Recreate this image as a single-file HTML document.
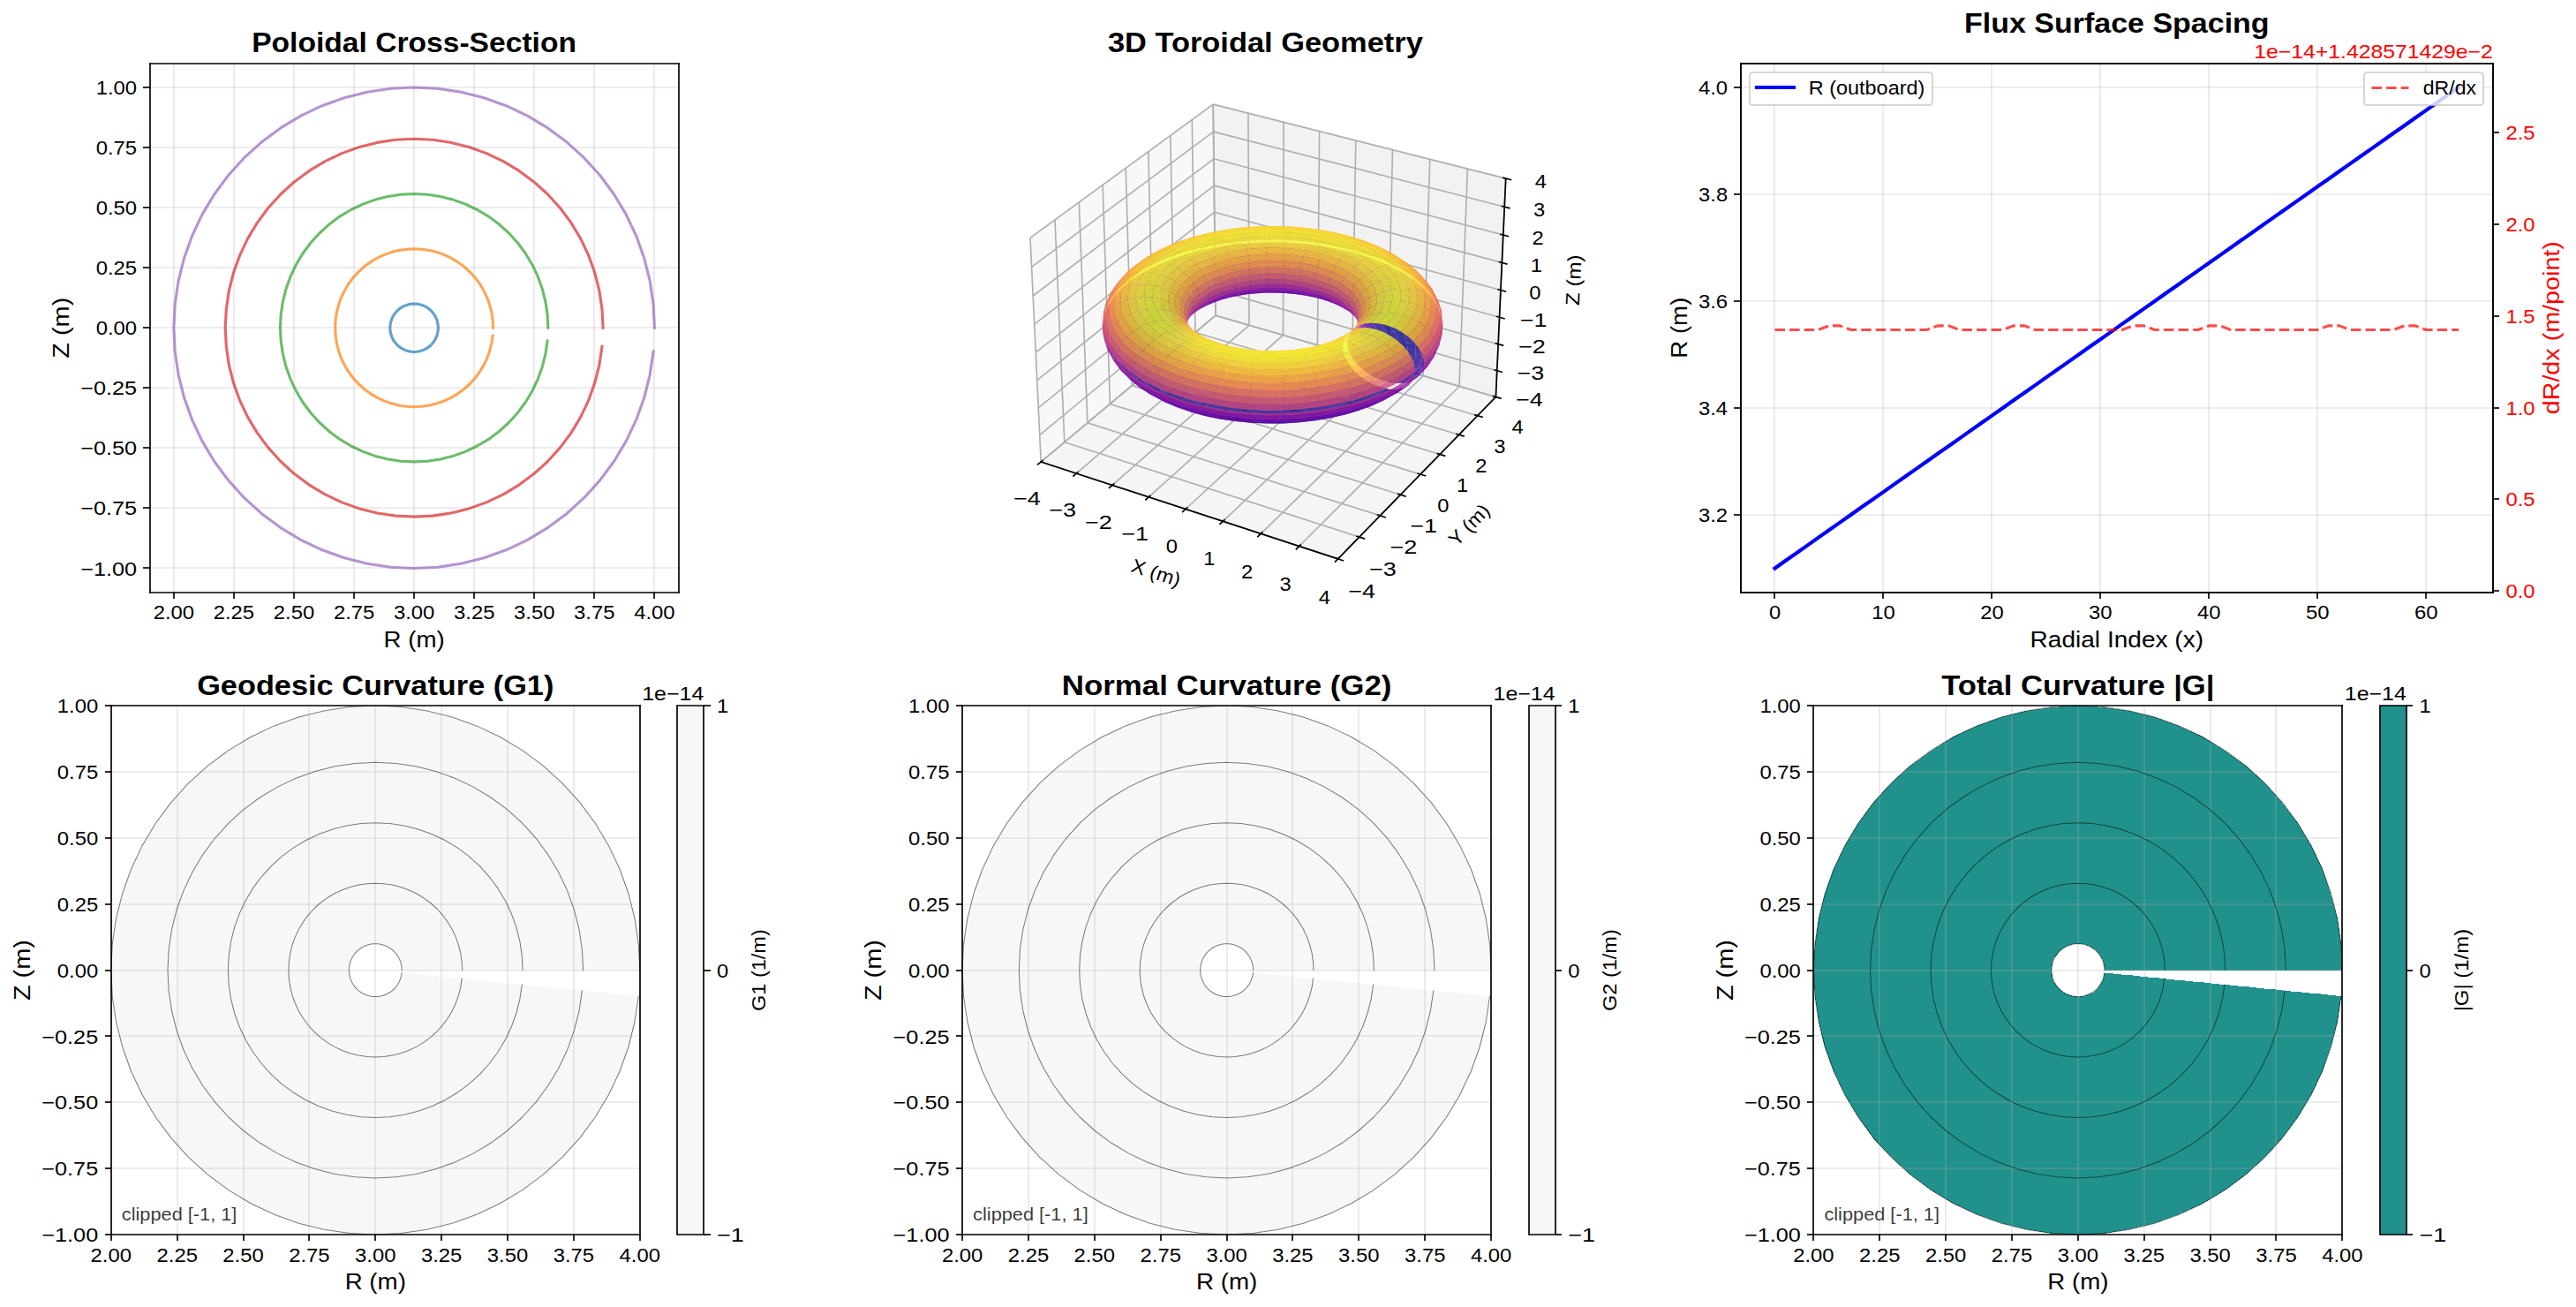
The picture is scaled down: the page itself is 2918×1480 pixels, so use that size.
<!DOCTYPE html><html><head><meta charset="utf-8"><title>Flux geometry</title><style>html,body{margin:0;padding:0;background:#fff;width:2918px;height:1480px;overflow:hidden}svg{display:block;font-family:"Liberation Sans",sans-serif}</style></head><body><svg width="2918" height="1480" viewBox="0 0 2918 1480" font-family="'Liberation Sans', sans-serif" stroke-linejoin="round" stroke-linecap="butt"><defs><clipPath id="c0"><rect x="170" y="72" width="599" height="599"/></clipPath><clipPath id="c1"><rect x="1134" y="72" width="599" height="599"/></clipPath><clipPath id="c2"><rect x="1972" y="72" width="852" height="599"/></clipPath><clipPath id="c3"><rect x="126" y="799" width="599" height="599"/></clipPath><clipPath id="c4"><rect x="767" y="799" width="30" height="599"/></clipPath><clipPath id="c5"><rect x="1090" y="799" width="599" height="599"/></clipPath><clipPath id="c6"><rect x="1732" y="799" width="30" height="599"/></clipPath><clipPath id="c7"><rect x="2054" y="799" width="599" height="599"/></clipPath><clipPath id="c8"><rect x="2696" y="799" width="30" height="599"/></clipPath></defs><path d="M0 1480L2919 1480L2919 0L0 0z" fill="#ffffff"/>
<path d="M170 671L769 671L769 72L170 72z" fill="#ffffff"/>
<g clip-path="url(#c0)">
<path d="M197 671L197 72" fill="none" stroke="#b0b0b0" stroke-opacity="0.3" stroke-width="1.67" stroke-linecap="square"/>
</g>
<path d="M197 671L197 678" fill="#000000" stroke="#000000" stroke-width="1.67"/>
<text x="196.9" y="701.3" font-size="21.88" textLength="46.4" lengthAdjust="spacingAndGlyphs" text-anchor="middle">2.00</text>
<g clip-path="url(#c0)">
<path d="M265 671L265 72" fill="none" stroke="#b0b0b0" stroke-opacity="0.3" stroke-width="1.67" stroke-linecap="square"/>
</g>
<path d="M265 671L265 678" fill="#000000" stroke="#000000" stroke-width="1.67"/>
<text x="264.9" y="701.3" font-size="21.88" textLength="46.4" lengthAdjust="spacingAndGlyphs" text-anchor="middle">2.25</text>
<g clip-path="url(#c0)">
<path d="M333 671L333 72" fill="none" stroke="#b0b0b0" stroke-opacity="0.3" stroke-width="1.67" stroke-linecap="square"/>
</g>
<path d="M333 671L333 678" fill="#000000" stroke="#000000" stroke-width="1.67"/>
<text x="333" y="701.3" font-size="21.88" textLength="46.4" lengthAdjust="spacingAndGlyphs" text-anchor="middle">2.50</text>
<g clip-path="url(#c0)">
<path d="M401 671L401 72" fill="none" stroke="#b0b0b0" stroke-opacity="0.3" stroke-width="1.67" stroke-linecap="square"/>
</g>
<path d="M401 671L401 678" fill="#000000" stroke="#000000" stroke-width="1.67"/>
<text x="401.1" y="701.3" font-size="21.88" textLength="46.4" lengthAdjust="spacingAndGlyphs" text-anchor="middle">2.75</text>
<g clip-path="url(#c0)">
<path d="M469 671L469 72" fill="none" stroke="#b0b0b0" stroke-opacity="0.3" stroke-width="1.67" stroke-linecap="square"/>
</g>
<path d="M469 671L469 678" fill="#000000" stroke="#000000" stroke-width="1.67"/>
<text x="469.1" y="701.3" font-size="21.88" textLength="46.4" lengthAdjust="spacingAndGlyphs" text-anchor="middle">3.00</text>
<g clip-path="url(#c0)">
<path d="M537 671L537 72" fill="none" stroke="#b0b0b0" stroke-opacity="0.3" stroke-width="1.67" stroke-linecap="square"/>
</g>
<path d="M537 671L537 678" fill="#000000" stroke="#000000" stroke-width="1.67"/>
<text x="537.2" y="701.3" font-size="21.88" textLength="46.4" lengthAdjust="spacingAndGlyphs" text-anchor="middle">3.25</text>
<g clip-path="url(#c0)">
<path d="M605 671L605 72" fill="none" stroke="#b0b0b0" stroke-opacity="0.3" stroke-width="1.67" stroke-linecap="square"/>
</g>
<path d="M605 671L605 678" fill="#000000" stroke="#000000" stroke-width="1.67"/>
<text x="605.3" y="701.3" font-size="21.88" textLength="46.4" lengthAdjust="spacingAndGlyphs" text-anchor="middle">3.50</text>
<g clip-path="url(#c0)">
<path d="M673 671L673 72" fill="none" stroke="#b0b0b0" stroke-opacity="0.3" stroke-width="1.67" stroke-linecap="square"/>
</g>
<path d="M673 671L673 678" fill="#000000" stroke="#000000" stroke-width="1.67"/>
<text x="673.3" y="701.3" font-size="21.88" textLength="46.4" lengthAdjust="spacingAndGlyphs" text-anchor="middle">3.75</text>
<g clip-path="url(#c0)">
<path d="M741 671L741 72" fill="none" stroke="#b0b0b0" stroke-opacity="0.3" stroke-width="1.67" stroke-linecap="square"/>
</g>
<path d="M741 671L741 678" fill="#000000" stroke="#000000" stroke-width="1.67"/>
<text x="741.4" y="701.3" font-size="21.88" textLength="46.4" lengthAdjust="spacingAndGlyphs" text-anchor="middle">4.00</text>
<text x="469.1" y="732.6" font-size="26.25" textLength="69.2" lengthAdjust="spacingAndGlyphs" text-anchor="middle">R (m)</text>
<g clip-path="url(#c0)">
<path d="M170 643L769 643" fill="none" stroke="#b0b0b0" stroke-opacity="0.3" stroke-width="1.67" stroke-linecap="square"/>
</g>
<path d="M170 643L162 643" fill="#000000" stroke="#000000" stroke-width="1.67"/>
<text x="155.1" y="651.5" font-size="21.88" textLength="63.9" lengthAdjust="spacingAndGlyphs" text-anchor="end">−1.00</text>
<g clip-path="url(#c0)">
<path d="M170 575L769 575" fill="none" stroke="#b0b0b0" stroke-opacity="0.3" stroke-width="1.67" stroke-linecap="square"/>
</g>
<path d="M170 575L162 575" fill="#000000" stroke="#000000" stroke-width="1.67"/>
<text x="155.1" y="583.4" font-size="21.88" textLength="63.9" lengthAdjust="spacingAndGlyphs" text-anchor="end">−0.75</text>
<g clip-path="url(#c0)">
<path d="M170 507L769 507" fill="none" stroke="#b0b0b0" stroke-opacity="0.3" stroke-width="1.67" stroke-linecap="square"/>
</g>
<path d="M170 507L162 507" fill="#000000" stroke="#000000" stroke-width="1.67"/>
<text x="155.1" y="515.4" font-size="21.88" textLength="63.9" lengthAdjust="spacingAndGlyphs" text-anchor="end">−0.50</text>
<g clip-path="url(#c0)">
<path d="M170 439L769 439" fill="none" stroke="#b0b0b0" stroke-opacity="0.3" stroke-width="1.67" stroke-linecap="square"/>
</g>
<path d="M170 439L162 439" fill="#000000" stroke="#000000" stroke-width="1.67"/>
<text x="155.1" y="447.3" font-size="21.88" textLength="63.9" lengthAdjust="spacingAndGlyphs" text-anchor="end">−0.25</text>
<g clip-path="url(#c0)">
<path d="M170 371L769 371" fill="none" stroke="#b0b0b0" stroke-opacity="0.3" stroke-width="1.67" stroke-linecap="square"/>
</g>
<path d="M170 371L162 371" fill="#000000" stroke="#000000" stroke-width="1.67"/>
<text x="155.1" y="379.2" font-size="21.88" textLength="46.4" lengthAdjust="spacingAndGlyphs" text-anchor="end">0.00</text>
<g clip-path="url(#c0)">
<path d="M170 303L769 303" fill="none" stroke="#b0b0b0" stroke-opacity="0.3" stroke-width="1.67" stroke-linecap="square"/>
</g>
<path d="M170 303L162 303" fill="#000000" stroke="#000000" stroke-width="1.67"/>
<text x="155.1" y="311.2" font-size="21.88" textLength="46.4" lengthAdjust="spacingAndGlyphs" text-anchor="end">0.25</text>
<g clip-path="url(#c0)">
<path d="M170 235L769 235" fill="none" stroke="#b0b0b0" stroke-opacity="0.3" stroke-width="1.67" stroke-linecap="square"/>
</g>
<path d="M170 235L162 235" fill="#000000" stroke="#000000" stroke-width="1.67"/>
<text x="155.1" y="243.1" font-size="21.88" textLength="46.4" lengthAdjust="spacingAndGlyphs" text-anchor="end">0.50</text>
<g clip-path="url(#c0)">
<path d="M170 167L769 167" fill="none" stroke="#b0b0b0" stroke-opacity="0.3" stroke-width="1.67" stroke-linecap="square"/>
</g>
<path d="M170 167L162 167" fill="#000000" stroke="#000000" stroke-width="1.67"/>
<text x="155.1" y="175" font-size="21.88" textLength="46.4" lengthAdjust="spacingAndGlyphs" text-anchor="end">0.75</text>
<g clip-path="url(#c0)">
<path d="M170 99L769 99" fill="none" stroke="#b0b0b0" stroke-opacity="0.3" stroke-width="1.67" stroke-linecap="square"/>
</g>
<path d="M170 99L162 99" fill="#000000" stroke="#000000" stroke-width="1.67"/>
<text x="155.1" y="107" font-size="21.88" textLength="46.4" lengthAdjust="spacingAndGlyphs" text-anchor="end">1.00</text>
<text x="77.9" y="371.2" font-size="26.25" textLength="69" lengthAdjust="spacingAndGlyphs" text-anchor="middle" transform="rotate(-90 77.9 371.2)">Z (m)</text>
<g clip-path="url(#c0)">
<path d="M496.4 371.2L496.2 368.6L495.8 365.9L495.2 363.3L494.3 360.8L493.1 358.4L491.8 356.1L490.2 354L488.4 352L486.4 350.2L484.3 348.6L482 347.2L479.6 346.1L477 345.2L474.4 344.5L471.8 344.1L469.1 344L466.5 344.1L463.8 344.5L461.2 345.2L458.7 346.1L456.3 347.2L454 348.6L451.9 350.2L449.9 352L448.1 354L446.5 356.1L445.1 358.4L444 360.8L443.1 363.3L442.4 365.9L442 368.6L441.9 371.2L442 373.9L442.4 376.5L443.1 379.1L444 381.6L445.1 384.1L446.5 386.4L448.1 388.5L449.9 390.5L451.9 392.3L454 393.9L456.3 395.2L458.7 396.4L461.2 397.3L463.8 397.9L466.5 398.3L469.1 398.5L471.8 398.3L474.4 397.9L477 397.3L479.6 396.4L482 395.2L484.3 393.9L486.4 392.3L488.4 390.5L490.2 388.5L491.8 386.4L493.1 384.1L494.3 381.6L495.2 379.1L495.8 376.5L496.2 373.9" fill="none" stroke="#1f77b4" stroke-opacity="0.7" stroke-width="3.12" stroke-linecap="square"/>
<path d="M558.6 371.2L558.2 362.5L556.9 353.8L554.7 345.3L551.8 337L548 329.1L543.5 321.5L538.3 314.5L532.4 308L525.9 302.1L518.8 296.9L511.3 292.3L503.4 288.6L495.1 285.6L486.6 283.5L477.9 282.2L469.1 281.8L460.4 282.2L451.7 283.5L443.2 285.6L434.9 288.6L427 292.3L419.4 296.9L412.4 302.1L405.9 308L400 314.5L394.8 321.5L390.2 329.1L386.5 337L383.5 345.3L381.4 353.8L380.1 362.5L379.7 371.2L380.1 380L381.4 388.7L383.5 397.2L386.5 405.5L390.2 413.4L394.8 420.9L400 428L405.9 434.5L412.4 440.4L419.4 445.6L427 450.1L434.9 453.9L443.2 456.8L451.7 459L460.4 460.3L469.1 460.7L477.9 460.3L486.6 459L495.1 456.8L503.4 453.9L511.3 450.1L518.8 445.6L525.9 440.4L532.4 434.5L538.3 428L543.5 420.9L548 413.4L551.8 405.5L554.7 397.2L556.9 388.7L558.2 380" fill="none" stroke="#ff7f0e" stroke-opacity="0.7" stroke-width="3.12" stroke-linecap="square"/>
<path d="M620.8 371.2L620.1 356.4L617.9 341.6L614.3 327.2L609.3 313.2L602.9 299.7L595.3 287L586.4 275L576.4 264L565.4 254L553.4 245.1L540.6 237.5L527.2 231.1L513.2 226.1L498.7 222.5L484 220.3L469.1 219.5L454.3 220.3L439.5 222.5L425.1 226.1L411.1 231.1L397.6 237.5L384.9 245.1L372.9 254L361.9 264L351.9 275L343 287L335.4 299.7L329 313.2L324 327.2L320.4 341.6L318.2 356.4L317.5 371.2L318.2 386.1L320.4 400.8L324 415.3L329 429.3L335.4 442.7L343 455.5L351.9 467.5L361.9 478.5L372.9 488.5L384.9 497.4L397.6 505L411.1 511.4L425.1 516.4L439.5 520L454.3 522.2L469.1 522.9L484 522.2L498.7 520L513.2 516.4L527.2 511.4L540.6 505L553.4 497.4L565.4 488.5L576.4 478.5L586.4 467.5L595.3 455.5L602.9 442.7L609.3 429.3L614.3 415.3L617.9 400.8L620.1 386.1" fill="none" stroke="#2ca02c" stroke-opacity="0.7" stroke-width="3.12" stroke-linecap="square"/>
<path d="M683.1 371.2L682 350.3L678.9 329.5L673.8 309.1L666.8 289.4L657.8 270.4L647 252.4L634.5 235.5L620.4 220L604.8 205.9L588 193.4L570 182.6L551 173.6L531.2 166.5L510.9 161.4L490.1 158.3L469.1 157.3L448.2 158.3L427.4 161.4L407 166.5L387.3 173.6L368.3 182.6L350.3 193.4L333.4 205.9L317.9 220L303.8 235.5L291.3 252.4L280.5 270.4L271.5 289.4L264.4 309.1L259.3 329.5L256.3 350.3L255.2 371.2L256.3 392.2L259.3 413L264.4 433.3L271.5 453.1L280.5 472.1L291.3 490.1L303.8 506.9L317.9 522.5L333.4 536.6L350.3 549.1L368.3 559.9L387.3 568.9L407 575.9L427.4 581L448.2 584.1L469.1 585.1L490.1 584.1L510.9 581L531.2 575.9L551 568.9L570 559.9L588 549.1L604.8 536.6L620.4 522.5L634.5 506.9L647 490.1L657.8 472.1L666.8 453.1L673.8 433.3L678.9 413L682 392.2" fill="none" stroke="#d62728" stroke-opacity="0.7" stroke-width="3.12" stroke-linecap="square"/>
<path d="M741.4 371.2L740.1 344.5L736.2 318.1L729.7 292.2L720.7 267L709.2 242.9L695.5 220L679.6 198.5L661.6 178.7L641.9 160.8L620.4 144.9L597.5 131.1L573.3 119.7L548.2 110.7L522.3 104.2L495.8 100.3L469.1 99L442.5 100.3L416 104.2L390.1 110.7L364.9 119.7L340.8 131.1L317.9 144.9L296.4 160.8L276.6 178.7L258.7 198.5L242.8 220L229 242.9L217.6 267L208.6 292.2L202.1 318.1L198.2 344.5L196.9 371.2L198.2 397.9L202.1 424.3L208.6 450.3L217.6 475.4L229 499.6L242.8 522.5L258.7 543.9L276.6 563.7L296.4 581.7L317.9 597.6L340.8 611.3L364.9 622.8L390.1 631.8L416 638.3L442.5 642.2L469.1 643.5L495.8 642.2L522.3 638.3L548.2 631.8L573.3 622.8L597.5 611.3L620.4 597.6L641.9 581.7L661.6 563.7L679.6 543.9L695.5 522.5L709.2 499.6L720.7 475.4L729.7 450.3L736.2 424.3L740.1 397.9" fill="none" stroke="#9467bd" stroke-opacity="0.7" stroke-width="3.12" stroke-linecap="square"/>
</g>
<path d="M170 671L170 72" fill="none" stroke="#000000" stroke-width="1.67" stroke-linejoin="miter" stroke-linecap="square"/>
<path d="M769 671L769 72" fill="none" stroke="#000000" stroke-width="1.67" stroke-linejoin="miter" stroke-linecap="square"/>
<path d="M170 671L769 671" fill="none" stroke="#000000" stroke-width="1.67" stroke-linejoin="miter" stroke-linecap="square"/>
<path d="M170 72L769 72" fill="none" stroke="#000000" stroke-width="1.67" stroke-linejoin="miter" stroke-linecap="square"/>
<text x="469.1" y="59.2" font-size="30.63" textLength="367.8" lengthAdjust="spacingAndGlyphs" font-weight="bold" text-anchor="middle">Poloidal Cross-Section</text>
<path d="M1134 671L1733 671L1733 72L1134 72z" fill="#ffffff"/>
<path d="M1179.2 523L1377 357.2L1374.2 118.1L1167 269.4" fill="#f2f2f2" fill-opacity="0.5" stroke="#f2f2f2" stroke-opacity="0.5" stroke-width="2.08" stroke-linejoin="miter"/>
<path d="M1377 357.2L1694.4 449.5L1705.7 202.1L1374.2 118.1" fill="#e6e6e6" fill-opacity="0.5" stroke="#e6e6e6" stroke-opacity="0.5" stroke-width="2.08" stroke-linejoin="miter"/>
<path d="M1179.2 523L1515.6 632.9L1694.4 449.5L1377 357.2" fill="#ececec" fill-opacity="0.5" stroke="#ececec" stroke-opacity="0.5" stroke-width="2.08" stroke-linejoin="miter"/>
<path d="M1179.2 523L1377 357.2L1374.2 118.1" fill="none" stroke="#b0b0b0" stroke-width="1.67"/>
<path d="M1219.3 536.1L1415 368.3L1413.9 128.2" fill="none" stroke="#b0b0b0" stroke-width="1.67"/>
<path d="M1260 549.4L1453.5 379.5L1454 138.3" fill="none" stroke="#b0b0b0" stroke-width="1.67"/>
<path d="M1301.2 562.9L1492.4 390.8L1494.6 148.6" fill="none" stroke="#b0b0b0" stroke-width="1.67"/>
<path d="M1343 576.5L1531.8 402.2L1535.8 159.1" fill="none" stroke="#b0b0b0" stroke-width="1.67"/>
<path d="M1385.3 590.3L1571.7 413.8L1577.5 169.6" fill="none" stroke="#b0b0b0" stroke-width="1.67"/>
<path d="M1428.2 604.3L1612.1 425.6L1619.7 180.3" fill="none" stroke="#b0b0b0" stroke-width="1.67"/>
<path d="M1471.6 618.5L1653 437.5L1662.4 191.2" fill="none" stroke="#b0b0b0" stroke-width="1.67"/>
<path d="M1515.6 632.9L1694.4 449.5L1705.7 202.1" fill="none" stroke="#b0b0b0" stroke-width="1.67"/>
<path d="M1167 269.4L1179.2 523L1515.6 632.9" fill="none" stroke="#b0b0b0" stroke-width="1.67"/>
<path d="M1195 248.9L1205.8 500.7L1539.8 608.1" fill="none" stroke="#b0b0b0" stroke-width="1.67"/>
<path d="M1222.3 229L1231.9 478.9L1563.4 583.9" fill="none" stroke="#b0b0b0" stroke-width="1.67"/>
<path d="M1249.1 209.5L1257.4 457.5L1586.5 560.2" fill="none" stroke="#b0b0b0" stroke-width="1.67"/>
<path d="M1275.2 190.4L1282.3 436.6L1609 537.1" fill="none" stroke="#b0b0b0" stroke-width="1.67"/>
<path d="M1300.8 171.7L1306.7 416.1L1631.1 514.5" fill="none" stroke="#b0b0b0" stroke-width="1.67"/>
<path d="M1325.8 153.5L1330.6 396.1L1652.6 492.3" fill="none" stroke="#b0b0b0" stroke-width="1.67"/>
<path d="M1350.3 135.6L1354 376.5L1673.7 470.7" fill="none" stroke="#b0b0b0" stroke-width="1.67"/>
<path d="M1374.2 118.1L1377 357.2L1694.4 449.5" fill="none" stroke="#b0b0b0" stroke-width="1.67"/>
<path d="M1694.4 449.5L1377 357.2L1179.2 523" fill="none" stroke="#b0b0b0" stroke-width="1.67"/>
<path d="M1695.7 419.7L1376.7 328.4L1177.7 492.6" fill="none" stroke="#b0b0b0" stroke-width="1.67"/>
<path d="M1697.1 389.7L1376.3 299.3L1176.2 461.8" fill="none" stroke="#b0b0b0" stroke-width="1.67"/>
<path d="M1698.5 359.3L1376 269.9L1174.7 430.6" fill="none" stroke="#b0b0b0" stroke-width="1.67"/>
<path d="M1699.9 328.5L1375.6 240.2L1173.2 399.1" fill="none" stroke="#b0b0b0" stroke-width="1.67"/>
<path d="M1701.3 297.4L1375.3 210.1L1171.7 367.2" fill="none" stroke="#b0b0b0" stroke-width="1.67"/>
<path d="M1702.8 266L1374.9 179.8L1170.1 335" fill="none" stroke="#b0b0b0" stroke-width="1.67"/>
<path d="M1704.2 234.3L1374.6 149.1L1168.6 302.4" fill="none" stroke="#b0b0b0" stroke-width="1.67"/>
<path d="M1705.7 202.1L1374.2 118.1L1167 269.4" fill="none" stroke="#b0b0b0" stroke-width="1.67"/>
<path d="M1179.2 523L1515.6 632.9" fill="none" stroke="#000000" stroke-width="1.67" stroke-linecap="square"/>
<path d="M1180.9 521.6L1175.7 525.9" fill="none" stroke="#000000" stroke-width="1.67" stroke-linecap="square"/>
<text x="1163.5" y="571.6" font-size="21.88" textLength="30.8" lengthAdjust="spacingAndGlyphs" text-anchor="middle">−4</text>
<path d="M1221 534.7L1215.9 539.1" fill="none" stroke="#000000" stroke-width="1.67" stroke-linecap="square"/>
<text x="1203.7" y="585" font-size="21.88" textLength="30.8" lengthAdjust="spacingAndGlyphs" text-anchor="middle">−3</text>
<path d="M1261.7 547.9L1256.6 552.4" fill="none" stroke="#000000" stroke-width="1.67" stroke-linecap="square"/>
<text x="1244.4" y="598.5" font-size="21.88" textLength="30.8" lengthAdjust="spacingAndGlyphs" text-anchor="middle">−2</text>
<path d="M1302.9 561.4L1297.9 565.9" fill="none" stroke="#000000" stroke-width="1.67" stroke-linecap="square"/>
<text x="1285.6" y="612.3" font-size="21.88" textLength="30.8" lengthAdjust="spacingAndGlyphs" text-anchor="middle">−1</text>
<path d="M1344.6 575L1339.7 579.6" fill="none" stroke="#000000" stroke-width="1.67" stroke-linecap="square"/>
<text x="1327.4" y="626.2" font-size="21.88" textLength="13.2" lengthAdjust="spacingAndGlyphs" text-anchor="middle">0</text>
<path d="M1386.9 588.8L1382 593.4" fill="none" stroke="#000000" stroke-width="1.67" stroke-linecap="square"/>
<text x="1369.8" y="640.3" font-size="21.88" textLength="13.2" lengthAdjust="spacingAndGlyphs" text-anchor="middle">1</text>
<path d="M1429.8 602.8L1424.9 607.5" fill="none" stroke="#000000" stroke-width="1.67" stroke-linecap="square"/>
<text x="1412.7" y="654.5" font-size="21.88" textLength="13.2" lengthAdjust="spacingAndGlyphs" text-anchor="middle">2</text>
<path d="M1473.2 616.9L1468.4 621.7" fill="none" stroke="#000000" stroke-width="1.67" stroke-linecap="square"/>
<text x="1456.2" y="669" font-size="21.88" textLength="13.2" lengthAdjust="spacingAndGlyphs" text-anchor="middle">3</text>
<path d="M1517.2 631.3L1512.5 636.1" fill="none" stroke="#000000" stroke-width="1.67" stroke-linecap="square"/>
<text x="1500.3" y="683.7" font-size="21.88" textLength="13.2" lengthAdjust="spacingAndGlyphs" text-anchor="middle">4</text>
<text x="1307.2" y="655.7" font-size="21.88" textLength="57.4" lengthAdjust="spacingAndGlyphs" text-anchor="middle" transform="rotate(-341.91 1307.2 655.7)">X (m)</text>
<path d="M1694.4 449.5L1515.6 632.9" fill="none" stroke="#000000" stroke-width="1.67" stroke-linecap="square"/>
<path d="M1512.8 632L1521.3 634.8" fill="none" stroke="#000000" stroke-width="1.67" stroke-linecap="square"/>
<text x="1542.6" y="677" font-size="21.88" textLength="30.8" lengthAdjust="spacingAndGlyphs" text-anchor="middle">−4</text>
<path d="M1537 607.2L1545.4 609.9" fill="none" stroke="#000000" stroke-width="1.67" stroke-linecap="square"/>
<text x="1566.5" y="651.9" font-size="21.88" textLength="30.8" lengthAdjust="spacingAndGlyphs" text-anchor="middle">−3</text>
<path d="M1560.6 583L1569 585.7" fill="none" stroke="#000000" stroke-width="1.67" stroke-linecap="square"/>
<text x="1589.8" y="627.4" font-size="21.88" textLength="30.8" lengthAdjust="spacingAndGlyphs" text-anchor="middle">−2</text>
<path d="M1583.7 559.4L1592 562" fill="none" stroke="#000000" stroke-width="1.67" stroke-linecap="square"/>
<text x="1612.6" y="603.4" font-size="21.88" textLength="30.8" lengthAdjust="spacingAndGlyphs" text-anchor="middle">−1</text>
<path d="M1606.3 536.2L1614.5 538.8" fill="none" stroke="#000000" stroke-width="1.67" stroke-linecap="square"/>
<text x="1634.8" y="579.9" font-size="21.88" textLength="13.2" lengthAdjust="spacingAndGlyphs" text-anchor="middle">0</text>
<path d="M1628.3 513.6L1636.5 516.1" fill="none" stroke="#000000" stroke-width="1.67" stroke-linecap="square"/>
<text x="1656.6" y="557" font-size="21.88" textLength="13.2" lengthAdjust="spacingAndGlyphs" text-anchor="middle">1</text>
<path d="M1649.9 491.5L1658 493.9" fill="none" stroke="#000000" stroke-width="1.67" stroke-linecap="square"/>
<text x="1677.9" y="534.5" font-size="21.88" textLength="13.2" lengthAdjust="spacingAndGlyphs" text-anchor="middle">2</text>
<path d="M1671 469.9L1679.1 472.3" fill="none" stroke="#000000" stroke-width="1.67" stroke-linecap="square"/>
<text x="1698.8" y="512.6" font-size="21.88" textLength="13.2" lengthAdjust="spacingAndGlyphs" text-anchor="middle">3</text>
<path d="M1691.7 448.7L1699.7 451" fill="none" stroke="#000000" stroke-width="1.67" stroke-linecap="square"/>
<text x="1719.1" y="491.1" font-size="21.88" textLength="13.2" lengthAdjust="spacingAndGlyphs" text-anchor="middle">4</text>
<text x="1669.5" y="599.6" font-size="21.88" textLength="56" lengthAdjust="spacingAndGlyphs" text-anchor="middle" transform="rotate(-45.74 1669.5 599.6)">Y (m)</text>
<path d="M1694.4 449.5L1705.7 202.1" fill="none" stroke="#000000" stroke-width="1.67" stroke-linecap="square"/>
<path d="M1691.7 448.7L1699.7 451" fill="none" stroke="#000000" stroke-width="1.67" stroke-linecap="square"/>
<text x="1732.4" y="460.1" font-size="21.88" textLength="30.8" lengthAdjust="spacingAndGlyphs" text-anchor="middle">−4</text>
<path d="M1693.1 419L1701.1 421.3" fill="none" stroke="#000000" stroke-width="1.67" stroke-linecap="square"/>
<text x="1734" y="430.4" font-size="21.88" textLength="30.8" lengthAdjust="spacingAndGlyphs" text-anchor="middle">−3</text>
<path d="M1694.4 388.9L1702.5 391.2" fill="none" stroke="#000000" stroke-width="1.67" stroke-linecap="square"/>
<text x="1735.5" y="400.3" font-size="21.88" textLength="30.8" lengthAdjust="spacingAndGlyphs" text-anchor="middle">−2</text>
<path d="M1695.8 358.5L1703.9 360.8" fill="none" stroke="#000000" stroke-width="1.67" stroke-linecap="square"/>
<text x="1737.1" y="370" font-size="21.88" textLength="30.8" lengthAdjust="spacingAndGlyphs" text-anchor="middle">−1</text>
<path d="M1697.2 327.8L1705.4 330" fill="none" stroke="#000000" stroke-width="1.67" stroke-linecap="square"/>
<text x="1738.8" y="339.3" font-size="21.88" textLength="13.2" lengthAdjust="spacingAndGlyphs" text-anchor="middle">0</text>
<path d="M1698.6 296.7L1706.8 298.9" fill="none" stroke="#000000" stroke-width="1.67" stroke-linecap="square"/>
<text x="1740.4" y="308.3" font-size="21.88" textLength="13.2" lengthAdjust="spacingAndGlyphs" text-anchor="middle">1</text>
<path d="M1700 265.3L1708.3 267.5" fill="none" stroke="#000000" stroke-width="1.67" stroke-linecap="square"/>
<text x="1742" y="276.9" font-size="21.88" textLength="13.2" lengthAdjust="spacingAndGlyphs" text-anchor="middle">2</text>
<path d="M1701.5 233.5L1709.8 235.7" fill="none" stroke="#000000" stroke-width="1.67" stroke-linecap="square"/>
<text x="1743.7" y="245.2" font-size="21.88" textLength="13.2" lengthAdjust="spacingAndGlyphs" text-anchor="middle">3</text>
<path d="M1702.9 201.4L1711.3 203.6" fill="none" stroke="#000000" stroke-width="1.67" stroke-linecap="square"/>
<text x="1745.4" y="213.2" font-size="21.88" textLength="13.2" lengthAdjust="spacingAndGlyphs" text-anchor="middle">4</text>
<text x="1790.1" y="317.5" font-size="21.88" textLength="57.4" lengthAdjust="spacingAndGlyphs" text-anchor="middle" transform="rotate(-87.38 1790.1 317.5)">Z (m)</text>
<g clip-path="url(#c1)">
<path d="M1464.4 292.7L1464.7 289L1465 285.5L1447.4 284.8L1429.8 284.9L1429.9 288.5L1430.1 292.1L1447.3 292z" fill="#7201a8" fill-opacity="0.8"/>
<path d="M1465 285.5L1465.2 282L1465.3 278.6L1447.5 277.9L1429.6 278L1429.7 281.4L1429.8 284.9L1447.4 284.8z" fill="#9410a2" fill-opacity="0.8"/>
<path d="M1465.3 278.6L1465.4 275.3L1447.5 274.6L1429.6 274.8L1429.6 278L1447.5 277.9z" fill="#b22b8f" fill-opacity="0.8"/>
<path d="M1463.7 300L1464.1 296.3L1464.4 292.7L1447.3 292L1430.1 292.1L1430.2 295.8L1430.4 299.4L1447.1 299.3z" fill="#5502a4" fill-opacity="0.8"/>
<path d="M1430.1 292.1L1429.9 288.5L1429.8 284.9L1412.3 285.9L1395 287.7L1395.5 291.2L1396.1 294.8L1413 293.1z" fill="#7201a8" fill-opacity="0.8"/>
<path d="M1429.8 284.9L1429.7 281.4L1429.6 278L1411.8 279L1394.3 280.8L1394.6 284.2L1395 287.7L1412.3 285.9z" fill="#9410a2" fill-opacity="0.8"/>
<path d="M1429.6 278L1429.6 274.8L1411.7 275.7L1394.1 277.5L1394.3 280.8L1411.8 279z" fill="#b22b8f" fill-opacity="0.8"/>
<path d="M1430.4 299.4L1430.2 295.8L1430.1 292.1L1413 293.1L1396.1 294.8L1396.8 298.5L1397.5 302.1L1413.9 300.4z" fill="#5502a4" fill-opacity="0.8"/>
<path d="M1498.1 296.4L1498.8 292.9L1499.4 289.3L1482.4 287L1465 285.5L1464.7 289L1464.4 292.7L1481.4 294.2z" fill="#7201a8" fill-opacity="0.8"/>
<path d="M1499.4 289.3L1499.9 285.8L1500.3 282.4L1483 280.1L1465.3 278.6L1465.2 282L1465 285.5L1482.4 287z" fill="#9410a2" fill-opacity="0.8"/>
<path d="M1462.8 307L1463.3 303.5L1463.7 300L1447.1 299.3L1430.4 299.4L1430.6 303L1430.9 306.5L1446.9 306.4z" fill="#3a049a" fill-opacity="0.8"/>
<path d="M1500.3 282.4L1500.5 279.2L1483.1 276.8L1465.4 275.3L1465.3 278.6L1483 280.1z" fill="#b22b8f" fill-opacity="0.8"/>
<path d="M1465.5 272.2L1465.5 269.4L1465.4 266.8L1447.5 266.1L1429.6 266.2L1429.6 268.8L1429.6 271.7L1447.5 271.5z" fill="#cc4778" fill-opacity="0.8"/>
<path d="M1496.3 303.6L1497.2 300L1498.1 296.4L1481.4 294.2L1464.4 292.7L1464.1 296.3L1463.7 300L1480.1 301.4z" fill="#5502a4" fill-opacity="0.8"/>
<path d="M1430.9 306.5L1430.6 303L1430.4 299.4L1413.9 300.4L1397.5 302.1L1398.4 305.6L1399.3 309.1L1415 307.4z" fill="#3a049a" fill-opacity="0.8"/>
<path d="M1429.6 271.7L1429.6 268.8L1429.6 266.2L1411.8 267.2L1394.2 269L1394.1 271.6L1394 274.5L1411.7 272.7z" fill="#cc4778" fill-opacity="0.8"/>
<path d="M1494.1 310.6L1495.2 307.1L1496.3 303.6L1480.1 301.4L1463.7 300L1463.3 303.5L1462.8 307L1478.6 308.4z" fill="#3a049a" fill-opacity="0.8"/>
<path d="M1461.8 313.7L1462.3 310.4L1462.8 307L1446.9 306.4L1430.9 306.5L1431.1 309.9L1431.4 313.2L1446.6 313z" fill="#240691" fill-opacity="0.8"/>
<path d="M1500.6 276.1L1500.6 273.3L1500.4 270.6L1483.1 268.3L1465.4 266.8L1465.5 269.4L1465.5 272.2L1483.2 273.8z" fill="#cc4778" fill-opacity="0.8"/>
<path d="M1396.1 294.8L1395.5 291.2L1395 287.7L1378.1 290.3L1361.7 293.6L1362.6 297.2L1363.6 300.7L1379.6 297.4z" fill="#7201a8" fill-opacity="0.8"/>
<path d="M1465.4 266.8L1465.3 264.4L1465.1 262.3L1447.4 261.6L1429.7 261.7L1429.7 263.8L1429.6 266.2L1447.5 266.1z" fill="#e06363" fill-opacity="0.8"/>
<path d="M1395 287.7L1394.6 284.2L1394.3 280.8L1377.1 283.4L1360.5 286.8L1361 290.2L1361.7 293.6L1378.1 290.3z" fill="#9410a2" fill-opacity="0.8"/>
<path d="M1431.4 313.2L1431.1 309.9L1430.9 306.5L1415 307.4L1399.3 309.1L1400.2 312.4L1401.3 315.6L1416.2 314z" fill="#240691" fill-opacity="0.8"/>
<path d="M1397.5 302.1L1396.8 298.5L1396.1 294.8L1379.6 297.4L1363.6 300.7L1364.8 304.2L1366.1 307.8L1381.5 304.5z" fill="#5502a4" fill-opacity="0.8"/>
<path d="M1394.3 280.8L1394.1 277.5L1376.9 280.2L1360.2 283.6L1360.5 286.8L1377.1 283.4z" fill="#b22b8f" fill-opacity="0.8"/>
<path d="M1429.6 266.2L1429.7 263.8L1429.7 261.7L1412.1 262.7L1394.8 264.5L1394.4 266.6L1394.2 269L1411.8 267.2z" fill="#e06363" fill-opacity="0.8"/>
<path d="M1491.6 317L1492.9 313.9L1494.1 310.6L1478.6 308.4L1462.8 307L1462.3 310.4L1461.8 313.7L1476.9 315z" fill="#240691" fill-opacity="0.8"/>
<path d="M1529.8 303.3L1530.9 299.8L1531.9 296.3L1516 292.4L1499.4 289.3L1498.8 292.9L1498.1 296.4L1514.2 299.5z" fill="#7201a8" fill-opacity="0.8"/>
<path d="M1399.3 309.1L1398.4 305.6L1397.5 302.1L1381.5 304.5L1366.1 307.8L1367.5 311.2L1369.1 314.6L1383.9 311.4z" fill="#3a049a" fill-opacity="0.8"/>
<path d="M1531.9 296.3L1532.7 292.9L1533.3 289.5L1517.1 285.6L1500.3 282.4L1499.9 285.8L1499.4 289.3L1516 292.4z" fill="#9410a2" fill-opacity="0.8"/>
<path d="M1500.4 270.6L1500.1 268.2L1499.6 266.1L1482.5 263.8L1465.1 262.3L1465.3 264.4L1465.4 266.8L1483.1 268.3z" fill="#e06363" fill-opacity="0.8"/>
<path d="M1527 310.3L1528.5 306.8L1529.8 303.3L1514.2 299.5L1498.1 296.4L1497.2 300L1496.3 303.6L1511.9 306.6z" fill="#5502a4" fill-opacity="0.8"/>
<path d="M1460.7 319.5L1461.3 316.7L1461.8 313.7L1446.6 313L1431.4 313.2L1431.6 316.2L1431.9 319.1L1446.4 319z" fill="#130789" fill-opacity="0.8"/>
<path d="M1533.3 289.5L1533.6 286.3L1517.4 282.4L1500.5 279.2L1500.3 282.4L1517.1 285.6z" fill="#b22b8f" fill-opacity="0.8"/>
<path d="M1394 274.5L1394.1 271.6L1394.2 269L1377 271.6L1360.4 275L1360.1 277.7L1360.1 280.5L1376.8 277.1z" fill="#cc4778" fill-opacity="0.8"/>
<path d="M1465.1 262.3L1464.9 260.5L1464.6 259L1447.3 258.3L1430 258.5L1429.9 260L1429.7 261.7L1447.4 261.6z" fill="#f0804e" fill-opacity="0.8"/>
<path d="M1431.9 319.1L1431.6 316.2L1431.4 313.2L1416.2 314L1401.3 315.6L1402.3 318.6L1403.4 321.4L1417.6 319.9z" fill="#130789" fill-opacity="0.8"/>
<path d="M1523.6 317L1525.3 313.7L1527 310.3L1511.9 306.6L1496.3 303.6L1495.2 307.1L1494.1 310.6L1509.1 313.4z" fill="#3a049a" fill-opacity="0.8"/>
<path d="M1401.3 315.6L1400.2 312.4L1399.3 309.1L1383.9 311.4L1369.1 314.6L1370.8 317.8L1372.5 320.8L1386.7 317.9z" fill="#240691" fill-opacity="0.8"/>
<path d="M1429.7 261.7L1429.9 260L1430 258.5L1412.8 259.4L1395.8 261.1L1395.2 262.6L1394.8 264.5L1412.1 262.7z" fill="#f0804e" fill-opacity="0.8"/>
<path d="M1488.9 322.7L1490.3 320L1491.6 317L1476.9 315L1461.8 313.7L1461.3 316.7L1460.7 319.5L1475 320.8z" fill="#130789" fill-opacity="0.8"/>
<path d="M1533.8 283.3L1533.7 280.4L1533.5 277.7L1517.2 273.8L1500.4 270.6L1500.6 273.3L1500.6 276.1L1517.5 279.3z" fill="#cc4778" fill-opacity="0.8"/>
<path d="M1394.2 269L1394.4 266.6L1394.8 264.5L1377.8 267L1361.4 270.4L1360.8 272.6L1360.4 275L1377 271.6z" fill="#e06363" fill-opacity="0.8"/>
<path d="M1499.6 266.1L1499.1 264.3L1498.4 262.7L1481.7 260.5L1464.6 259L1464.9 260.5L1465.1 262.3L1482.5 263.8z" fill="#f0804e" fill-opacity="0.8"/>
<path d="M1519.7 323.2L1521.7 320.2L1523.6 317L1509.1 313.4L1494.1 310.6L1492.9 313.9L1491.6 317L1505.9 319.8z" fill="#240691" fill-opacity="0.8"/>
<path d="M1459.6 324.5L1460.2 322.1L1460.7 319.5L1446.4 319L1431.9 319.1L1432.2 321.7L1432.5 324L1446.1 323.9z" fill="#0d0887" fill-opacity="0.8"/>
<path d="M1363.6 300.7L1362.6 297.2L1361.7 293.6L1346 297.8L1331.1 302.7L1332.3 306.1L1333.7 309.6L1348.3 304.8z" fill="#7201a8" fill-opacity="0.8"/>
<path d="M1464.6 259L1464.3 257.9L1463.9 257.1L1447.1 256.4L1430.3 256.6L1430.2 257.3L1430 258.5L1447.3 258.3z" fill="#fb9f3a" fill-opacity="0.8"/>
<path d="M1403.4 321.4L1402.3 318.6L1401.3 315.6L1386.7 317.9L1372.5 320.8L1374.3 323.7L1376.2 326.4L1389.6 323.5z" fill="#130789" fill-opacity="0.8"/>
<path d="M1432.5 324L1432.2 321.7L1431.9 319.1L1417.6 319.9L1403.4 321.4L1404.5 323.9L1405.7 326.2L1419 324.8z" fill="#0d0887" fill-opacity="0.8"/>
<path d="M1361.7 293.6L1361 290.2L1360.5 286.8L1344.6 291L1329.5 296L1330.2 299.3L1331.1 302.7L1346 297.8z" fill="#9410a2" fill-opacity="0.8"/>
<path d="M1366.1 307.8L1364.8 304.2L1363.6 300.7L1348.3 304.8L1333.7 309.6L1335.4 313L1337.2 316.4L1351.2 311.7z" fill="#5502a4" fill-opacity="0.8"/>
<path d="M1533.5 277.7L1533 275.2L1532.3 273.1L1516.3 269.2L1499.6 266.1L1500.1 268.2L1500.4 270.6L1517.2 273.8z" fill="#e06363" fill-opacity="0.8"/>
<path d="M1360.5 286.8L1360.2 283.6L1344.2 287.8L1329 292.8L1329.5 296L1344.6 291z" fill="#b22b8f" fill-opacity="0.8"/>
<path d="M1486.1 327.5L1487.5 325.3L1488.9 322.7L1475 320.8L1460.7 319.5L1460.2 322.1L1459.6 324.5L1473 325.7z" fill="#0d0887" fill-opacity="0.8"/>
<path d="M1430 258.5L1430.2 257.3L1430.3 256.6L1413.7 257.5L1397.2 259.1L1396.4 260L1395.8 261.1L1412.8 259.4z" fill="#fb9f3a" fill-opacity="0.8"/>
<path d="M1394.8 264.5L1395.2 262.6L1395.8 261.1L1379.2 263.7L1363.1 266.9L1362.2 268.5L1361.4 270.4L1377.8 267z" fill="#f0804e" fill-opacity="0.8"/>
<path d="M1369.1 314.6L1367.5 311.2L1366.1 307.8L1351.2 311.7L1337.2 316.4L1339.2 319.7L1341.4 322.9L1354.9 318.4z" fill="#3a049a" fill-opacity="0.8"/>
<path d="M1515.5 328.6L1517.6 326L1519.7 323.2L1505.9 319.8L1491.6 317L1490.3 320L1488.9 322.7L1502.5 325.3z" fill="#130789" fill-opacity="0.8"/>
<path d="M1498.4 262.7L1497.6 261.5L1496.7 260.7L1480.4 258.5L1463.9 257.1L1464.3 257.9L1464.6 259L1481.7 260.5z" fill="#fb9f3a" fill-opacity="0.8"/>
<path d="M1558.5 313.1L1560.1 309.7L1561.4 306.3L1547.1 301L1531.9 296.3L1530.9 299.8L1529.8 303.3L1544.6 307.9z" fill="#7201a8" fill-opacity="0.8"/>
<path d="M1360.1 280.5L1360.1 277.7L1360.4 275L1344.4 279.2L1329.2 284.1L1328.9 286.8L1328.8 289.7L1344 284.7z" fill="#cc4778" fill-opacity="0.8"/>
<path d="M1554.8 319.8L1556.8 316.5L1558.5 313.1L1544.6 307.9L1529.8 303.3L1528.5 306.8L1527 310.3L1541.3 314.7z" fill="#5502a4" fill-opacity="0.8"/>
<path d="M1561.4 306.3L1562.4 303L1563.2 299.7L1548.7 294.2L1533.3 289.5L1532.7 292.9L1531.9 296.3L1547.1 301z" fill="#9410a2" fill-opacity="0.8"/>
<path d="M1458.5 328.3L1459 326.5L1459.6 324.5L1446.1 323.9L1432.5 324L1432.8 326.1L1433.1 327.9L1445.8 327.8z" fill="#130789" fill-opacity="0.8"/>
<path d="M1405.7 326.2L1404.5 323.9L1403.4 321.4L1389.6 323.5L1376.2 326.4L1378.1 328.8L1380.1 330.9L1392.7 328.2z" fill="#0d0887" fill-opacity="0.8"/>
<path d="M1532.3 273.1L1531.4 271.1L1530.3 269.5L1514.7 265.8L1498.4 262.7L1499.1 264.3L1499.6 266.1L1516.3 269.2z" fill="#f0804e" fill-opacity="0.8"/>
<path d="M1372.5 320.8L1370.8 317.8L1369.1 314.6L1354.9 318.4L1341.4 322.9L1343.7 325.9L1346.1 328.8L1359 324.5z" fill="#240691" fill-opacity="0.8"/>
<path d="M1563.2 299.7L1563.7 296.5L1549.1 291L1533.6 286.3L1533.3 289.5L1548.7 294.2z" fill="#b22b8f" fill-opacity="0.8"/>
<path d="M1463.9 257.1L1463.5 256.6L1463 256.5L1446.9 255.9L1430.8 256L1430.6 256.1L1430.3 256.6L1447.1 256.4z" fill="#febb2b" fill-opacity="0.8"/>
<path d="M1433.1 327.9L1432.8 326.1L1432.5 324L1419 324.8L1405.7 326.2L1406.8 328.2L1407.9 329.9L1420.4 328.6z" fill="#130789" fill-opacity="0.8"/>
<path d="M1550.2 326.2L1552.6 323.1L1554.8 319.8L1541.3 314.7L1527 310.3L1525.3 313.7L1523.6 317L1537.3 321.3z" fill="#3a049a" fill-opacity="0.8"/>
<path d="M1483.3 331.1L1484.7 329.5L1486.1 327.5L1473 325.7L1459.6 324.5L1459 326.5L1458.5 328.3L1471 329.4z" fill="#130789" fill-opacity="0.8"/>
<path d="M1395.8 261.1L1396.4 260L1397.2 259.1L1381.1 261.6L1365.5 264.7L1364.2 265.7L1363.1 266.9L1379.2 263.7z" fill="#fb9f3a" fill-opacity="0.8"/>
<path d="M1511.1 333L1513.3 330.9L1515.5 328.6L1502.5 325.3L1488.9 322.7L1487.5 325.3L1486.1 327.5L1498.9 330z" fill="#0d0887" fill-opacity="0.8"/>
<path d="M1430.3 256.6L1430.6 256.1L1430.8 256L1414.7 256.9L1398.9 258.5L1398 258.7L1397.2 259.1L1413.7 257.5z" fill="#febb2b" fill-opacity="0.8"/>
<path d="M1360.4 275L1360.8 272.6L1361.4 270.4L1345.6 274.5L1330.7 279.4L1329.8 281.6L1329.2 284.1L1344.4 279.2z" fill="#e06363" fill-opacity="0.8"/>
<path d="M1376.2 326.4L1374.3 323.7L1372.5 320.8L1359 324.5L1346.1 328.8L1348.7 331.4L1351.3 333.9L1363.4 329.8z" fill="#130789" fill-opacity="0.8"/>
<path d="M1496.7 260.7L1495.7 260.2L1494.5 260L1478.9 257.9L1463 256.5L1463.5 256.6L1463.9 257.1L1480.4 258.5z" fill="#febb2b" fill-opacity="0.8"/>
<path d="M1545.1 332L1547.7 329.2L1550.2 326.2L1537.3 321.3L1523.6 317L1521.7 320.2L1519.7 323.2L1532.8 327.3z" fill="#240691" fill-opacity="0.8"/>
<path d="M1563.9 293.4L1563.8 290.5L1563.4 287.8L1548.9 282.4L1533.5 277.7L1533.7 280.4L1533.8 283.3L1549.3 288z" fill="#cc4778" fill-opacity="0.8"/>
<path d="M1530.3 269.5L1529.1 268.2L1527.6 267.3L1512.4 263.6L1496.7 260.7L1497.6 261.5L1498.4 262.7L1514.7 265.8z" fill="#fb9f3a" fill-opacity="0.8"/>
<path d="M1407.9 329.9L1406.8 328.2L1405.7 326.2L1392.7 328.2L1380.1 330.9L1382 332.8L1384 334.3L1395.7 331.8z" fill="#130789" fill-opacity="0.8"/>
<path d="M1457.4 330.8L1457.9 329.7L1458.5 328.3L1445.8 327.8L1433.1 327.9L1433.3 329.3L1433.6 330.4L1445.5 330.3z" fill="#240691" fill-opacity="0.8"/>
<path d="M1361.4 270.4L1362.2 268.5L1363.1 266.9L1347.7 270.9L1333.1 275.7L1331.8 277.4L1330.7 279.4L1345.6 274.5z" fill="#f0804e" fill-opacity="0.8"/>
<path d="M1433.6 330.4L1433.3 329.3L1433.1 327.9L1420.4 328.6L1407.9 329.9L1409 331.3L1410.1 332.3L1421.8 331.1z" fill="#240691" fill-opacity="0.8"/>
<path d="M1539.5 336.9L1542.3 334.6L1545.1 332L1532.8 327.3L1519.7 323.2L1517.6 326L1515.5 328.6L1527.8 332.5z" fill="#130789" fill-opacity="0.8"/>
<path d="M1563.4 287.8L1562.8 285.2L1561.9 283L1547.5 277.7L1532.3 273.1L1533 275.2L1533.5 277.7L1548.9 282.4z" fill="#e06363" fill-opacity="0.8"/>
<path d="M1463 256.5L1462.5 256.8L1462 257.5L1446.7 256.9L1431.3 257L1431 256.3L1430.8 256L1446.9 255.9z" fill="#fbd524" fill-opacity="0.8"/>
<path d="M1506.7 336.3L1508.9 334.8L1511.1 333L1498.9 330L1486.1 327.5L1484.7 329.5L1483.3 331.1L1495.2 333.4z" fill="#130789" fill-opacity="0.8"/>
<path d="M1397.2 259.1L1398 258.7L1398.9 258.5L1383.4 260.9L1368.4 263.9L1366.9 264.2L1365.5 264.7L1381.1 261.6z" fill="#febb2b" fill-opacity="0.8"/>
<path d="M1380.1 330.9L1378.1 328.8L1376.2 326.4L1363.4 329.8L1351.3 333.9L1353.9 336.1L1356.6 338L1368 334.2z" fill="#0d0887" fill-opacity="0.8"/>
<path d="M1480.6 333.4L1482 332.4L1483.3 331.1L1471 329.4L1458.5 328.3L1457.9 329.7L1457.4 330.8L1469.1 331.8z" fill="#240691" fill-opacity="0.8"/>
<path d="M1430.8 256L1431 256.3L1431.3 257L1416 257.8L1400.9 259.3L1399.8 258.8L1398.9 258.5L1414.7 256.9z" fill="#fbd524" fill-opacity="0.8"/>
<path d="M1333.7 309.6L1332.3 306.1L1331.1 302.7L1317.2 308.3L1304.3 314.5L1305.8 317.8L1307.5 321.2L1320.1 315z" fill="#7201a8" fill-opacity="0.8"/>
<path d="M1337.2 316.4L1335.4 313L1333.7 309.6L1320.1 315L1307.5 321.2L1309.6 324.4L1311.9 327.6L1324 321.7z" fill="#5502a4" fill-opacity="0.8"/>
<path d="M1331.1 302.7L1330.2 299.3L1329.5 296L1315.3 301.6L1302.2 307.9L1303.1 311.2L1304.3 314.5L1317.2 308.3z" fill="#9410a2" fill-opacity="0.8"/>
<path d="M1494.5 260L1493.4 260.2L1492.1 260.8L1477.2 258.8L1462 257.5L1462.5 256.8L1463 256.5L1478.9 257.9z" fill="#fbd524" fill-opacity="0.8"/>
<path d="M1341.4 322.9L1339.2 319.7L1337.2 316.4L1324 321.7L1311.9 327.6L1314.4 330.7L1317.1 333.7L1328.7 328z" fill="#3a049a" fill-opacity="0.8"/>
<path d="M1329.5 296L1329 292.8L1314.8 298.4L1301.6 304.8L1302.2 307.9L1315.3 301.6z" fill="#b22b8f" fill-opacity="0.8"/>
<path d="M1527.6 267.3L1526 266.6L1524.3 266.3L1509.7 262.8L1494.5 260L1495.7 260.2L1496.7 260.7L1512.4 263.6z" fill="#febb2b" fill-opacity="0.8"/>
<path d="M1410.1 332.3L1409 331.3L1407.9 329.9L1395.7 331.8L1384 334.3L1385.8 335.5L1387.7 336.4L1398.7 334.1z" fill="#240691" fill-opacity="0.8"/>
<path d="M1533.6 340.9L1536.6 339L1539.5 336.9L1527.8 332.5L1515.5 328.6L1513.3 330.9L1511.1 333L1522.7 336.7z" fill="#0d0887" fill-opacity="0.8"/>
<path d="M1561.9 283L1560.7 281L1559.2 279.2L1545.2 274L1530.3 269.5L1531.4 271.1L1532.3 273.1L1547.5 277.7z" fill="#f0804e" fill-opacity="0.8"/>
<path d="M1363.1 266.9L1364.2 265.7L1365.5 264.7L1350.6 268.6L1336.4 273.2L1334.6 274.3L1333.1 275.7L1347.7 270.9z" fill="#fb9f3a" fill-opacity="0.8"/>
<path d="M1346.1 328.8L1343.7 325.9L1341.4 322.9L1328.7 328L1317.1 333.7L1320 336.5L1323 339.1L1334.1 333.7z" fill="#240691" fill-opacity="0.8"/>
<path d="M1456.4 331.9L1456.9 331.5L1457.4 330.8L1445.5 330.3L1433.6 330.4L1433.9 331.1L1434.1 331.5L1445.3 331.4z" fill="#3a049a" fill-opacity="0.8"/>
<path d="M1384 334.3L1382 332.8L1380.1 330.9L1368 334.2L1356.6 338L1359.3 339.6L1362 341L1372.7 337.4z" fill="#130789" fill-opacity="0.8"/>
<path d="M1502.5 338.3L1504.6 337.5L1506.7 336.3L1495.2 333.4L1483.3 331.1L1482 332.4L1480.6 333.4L1491.8 335.6z" fill="#240691" fill-opacity="0.8"/>
<path d="M1434.1 331.5L1433.9 331.1L1433.6 330.4L1421.8 331.1L1410.1 332.3L1411.1 333L1412.1 333.3L1423 332.2z" fill="#3a049a" fill-opacity="0.8"/>
<path d="M1462 257.5L1461.5 258.4L1460.9 259.8L1446.4 259.2L1431.8 259.3L1431.5 258L1431.3 257L1446.7 256.9z" fill="#f5e926" fill-opacity="0.8"/>
<path d="M1328.8 289.7L1328.9 286.8L1329.2 284.1L1315 289.7L1301.9 296L1301.5 298.8L1301.4 301.7L1314.6 295.4z" fill="#cc4778" fill-opacity="0.8"/>
<path d="M1398.9 258.5L1399.8 258.8L1400.9 259.3L1386.1 261.6L1371.8 264.5L1370.1 264L1368.4 263.9L1383.4 260.9z" fill="#fbd524" fill-opacity="0.8"/>
<path d="M1583.3 325.6L1585.2 322.3L1586.7 319L1574.6 312.4L1561.4 306.3L1560.1 309.7L1558.5 313.1L1571.5 319.1z" fill="#7201a8" fill-opacity="0.8"/>
<path d="M1578.7 331.9L1581.1 328.8L1583.3 325.6L1571.5 319.1L1558.5 313.1L1556.8 316.5L1554.8 319.8L1567.3 325.6z" fill="#5502a4" fill-opacity="0.8"/>
<path d="M1478.1 334.4L1479.3 334.1L1480.6 333.4L1469.1 331.8L1457.4 330.8L1456.9 331.5L1456.4 331.9L1467.4 332.9z" fill="#3a049a" fill-opacity="0.8"/>
<path d="M1431.3 257L1431.5 258L1431.8 259.3L1417.3 260.1L1403 261.6L1401.9 260.3L1400.9 259.3L1416 257.8z" fill="#f5e926" fill-opacity="0.8"/>
<path d="M1586.7 319L1588 315.7L1588.9 312.5L1576.6 305.8L1563.2 299.7L1562.4 303L1561.4 306.3L1574.6 312.4z" fill="#9410a2" fill-opacity="0.8"/>
<path d="M1573.2 337.8L1576 335L1578.7 331.9L1567.3 325.6L1554.8 319.8L1552.6 323.1L1550.2 326.2L1562.2 331.7z" fill="#3a049a" fill-opacity="0.8"/>
<path d="M1351.3 333.9L1348.7 331.4L1346.1 328.8L1334.1 333.7L1323 339.1L1326.2 341.5L1329.5 343.7L1339.9 338.5z" fill="#130789" fill-opacity="0.8"/>
<path d="M1588.9 312.5L1589.5 309.3L1577.2 302.6L1563.7 296.5L1563.2 299.7L1576.6 305.8z" fill="#b22b8f" fill-opacity="0.8"/>
<path d="M1527.8 343.7L1530.7 342.4L1533.6 340.9L1522.7 336.7L1511.1 333L1508.9 334.8L1506.7 336.3L1517.6 339.7z" fill="#130789" fill-opacity="0.8"/>
<path d="M1559.2 279.2L1557.6 277.8L1555.7 276.6L1542.1 271.6L1527.6 267.3L1529.1 268.2L1530.3 269.5L1545.2 274z" fill="#fb9f3a" fill-opacity="0.8"/>
<path d="M1492.1 260.8L1490.8 261.7L1489.4 262.9L1475.3 261L1460.9 259.8L1461.5 258.4L1462 257.5L1477.2 258.8z" fill="#f5e926" fill-opacity="0.8"/>
<path d="M1524.3 266.3L1522.4 266.4L1520.5 266.8L1506.6 263.4L1492.1 260.8L1493.4 260.2L1494.5 260L1509.7 262.8z" fill="#fbd524" fill-opacity="0.8"/>
<path d="M1329.2 284.1L1329.8 281.6L1330.7 279.4L1316.7 284.9L1303.7 291.1L1302.7 293.4L1301.9 296L1315 289.7z" fill="#e06363" fill-opacity="0.8"/>
<path d="M1566.9 343.1L1570.1 340.6L1573.2 337.8L1562.2 331.7L1550.2 326.2L1547.7 329.2L1545.1 332L1556.5 337.2z" fill="#240691" fill-opacity="0.8"/>
<path d="M1412.1 333.3L1411.1 333L1410.1 332.3L1398.7 334.1L1387.7 336.4L1389.4 337L1391.1 337.2L1401.4 335z" fill="#3a049a" fill-opacity="0.8"/>
<path d="M1365.5 264.7L1366.9 264.2L1368.4 263.9L1354.1 267.7L1340.5 272.1L1338.3 272.5L1336.4 273.2L1350.6 268.6z" fill="#febb2b" fill-opacity="0.8"/>
<path d="M1387.7 336.4L1385.8 335.5L1384 334.3L1372.7 337.4L1362 341L1364.6 342L1367.1 342.7L1377.1 339.3z" fill="#240691" fill-opacity="0.8"/>
<path d="M1455.5 331.6L1455.9 331.9L1456.4 331.9L1445.3 331.4L1434.1 331.5L1434.3 331.6L1434.5 331.2L1445 331.1z" fill="#5502a4" fill-opacity="0.8"/>
<path d="M1356.6 338L1353.9 336.1L1351.3 333.9L1339.9 338.5L1329.5 343.7L1332.8 345.6L1336.1 347.3L1346 342.4z" fill="#0d0887" fill-opacity="0.8"/>
<path d="M1498.6 338.9L1500.5 338.8L1502.5 338.3L1491.8 335.6L1480.6 333.4L1479.3 334.1L1478.1 334.4L1488.6 336.4z" fill="#3a049a" fill-opacity="0.8"/>
<path d="M1589.8 306.3L1589.7 303.3L1589.2 300.5L1576.9 293.8L1563.4 287.8L1563.8 290.5L1563.9 293.4L1577.4 299.5z" fill="#cc4778" fill-opacity="0.8"/>
<path d="M1434.5 331.2L1434.3 331.6L1434.1 331.5L1423 332.2L1412.1 333.3L1413 333.3L1413.8 332.9L1424.1 331.8z" fill="#5502a4" fill-opacity="0.8"/>
<path d="M1460.9 259.8L1460.4 261.5L1459.8 263.5L1446.1 262.9L1432.4 263L1432.1 261L1431.8 259.3L1446.4 259.2z" fill="#f1f525" fill-opacity="0.8"/>
<path d="M1400.9 259.3L1401.9 260.3L1403 261.6L1389.1 263.7L1375.5 266.5L1373.6 265.3L1371.8 264.5L1386.1 261.6z" fill="#f5e926" fill-opacity="0.8"/>
<path d="M1560 347.5L1563.5 345.4L1566.9 343.1L1556.5 337.2L1545.1 332L1542.3 334.6L1539.5 336.9L1550.2 341.9z" fill="#130789" fill-opacity="0.8"/>
<path d="M1475.9 333.9L1477 334.3L1478.1 334.4L1467.4 332.9L1456.4 331.9L1455.9 331.9L1455.5 331.6L1465.8 332.5z" fill="#5502a4" fill-opacity="0.8"/>
<path d="M1330.7 279.4L1331.8 277.4L1333.1 275.7L1319.4 281.1L1306.7 287.1L1305.1 289L1303.7 291.1L1316.7 284.9z" fill="#f0804e" fill-opacity="0.8"/>
<path d="M1431.8 259.3L1432.1 261L1432.4 263L1418.7 263.8L1405.3 265.1L1404.1 263.2L1403 261.6L1417.3 260.1z" fill="#f1f525" fill-opacity="0.8"/>
<path d="M1522.2 345.2L1525 344.6L1527.8 343.7L1517.6 339.7L1506.7 336.3L1504.6 337.5L1502.5 338.3L1512.7 341.5z" fill="#240691" fill-opacity="0.8"/>
<path d="M1555.7 276.6L1553.5 275.8L1551.2 275.3L1538.2 270.5L1524.3 266.3L1526 266.6L1527.6 267.3L1542.1 271.6z" fill="#febb2b" fill-opacity="0.8"/>
<path d="M1489.4 262.9L1488 264.5L1486.6 266.4L1473.3 264.6L1459.8 263.5L1460.4 261.5L1460.9 259.8L1475.3 261z" fill="#f1f525" fill-opacity="0.8"/>
<path d="M1520.5 266.8L1518.4 267.5L1516.3 268.6L1503.1 265.5L1489.4 262.9L1490.8 261.7L1492.1 260.8L1506.6 263.4z" fill="#f5e926" fill-opacity="0.8"/>
<path d="M1589.2 300.5L1588.5 297.9L1587.3 295.6L1575.2 289L1561.9 283L1562.8 285.2L1563.4 287.8L1576.9 293.8z" fill="#e06363" fill-opacity="0.8"/>
<path d="M1368.4 263.9L1370.1 264L1371.8 264.5L1358.1 268.1L1345.2 272.3L1342.7 272L1340.5 272.1L1354.1 267.7z" fill="#fbd524" fill-opacity="0.8"/>
<path d="M1413.8 332.9L1413 333.3L1412.1 333.3L1401.4 335L1391.1 337.2L1392.7 337L1394.1 336.5L1403.8 334.5z" fill="#5502a4" fill-opacity="0.8"/>
<path d="M1362 341L1359.3 339.6L1356.6 338L1346 342.4L1336.1 347.3L1339.5 348.6L1342.8 349.7L1352 345.1z" fill="#130789" fill-opacity="0.8"/>
<path d="M1553 350.8L1556.5 349.3L1560 347.5L1550.2 341.9L1539.5 336.9L1536.6 339L1533.6 340.9L1543.8 345.6z" fill="#0d0887" fill-opacity="0.8"/>
<path d="M1391.1 337.2L1389.4 337L1387.7 336.4L1377.1 339.3L1367.1 342.7L1369.6 343L1371.9 343L1381.2 339.9z" fill="#3a049a" fill-opacity="0.8"/>
<path d="M1454.8 329.8L1455.1 330.8L1455.5 331.6L1445 331.1L1434.5 331.2L1434.7 330.5L1434.9 329.4L1444.9 329.4z" fill="#7201a8" fill-opacity="0.8"/>
<path d="M1495.2 338.2L1496.8 338.7L1498.6 338.9L1488.6 336.4L1478.1 334.4L1477 334.3L1475.9 333.9L1485.8 335.8z" fill="#5502a4" fill-opacity="0.8"/>
<path d="M1333.1 275.7L1334.6 274.3L1336.4 273.2L1323.1 278.4L1310.9 284.3L1308.7 285.6L1306.7 287.1L1319.4 281.1z" fill="#fb9f3a" fill-opacity="0.8"/>
<path d="M1434.9 329.4L1434.7 330.5L1434.5 331.2L1424.1 331.8L1413.8 332.9L1414.6 332.1L1415.3 331L1425 330z" fill="#7201a8" fill-opacity="0.8"/>
<path d="M1311.9 327.6L1309.6 324.4L1307.5 321.2L1296.1 327.9L1286 335.1L1288.4 338.2L1291.1 341.2L1300.8 334.2z" fill="#5502a4" fill-opacity="0.8"/>
<path d="M1459.8 263.5L1459.2 265.8L1458.7 268.3L1445.8 267.8L1433 267.9L1432.7 265.3L1432.4 263L1446.1 262.9z" fill="#f0f921" fill-opacity="0.8"/>
<path d="M1403 261.6L1404.1 263.2L1405.3 265.1L1392.1 267.1L1379.4 269.7L1377.5 267.9L1375.5 266.5L1389.1 263.7z" fill="#f1f525" fill-opacity="0.8"/>
<path d="M1307.5 321.2L1305.8 317.8L1304.3 314.5L1292.6 321.4L1282.2 328.8L1283.9 332L1286 335.1L1296.1 327.9z" fill="#7201a8" fill-opacity="0.8"/>
<path d="M1317.1 333.7L1314.4 330.7L1311.9 327.6L1300.8 334.2L1291.1 341.2L1294 344.1L1297.2 346.8L1306.5 340z" fill="#3a049a" fill-opacity="0.8"/>
<path d="M1587.3 295.6L1585.9 293.4L1584.1 291.5L1572.3 285L1559.2 279.2L1560.7 281L1561.9 283L1575.2 289z" fill="#f0804e" fill-opacity="0.8"/>
<path d="M1474.2 332L1475 333.1L1475.9 333.9L1465.8 332.5L1455.5 331.6L1455.1 330.8L1454.8 329.8L1464.6 330.6z" fill="#7201a8" fill-opacity="0.8"/>
<path d="M1517.1 345.4L1519.6 345.5L1522.2 345.2L1512.7 341.5L1502.5 338.3L1500.5 338.8L1498.6 338.9L1508.1 341.9z" fill="#3a049a" fill-opacity="0.8"/>
<path d="M1551.2 275.3L1548.7 275.2L1546.1 275.4L1533.7 270.8L1520.5 266.8L1522.4 266.4L1524.3 266.3L1538.2 270.5z" fill="#fbd524" fill-opacity="0.8"/>
<path d="M1432.4 263L1432.7 265.3L1433 267.9L1420.2 268.6L1407.6 269.9L1406.4 267.4L1405.3 265.1L1418.7 263.8z" fill="#f0f921" fill-opacity="0.8"/>
<path d="M1304.3 314.5L1303.1 311.2L1302.2 307.9L1290.3 314.9L1279.8 322.4L1280.8 325.6L1282.2 328.8L1292.6 321.4z" fill="#9410a2" fill-opacity="0.8"/>
<path d="M1545.9 353L1549.4 352L1553 350.8L1543.8 345.6L1533.6 340.9L1530.7 342.4L1527.8 343.7L1537.3 348.1z" fill="#130789" fill-opacity="0.8"/>
<path d="M1323 339.1L1320 336.5L1317.1 333.7L1306.5 340L1297.2 346.8L1300.5 349.3L1304.1 351.6L1313 345.1z" fill="#240691" fill-opacity="0.8"/>
<path d="M1486.6 266.4L1485.2 268.6L1483.8 271.1L1471.3 269.4L1458.7 268.3L1459.2 265.8L1459.8 263.5L1473.3 264.6z" fill="#f0f921" fill-opacity="0.8"/>
<path d="M1367.1 342.7L1364.6 342L1362 341L1352 345.1L1342.8 349.7L1346.1 350.4L1349.3 350.8L1357.8 346.5z" fill="#240691" fill-opacity="0.8"/>
<path d="M1516.3 268.6L1514.1 270.1L1511.8 271.8L1499.5 268.8L1486.6 266.4L1488 264.5L1489.4 262.9L1503.1 265.5z" fill="#f1f525" fill-opacity="0.8"/>
<path d="M1302.2 307.9L1301.6 304.8L1289.7 311.7L1279.1 319.2L1279.8 322.4L1290.3 314.9z" fill="#b22b8f" fill-opacity="0.8"/>
<path d="M1371.8 264.5L1373.6 265.3L1375.5 266.5L1362.6 269.8L1350.3 273.8L1347.7 272.9L1345.2 272.3L1358.1 268.1z" fill="#f5e926" fill-opacity="0.8"/>
<path d="M1415.3 331L1414.6 332.1L1413.8 332.9L1403.8 334.5L1394.1 336.5L1395.4 335.7L1396.6 334.5L1405.8 332.5z" fill="#7201a8" fill-opacity="0.8"/>
<path d="M1394.1 336.5L1392.7 337L1391.1 337.2L1381.2 339.9L1371.9 343L1374.1 342.7L1376.1 342L1384.9 339.1z" fill="#5502a4" fill-opacity="0.8"/>
<path d="M1329.5 343.7L1326.2 341.5L1323 339.1L1313 345.1L1304.1 351.6L1307.8 353.7L1311.6 355.5L1320 349.4z" fill="#130789" fill-opacity="0.8"/>
<path d="M1454.2 326.6L1454.5 328.3L1454.8 329.8L1444.9 329.4L1434.9 329.4L1435.1 328L1435.2 326.3L1444.7 326.2z" fill="#9410a2" fill-opacity="0.8"/>
<path d="M1336.4 273.2L1338.3 272.5L1340.5 272.1L1327.7 277.1L1316 282.7L1313.3 283.3L1310.9 284.3L1323.1 278.4z" fill="#febb2b" fill-opacity="0.8"/>
<path d="M1492.4 336L1493.7 337.3L1495.2 338.2L1485.8 335.8L1475.9 333.9L1475 333.1L1474.2 332L1483.5 333.8z" fill="#7201a8" fill-opacity="0.8"/>
<path d="M1584.1 291.5L1582.1 289.9L1579.8 288.5L1568.3 282.3L1555.7 276.6L1557.6 277.8L1559.2 279.2L1572.3 285z" fill="#fb9f3a" fill-opacity="0.8"/>
<path d="M1435.2 326.3L1435.1 328L1434.9 329.4L1425 330L1415.3 331L1415.9 329.6L1416.4 327.8L1425.7 326.8z" fill="#9410a2" fill-opacity="0.8"/>
<path d="M1458.7 268.3L1458.1 271.2L1457.5 274.2L1445.6 273.8L1433.5 273.9L1433.2 270.8L1433 267.9L1445.8 267.8z" fill="#f1f525" fill-opacity="0.8"/>
<path d="M1405.3 265.1L1406.4 267.4L1407.6 269.9L1395.2 271.8L1383.3 274.2L1381.4 271.9L1379.4 269.7L1392.1 267.1z" fill="#f0f921" fill-opacity="0.8"/>
<path d="M1301.4 301.7L1301.5 298.8L1301.9 296L1290 302.9L1279.4 310.4L1278.9 313.2L1278.8 316.2L1289.5 308.6z" fill="#cc4778" fill-opacity="0.8"/>
<path d="M1472.8 328.7L1473.4 330.5L1474.2 332L1464.6 330.6L1454.8 329.8L1454.5 328.3L1454.2 326.6L1463.6 327.4z" fill="#9410a2" fill-opacity="0.8"/>
<path d="M1539.1 353.9L1542.4 353.6L1545.9 353L1537.3 348.1L1527.8 343.7L1525 344.6L1522.2 345.2L1531 349.3z" fill="#240691" fill-opacity="0.8"/>
<path d="M1597.8 346.2L1600.6 343.3L1603.1 340.3L1593.9 332.7L1583.3 325.6L1581.1 328.8L1578.7 331.9L1588.9 338.8z" fill="#5502a4" fill-opacity="0.8"/>
<path d="M1433 267.9L1433.2 270.8L1433.5 273.9L1421.6 274.5L1409.8 275.7L1408.7 272.7L1407.6 269.9L1420.2 268.6z" fill="#f1f525" fill-opacity="0.8"/>
<path d="M1512.5 344.2L1514.7 345L1517.1 345.4L1508.1 341.9L1498.6 338.9L1496.8 338.7L1495.2 338.2L1504.1 341z" fill="#5502a4" fill-opacity="0.8"/>
<path d="M1546.1 275.4L1543.4 275.9L1540.5 276.8L1528.8 272.4L1516.3 268.6L1518.4 267.5L1520.5 266.8L1533.7 270.8z" fill="#f5e926" fill-opacity="0.8"/>
<path d="M1591.4 351.6L1594.7 349L1597.8 346.2L1588.9 338.8L1578.7 331.9L1576 335L1573.2 337.8L1582.9 344.5z" fill="#3a049a" fill-opacity="0.8"/>
<path d="M1603.1 340.3L1605.2 337.2L1607 334L1597.6 326.3L1586.7 319L1585.2 322.3L1583.3 325.6L1593.9 332.7z" fill="#7201a8" fill-opacity="0.8"/>
<path d="M1336.1 347.3L1332.8 345.6L1329.5 343.7L1320 349.4L1311.6 355.5L1315.5 357.1L1319.4 358.4L1327.3 352.6z" fill="#0d0887" fill-opacity="0.8"/>
<path d="M1371.9 343L1369.6 343L1367.1 342.7L1357.8 346.5L1349.3 350.8L1352.3 350.9L1355.2 350.6L1363.2 346.6z" fill="#3a049a" fill-opacity="0.8"/>
<path d="M1483.8 271.1L1482.4 273.9L1481 276.8L1469.4 275.3L1457.5 274.2L1458.1 271.2L1458.7 268.3L1471.3 269.4z" fill="#f1f525" fill-opacity="0.8"/>
<path d="M1584.2 356.2L1587.9 354L1591.4 351.6L1582.9 344.5L1573.2 337.8L1570.1 340.6L1566.9 343.1L1576.1 349.4z" fill="#240691" fill-opacity="0.8"/>
<path d="M1511.8 271.8L1509.6 273.8L1507.4 276.2L1495.8 273.4L1483.8 271.1L1485.2 268.6L1486.6 266.4L1499.5 268.8z" fill="#f0f921" fill-opacity="0.8"/>
<path d="M1607 334L1608.5 330.8L1609.6 327.7L1599.9 319.8L1588.9 312.5L1588 315.7L1586.7 319L1597.6 326.3z" fill="#9410a2" fill-opacity="0.8"/>
<path d="M1375.5 266.5L1377.5 267.9L1379.4 269.7L1367.2 272.9L1355.7 276.7L1353 275.1L1350.3 273.8L1362.6 269.8z" fill="#f1f525" fill-opacity="0.8"/>
<path d="M1416.4 327.8L1415.9 329.6L1415.3 331L1405.8 332.5L1396.6 334.5L1397.6 332.9L1398.4 331.1L1407.2 329.2z" fill="#9410a2" fill-opacity="0.8"/>
<path d="M1301.9 296L1302.7 293.4L1303.7 291.1L1292 297.9L1281.5 305.2L1280.3 307.7L1279.4 310.4L1290 302.9z" fill="#e06363" fill-opacity="0.8"/>
<path d="M1453.9 322.1L1454 324.5L1454.2 326.6L1444.7 326.2L1435.2 326.3L1435.3 324.2L1435.3 321.8L1444.6 321.7z" fill="#b22b8f" fill-opacity="0.8"/>
<path d="M1609.6 327.7L1610.2 324.5L1600.6 316.7L1589.5 309.3L1588.9 312.5L1599.9 319.8z" fill="#b22b8f" fill-opacity="0.8"/>
<path d="M1396.6 334.5L1395.4 335.7L1394.1 336.5L1384.9 339.1L1376.1 342L1377.9 341L1379.5 339.7L1387.8 336.9z" fill="#7201a8" fill-opacity="0.8"/>
<path d="M1576.4 359.9L1580.4 358.1L1584.2 356.2L1576.1 349.4L1566.9 343.1L1563.5 345.4L1560 347.5L1568.8 353.4z" fill="#130789" fill-opacity="0.8"/>
<path d="M1340.5 272.1L1342.7 272L1345.2 272.3L1333 277L1321.8 282.4L1318.8 282.4L1316 282.7L1327.7 277.1z" fill="#fbd524" fill-opacity="0.8"/>
<path d="M1579.8 288.5L1577.2 287.5L1574.4 286.8L1563.3 280.8L1551.2 275.3L1553.5 275.8L1555.7 276.6L1568.3 282.3z" fill="#febb2b" fill-opacity="0.8"/>
<path d="M1457.5 274.2L1457 277.5L1456.5 280.9L1445.3 280.5L1434 280.6L1433.8 277.1L1433.5 273.9L1445.6 273.8z" fill="#f5e926" fill-opacity="0.8"/>
<path d="M1435.3 321.8L1435.3 324.2L1435.2 326.3L1425.7 326.8L1416.4 327.8L1416.7 325.7L1417 323.3L1426.1 322.3z" fill="#b22b8f" fill-opacity="0.8"/>
<path d="M1490.3 332.6L1491.3 334.5L1492.4 336L1483.5 333.8L1474.2 332L1473.4 330.5L1472.8 328.7L1481.8 330.4z" fill="#9410a2" fill-opacity="0.8"/>
<path d="M1407.6 269.9L1408.7 272.7L1409.8 275.7L1398.3 277.5L1387.1 279.8L1385.3 276.9L1383.3 274.2L1395.2 271.8z" fill="#f1f525" fill-opacity="0.8"/>
<path d="M1342.8 349.7L1339.5 348.6L1336.1 347.3L1327.3 352.6L1319.4 358.4L1323.3 359.4L1327.2 360.1L1334.5 354.7z" fill="#130789" fill-opacity="0.8"/>
<path d="M1472 324.2L1472.4 326.6L1472.8 328.7L1463.6 327.4L1454.2 326.6L1454 324.5L1453.9 322.1L1463.1 322.9z" fill="#b22b8f" fill-opacity="0.8"/>
<path d="M1433.5 273.9L1433.8 277.1L1434 280.6L1422.8 281.2L1411.8 282.3L1410.8 278.9L1409.8 275.7L1421.6 274.5z" fill="#f5e926" fill-opacity="0.8"/>
<path d="M1532.8 353.5L1535.9 353.9L1539.1 353.9L1531 349.3L1522.2 345.2L1519.6 345.5L1517.1 345.4L1525.3 349.3z" fill="#3a049a" fill-opacity="0.8"/>
<path d="M1508.8 341.8L1510.5 343.2L1512.5 344.2L1504.1 341L1495.2 338.2L1493.7 337.3L1492.4 336L1500.9 338.7z" fill="#7201a8" fill-opacity="0.8"/>
<path d="M1540.5 276.8L1537.6 278L1534.7 279.5L1523.6 275.4L1511.8 271.8L1514.1 270.1L1516.3 268.6L1528.8 272.4z" fill="#f1f525" fill-opacity="0.8"/>
<path d="M1481 276.8L1479.7 280L1478.5 283.4L1467.6 281.9L1456.5 280.9L1457 277.5L1457.5 274.2L1469.4 275.3z" fill="#f5e926" fill-opacity="0.8"/>
<path d="M1568.3 362.5L1572.4 361.3L1576.4 359.9L1568.8 353.4L1560 347.5L1556.5 349.3L1553 350.8L1561.2 356.4z" fill="#0d0887" fill-opacity="0.8"/>
<path d="M1610.5 321.5L1610.4 318.5L1609.9 315.6L1600.3 307.8L1589.2 300.5L1589.7 303.3L1589.8 306.3L1600.9 313.6z" fill="#cc4778" fill-opacity="0.8"/>
<path d="M1376.1 342L1374.1 342.7L1371.9 343L1363.2 346.6L1355.2 350.6L1357.9 350.1L1360.4 349.2L1367.9 345.4z" fill="#5502a4" fill-opacity="0.8"/>
<path d="M1507.4 276.2L1505.2 278.8L1503.1 281.6L1492.3 278.9L1481 276.8L1482.4 273.9L1483.8 271.1L1495.8 273.4z" fill="#f1f525" fill-opacity="0.8"/>
<path d="M1303.7 291.1L1305.1 289L1306.7 287.1L1295.2 293.8L1285.1 300.9L1283.1 303L1281.5 305.2L1292 297.9z" fill="#f0804e" fill-opacity="0.8"/>
<path d="M1453.8 316.6L1453.8 319.5L1453.9 322.1L1444.6 321.7L1435.3 321.8L1435.4 319.2L1435.4 316.3L1444.6 316.2z" fill="#cc4778" fill-opacity="0.8"/>
<path d="M1417 323.3L1416.7 325.7L1416.4 327.8L1407.2 329.2L1398.4 331.1L1399.1 328.9L1399.5 326.5L1408.1 324.7z" fill="#b22b8f" fill-opacity="0.8"/>
<path d="M1379.4 269.7L1381.4 271.9L1383.3 274.2L1371.9 277.2L1361.1 280.7L1358.4 278.6L1355.7 276.7L1367.2 272.9z" fill="#f0f921" fill-opacity="0.8"/>
<path d="M1456.5 280.9L1456 284.5L1455.6 288.1L1445.1 287.7L1434.5 287.8L1434.3 284.1L1434 280.6L1445.3 280.5z" fill="#fbd524" fill-opacity="0.8"/>
<path d="M1435.4 316.3L1435.4 319.2L1435.3 321.8L1426.1 322.3L1417 323.3L1417.2 320.6L1417.2 317.7L1426.2 316.8z" fill="#cc4778" fill-opacity="0.8"/>
<path d="M1398.4 331.1L1397.6 332.9L1396.6 334.5L1387.8 336.9L1379.5 339.7L1380.9 338L1382 336.1L1390 333.4z" fill="#9410a2" fill-opacity="0.8"/>
<path d="M1434 280.6L1434.3 284.1L1434.5 287.8L1424 288.4L1413.6 289.5L1412.8 285.8L1411.8 282.3L1422.8 281.2z" fill="#fbd524" fill-opacity="0.8"/>
<path d="M1471.8 318.6L1471.8 321.5L1472 324.2L1463.1 322.9L1453.9 322.1L1453.8 319.5L1453.8 316.6L1462.9 317.4z" fill="#cc4778" fill-opacity="0.8"/>
<path d="M1349.3 350.8L1346.1 350.4L1342.8 349.7L1334.5 354.7L1327.2 360.1L1331 360.5L1334.7 360.6L1341.5 355.5z" fill="#240691" fill-opacity="0.8"/>
<path d="M1489.1 327.9L1489.6 330.4L1490.3 332.6L1481.8 330.4L1472.8 328.7L1472.4 326.6L1472 324.2L1480.7 325.9z" fill="#b22b8f" fill-opacity="0.8"/>
<path d="M1574.4 286.8L1571.3 286.3L1568.1 286.3L1557.6 280.6L1546.1 275.4L1548.7 275.2L1551.2 275.3L1563.3 280.8z" fill="#fbd524" fill-opacity="0.8"/>
<path d="M1409.8 275.7L1410.8 278.9L1411.8 282.3L1401.1 284L1390.7 286.1L1388.9 282.9L1387.1 279.8L1398.3 277.5z" fill="#f5e926" fill-opacity="0.8"/>
<path d="M1345.2 272.3L1347.7 272.9L1350.3 273.8L1338.8 278.4L1328.3 283.4L1325 282.7L1321.8 282.4L1333 277z" fill="#f5e926" fill-opacity="0.8"/>
<path d="M1478.5 283.4L1477.3 286.9L1476.2 290.5L1466 289.1L1455.6 288.1L1456 284.5L1456.5 280.9L1467.6 281.9z" fill="#fbd524" fill-opacity="0.8"/>
<path d="M1453.9 310.1L1453.8 313.4L1453.8 316.6L1444.6 316.2L1435.4 316.3L1435.4 313.1L1435.3 309.8L1444.6 309.7z" fill="#e06363" fill-opacity="0.8"/>
<path d="M1560.2 363.9L1564.2 363.4L1568.3 362.5L1561.2 356.4L1553 350.8L1549.4 352L1545.9 353L1553.5 358.3z" fill="#130789" fill-opacity="0.8"/>
<path d="M1609.9 315.6L1609 312.9L1607.7 310.4L1598.2 302.7L1587.3 295.6L1588.5 297.9L1589.2 300.5L1600.3 307.8z" fill="#e06363" fill-opacity="0.8"/>
<path d="M1455.6 288.1L1455.2 291.9L1454.8 295.6L1444.9 295.2L1434.9 295.3L1434.7 291.5L1434.5 287.8L1445.1 287.7z" fill="#febb2b" fill-opacity="0.8"/>
<path d="M1527.3 351.9L1529.9 352.9L1532.8 353.5L1525.3 349.3L1517.1 345.4L1514.7 345L1512.5 344.2L1520.3 347.9z" fill="#5502a4" fill-opacity="0.8"/>
<path d="M1435.3 309.8L1435.4 313.1L1435.4 316.3L1426.2 316.8L1417.2 317.7L1417.1 314.6L1417 311.3L1426.1 310.3z" fill="#e06363" fill-opacity="0.8"/>
<path d="M1506.1 338.1L1507.3 340.1L1508.8 341.8L1500.9 338.7L1492.4 336L1491.3 334.5L1490.3 332.6L1498.4 335.1z" fill="#9410a2" fill-opacity="0.8"/>
<path d="M1534.7 279.5L1531.7 281.3L1528.7 283.4L1518.4 279.5L1507.4 276.2L1509.6 273.8L1511.8 271.8L1523.6 275.4z" fill="#f0f921" fill-opacity="0.8"/>
<path d="M1434.5 287.8L1434.7 291.5L1434.9 295.3L1424.9 295.9L1415.1 296.9L1414.4 293.2L1413.6 289.5L1424 288.4z" fill="#febb2b" fill-opacity="0.8"/>
<path d="M1503.1 281.6L1501.1 284.6L1499.1 287.8L1489 285.4L1478.5 283.4L1479.7 280L1481 276.8L1492.3 278.9z" fill="#f5e926" fill-opacity="0.8"/>
<path d="M1417.2 317.7L1417.2 320.6L1417 323.3L1408.1 324.7L1399.5 326.5L1399.8 323.8L1399.9 320.9L1408.4 319.1z" fill="#cc4778" fill-opacity="0.8"/>
<path d="M1306.7 287.1L1308.7 285.6L1310.9 284.3L1299.7 290.7L1289.9 297.7L1287.3 299.2L1285.1 300.9L1295.2 293.8z" fill="#fb9f3a" fill-opacity="0.8"/>
<path d="M1454.3 303L1454.1 306.6L1453.9 310.1L1444.6 309.7L1435.3 309.8L1435.3 306.3L1435.2 302.7L1444.7 302.7z" fill="#f0804e" fill-opacity="0.8"/>
<path d="M1454.8 295.6L1454.5 299.4L1454.3 303L1444.7 302.7L1435.2 302.7L1435 299L1434.9 295.3L1444.9 295.2z" fill="#fb9f3a" fill-opacity="0.8"/>
<path d="M1472.1 312.2L1471.9 315.5L1471.8 318.6L1462.9 317.4L1453.8 316.6L1453.8 313.4L1453.9 310.1L1463.1 310.9z" fill="#e06363" fill-opacity="0.8"/>
<path d="M1379.5 339.7L1377.9 341L1376.1 342L1367.9 345.4L1360.4 349.2L1362.6 348L1364.6 346.4L1371.8 342.9z" fill="#7201a8" fill-opacity="0.8"/>
<path d="M1476.2 290.5L1475.2 294.1L1474.4 297.8L1464.7 296.5L1454.8 295.6L1455.2 291.9L1455.6 288.1L1466 289.1z" fill="#febb2b" fill-opacity="0.8"/>
<path d="M1435.2 302.7L1435.3 306.3L1435.3 309.8L1426.1 310.3L1417 311.3L1416.7 307.8L1416.3 304.2L1425.6 303.3z" fill="#f0804e" fill-opacity="0.8"/>
<path d="M1434.9 295.3L1435 299L1435.2 302.7L1425.6 303.3L1416.3 304.2L1415.7 300.6L1415.1 296.9L1424.9 295.9z" fill="#fb9f3a" fill-opacity="0.8"/>
<path d="M1383.3 274.2L1385.3 276.9L1387.1 279.8L1376.5 282.6L1366.4 285.9L1363.8 283.2L1361.1 280.7L1371.9 277.2z" fill="#f1f525" fill-opacity="0.8"/>
<path d="M1411.8 282.3L1412.8 285.8L1413.6 289.5L1403.5 291L1393.8 293.1L1392.3 289.5L1390.7 286.1L1401.1 284z" fill="#fbd524" fill-opacity="0.8"/>
<path d="M1488.7 322.3L1488.8 325.2L1489.1 327.9L1480.7 325.9L1472 324.2L1471.8 321.5L1471.8 318.6L1480.4 320.3z" fill="#cc4778" fill-opacity="0.8"/>
<path d="M1473 305.1L1472.5 308.7L1472.1 312.2L1463.1 310.9L1453.9 310.1L1454.1 306.6L1454.3 303L1463.7 303.9z" fill="#f0804e" fill-opacity="0.8"/>
<path d="M1399.5 326.5L1399.1 328.9L1398.4 331.1L1390 333.4L1382 336.1L1382.9 333.8L1383.6 331.3L1391.3 328.7z" fill="#b22b8f" fill-opacity="0.8"/>
<path d="M1474.4 297.8L1473.6 301.5L1473 305.1L1463.7 303.9L1454.3 303L1454.5 299.4L1454.8 295.6L1464.7 296.5z" fill="#fb9f3a" fill-opacity="0.8"/>
<path d="M1355.2 350.6L1352.3 350.9L1349.3 350.8L1341.5 355.5L1334.7 360.6L1338.2 360.3L1341.6 359.8L1348 355z" fill="#3a049a" fill-opacity="0.8"/>
<path d="M1552.4 364.1L1556.2 364.2L1560.2 363.9L1553.5 358.3L1545.9 353L1542.4 353.6L1539.1 353.9L1546.2 358.9z" fill="#240691" fill-opacity="0.8"/>
<path d="M1607.7 310.4L1606.1 308.1L1604.1 306L1594.8 298.5L1584.1 291.5L1585.9 293.4L1587.3 295.6L1598.2 302.7z" fill="#f0804e" fill-opacity="0.8"/>
<path d="M1417 311.3L1417.1 314.6L1417.2 317.7L1408.4 319.1L1399.9 320.9L1399.8 317.8L1399.4 314.5L1408.1 312.7z" fill="#e06363" fill-opacity="0.8"/>
<path d="M1568.1 286.3L1564.8 286.5L1561.3 287.1L1551.4 281.7L1540.5 276.8L1543.4 275.9L1546.1 275.4L1557.6 280.6z" fill="#f5e926" fill-opacity="0.8"/>
<path d="M1297.2 346.8L1294 344.1L1291.1 341.2L1282.6 348.7L1275.6 356.7L1278.9 359.3L1282.4 361.7L1289.1 354z" fill="#3a049a" fill-opacity="0.8"/>
<path d="M1291.1 341.2L1288.4 338.2L1286 335.1L1277.3 342.9L1270 351.1L1272.6 353.9L1275.6 356.7L1282.6 348.7z" fill="#5502a4" fill-opacity="0.8"/>
<path d="M1350.3 273.8L1353 275.1L1355.7 276.7L1344.9 281L1335 285.7L1331.6 284.4L1328.3 283.4L1338.8 278.4z" fill="#f1f525" fill-opacity="0.8"/>
<path d="M1499.1 287.8L1497.3 291.2L1495.6 294.7L1486.1 292.3L1476.2 290.5L1477.3 286.9L1478.5 283.4L1489 285.4z" fill="#fbd524" fill-opacity="0.8"/>
<path d="M1304.1 351.6L1300.5 349.3L1297.2 346.8L1289.1 354L1282.4 361.7L1286.2 363.8L1290.1 365.8L1296.5 358.5z" fill="#240691" fill-opacity="0.8"/>
<path d="M1413.6 289.5L1414.4 293.2L1415.1 296.9L1405.6 298.4L1396.3 300.3L1395.1 296.6L1393.8 293.1L1403.5 291z" fill="#febb2b" fill-opacity="0.8"/>
<path d="M1286 335.1L1283.9 332L1282.2 328.8L1273.2 336.7L1265.8 345.1L1267.7 348.1L1270 351.1L1277.3 342.9z" fill="#7201a8" fill-opacity="0.8"/>
<path d="M1522.8 349L1524.9 350.6L1527.3 351.9L1520.3 347.9L1512.5 344.2L1510.5 343.2L1508.8 341.8L1516.1 345.2z" fill="#7201a8" fill-opacity="0.8"/>
<path d="M1416.3 304.2L1416.7 307.8L1417 311.3L1408.1 312.7L1399.4 314.5L1398.9 311.1L1398.2 307.5L1407.1 305.7z" fill="#f0804e" fill-opacity="0.8"/>
<path d="M1504.4 333.3L1505.1 335.8L1506.1 338.1L1498.4 335.1L1490.3 332.6L1489.6 330.4L1489.1 327.9L1497 330.4z" fill="#b22b8f" fill-opacity="0.8"/>
<path d="M1528.7 283.4L1525.9 285.7L1523 288.3L1513.4 284.7L1503.1 281.6L1505.2 278.8L1507.4 276.2L1518.4 279.5z" fill="#f1f525" fill-opacity="0.8"/>
<path d="M1489.2 315.9L1488.8 319.2L1488.7 322.3L1480.4 320.3L1471.8 318.6L1471.9 315.5L1472.1 312.2L1480.8 313.8z" fill="#e06363" fill-opacity="0.8"/>
<path d="M1415.1 296.9L1415.7 300.6L1416.3 304.2L1407.1 305.7L1398.2 307.5L1397.4 303.9L1396.3 300.3L1405.6 298.4z" fill="#fb9f3a" fill-opacity="0.8"/>
<path d="M1310.9 284.3L1313.3 283.3L1316 282.7L1305.3 288.9L1295.8 295.5L1292.7 296.4L1289.9 297.7L1299.7 290.7z" fill="#febb2b" fill-opacity="0.8"/>
<path d="M1311.6 355.5L1307.8 353.7L1304.1 351.6L1296.5 358.5L1290.1 365.8L1294.2 367.5L1298.5 369L1304.4 362.1z" fill="#130789" fill-opacity="0.8"/>
<path d="M1387.1 279.8L1388.9 282.9L1390.7 286.1L1380.7 288.8L1371.3 291.9L1368.9 288.8L1366.4 285.9L1376.5 282.6z" fill="#f5e926" fill-opacity="0.8"/>
<path d="M1495.6 294.7L1494.1 298.2L1492.7 301.8L1483.7 299.6L1474.4 297.8L1475.2 294.1L1476.2 290.5L1486.1 292.3z" fill="#febb2b" fill-opacity="0.8"/>
<path d="M1282.2 328.8L1280.8 325.6L1279.8 322.4L1270.6 330.4L1263.1 338.8L1264.2 342L1265.8 345.1L1273.2 336.7z" fill="#9410a2" fill-opacity="0.8"/>
<path d="M1382 336.1L1380.9 338L1379.5 339.7L1371.8 342.9L1364.6 346.4L1366.4 344.6L1367.8 342.5L1374.6 339.1z" fill="#9410a2" fill-opacity="0.8"/>
<path d="M1399.9 320.9L1399.8 323.8L1399.5 326.5L1391.3 328.7L1383.6 331.3L1384 328.6L1384.1 325.7L1391.7 323.1z" fill="#cc4778" fill-opacity="0.8"/>
<path d="M1490.5 309L1489.7 312.5L1489.2 315.9L1480.8 313.8L1472.1 312.2L1472.5 308.7L1473 305.1L1481.9 306.9z" fill="#f0804e" fill-opacity="0.8"/>
<path d="M1492.7 301.8L1491.5 305.4L1490.5 309L1481.9 306.9L1473 305.1L1473.6 301.5L1474.4 297.8L1483.7 299.6z" fill="#fb9f3a" fill-opacity="0.8"/>
<path d="M1545.2 363.1L1548.7 363.8L1552.4 364.1L1546.2 358.9L1539.1 353.9L1535.9 353.9L1532.8 353.5L1539.5 358.2z" fill="#3a049a" fill-opacity="0.8"/>
<path d="M1604.1 306L1601.7 304.1L1599 302.6L1590 295.3L1579.8 288.5L1582.1 289.9L1584.1 291.5L1594.8 298.5z" fill="#fb9f3a" fill-opacity="0.8"/>
<path d="M1360.4 349.2L1357.9 350.1L1355.2 350.6L1348 355L1341.6 359.8L1344.7 358.9L1347.6 357.7L1353.6 353.3z" fill="#5502a4" fill-opacity="0.8"/>
<path d="M1279.8 322.4L1279.1 319.2L1270 327.3L1262.3 335.7L1263.1 338.8L1270.6 330.4z" fill="#b22b8f" fill-opacity="0.8"/>
<path d="M1319.4 358.4L1315.5 357.1L1311.6 355.5L1304.4 362.1L1298.5 369L1302.8 370.2L1307.1 371.1L1312.7 364.6z" fill="#0d0887" fill-opacity="0.8"/>
<path d="M1355.7 276.7L1358.4 278.6L1361.1 280.7L1351.1 284.8L1341.8 289.2L1338.4 287.3L1335 285.7L1344.9 281z" fill="#f0f921" fill-opacity="0.8"/>
<path d="M1561.3 287.1L1557.8 288L1554.2 289.2L1544.9 284.1L1534.7 279.5L1537.6 278L1540.5 276.8L1551.4 281.7z" fill="#f1f525" fill-opacity="0.8"/>
<path d="M1390.7 286.1L1392.3 289.5L1393.8 293.1L1384.4 295.5L1375.6 298.4L1373.5 295.1L1371.3 291.9L1380.7 288.8z" fill="#fbd524" fill-opacity="0.8"/>
<path d="M1503.9 327.6L1504 330.5L1504.4 333.3L1497 330.4L1489.1 327.9L1488.8 325.2L1488.7 322.3L1496.5 324.8z" fill="#cc4778" fill-opacity="0.8"/>
<path d="M1523 288.3L1520.3 291.2L1517.7 294.2L1508.7 290.8L1499.1 287.8L1501.1 284.6L1503.1 281.6L1513.4 284.7z" fill="#f5e926" fill-opacity="0.8"/>
<path d="M1399.4 314.5L1399.8 317.8L1399.9 320.9L1391.7 323.1L1384.1 325.7L1383.9 322.6L1383.5 319.3L1391.2 316.7z" fill="#e06363" fill-opacity="0.8"/>
<path d="M1519.5 345L1521 347.1L1522.8 349L1516.1 345.2L1508.8 341.8L1507.3 340.1L1506.1 338.1L1513.1 341.4z" fill="#9410a2" fill-opacity="0.8"/>
<path d="M1316 282.7L1318.8 282.4L1321.8 282.4L1311.7 288.3L1302.7 294.6L1299.2 294.9L1295.8 295.5L1305.3 288.9z" fill="#fbd524" fill-opacity="0.8"/>
<path d="M1327.2 360.1L1323.3 359.4L1319.4 358.4L1312.7 364.6L1307.1 371.1L1311.4 371.7L1315.7 372L1320.9 365.9z" fill="#130789" fill-opacity="0.8"/>
<path d="M1383.6 331.3L1382.9 333.8L1382 336.1L1374.6 339.1L1367.8 342.5L1368.9 340.2L1369.7 337.6L1376.3 334.3z" fill="#b22b8f" fill-opacity="0.8"/>
<path d="M1393.8 293.1L1395.1 296.6L1396.3 300.3L1387.5 302.6L1379.1 305.4L1377.5 301.9L1375.6 298.4L1384.4 295.5z" fill="#febb2b" fill-opacity="0.8"/>
<path d="M1604.3 366.9L1607.9 364.6L1611.3 362.2L1605.3 354L1597.8 346.2L1594.7 349L1591.4 351.6L1598.6 359.1z" fill="#3a049a" fill-opacity="0.8"/>
<path d="M1398.2 307.5L1398.9 311.1L1399.4 314.5L1391.2 316.7L1383.5 319.3L1382.8 315.9L1381.8 312.4L1389.8 309.8z" fill="#f0804e" fill-opacity="0.8"/>
<path d="M1278.8 316.2L1278.9 313.2L1279.4 310.4L1270.3 318.4L1262.7 326.8L1262.1 329.7L1262 332.7L1269.7 324.2z" fill="#cc4778" fill-opacity="0.8"/>
<path d="M1596.4 370.8L1600.5 369L1604.3 366.9L1598.6 359.1L1591.4 351.6L1587.9 354L1584.2 356.2L1591 363.3z" fill="#240691" fill-opacity="0.8"/>
<path d="M1611.3 362.2L1614.3 359.5L1617.1 356.7L1610.8 348.3L1603.1 340.3L1600.6 343.3L1597.8 346.2L1605.3 354z" fill="#5502a4" fill-opacity="0.8"/>
<path d="M1396.3 300.3L1397.4 303.9L1398.2 307.5L1389.8 309.8L1381.8 312.4L1380.6 308.9L1379.1 305.4L1387.5 302.6z" fill="#fb9f3a" fill-opacity="0.8"/>
<path d="M1504.5 321.2L1504 324.5L1503.9 327.6L1496.5 324.8L1488.7 322.3L1488.8 319.2L1489.2 315.9L1497.1 318.4z" fill="#e06363" fill-opacity="0.8"/>
<path d="M1517.7 294.2L1515.3 297.3L1513.1 300.6L1504.6 297.4L1495.6 294.7L1497.3 291.2L1499.1 287.8L1508.7 290.8z" fill="#fbd524" fill-opacity="0.8"/>
<path d="M1539 360.9L1542 362.1L1545.2 363.1L1539.5 358.2L1532.8 353.5L1529.9 352.9L1527.3 351.9L1533.6 356.2z" fill="#5502a4" fill-opacity="0.8"/>
<path d="M1599 302.6L1596 301.2L1592.8 300.2L1584.2 293.3L1574.4 286.8L1577.2 287.5L1579.8 288.5L1590 295.3z" fill="#febb2b" fill-opacity="0.8"/>
<path d="M1364.6 346.4L1362.6 348L1360.4 349.2L1353.6 353.3L1347.6 357.7L1350.3 356.3L1352.6 354.5L1358.2 350.3z" fill="#7201a8" fill-opacity="0.8"/>
<path d="M1587.9 373.7L1592.2 372.4L1596.4 370.8L1591 363.3L1584.2 356.2L1580.4 358.1L1576.4 359.9L1582.8 366.6z" fill="#130789" fill-opacity="0.8"/>
<path d="M1617.1 356.7L1619.4 353.8L1621.4 350.8L1615 342.2L1607 334L1605.2 337.2L1603.1 340.3L1610.8 348.3z" fill="#7201a8" fill-opacity="0.8"/>
<path d="M1361.1 280.7L1363.8 283.2L1366.4 285.9L1357 289.6L1348.3 293.8L1345.1 291.4L1341.8 289.2L1351.1 284.8z" fill="#f1f525" fill-opacity="0.8"/>
<path d="M1554.2 289.2L1550.6 290.7L1547 292.5L1538.3 287.7L1528.7 283.4L1531.7 281.3L1534.7 279.5L1544.9 284.1z" fill="#f0f921" fill-opacity="0.8"/>
<path d="M1506.3 314.4L1505.3 317.9L1504.5 321.2L1497.1 318.4L1489.2 315.9L1489.7 312.5L1490.5 309L1498.7 311.5z" fill="#f0804e" fill-opacity="0.8"/>
<path d="M1513.1 300.6L1511 304L1509.2 307.5L1501.2 304.4L1492.7 301.8L1494.1 298.2L1495.6 294.7L1504.6 297.4z" fill="#febb2b" fill-opacity="0.8"/>
<path d="M1334.7 360.6L1331 360.5L1327.2 360.1L1320.9 365.9L1315.7 372L1319.9 372L1324 371.6L1328.8 366z" fill="#240691" fill-opacity="0.8"/>
<path d="M1517.4 340L1518.3 342.6L1519.5 345L1513.1 341.4L1506.1 338.1L1505.1 335.8L1504.4 333.3L1511.2 336.5z" fill="#b22b8f" fill-opacity="0.8"/>
<path d="M1579 375.5L1583.5 374.8L1587.9 373.7L1582.8 366.6L1576.4 359.9L1572.4 361.3L1568.3 362.5L1574.3 368.9z" fill="#0d0887" fill-opacity="0.8"/>
<path d="M1509.2 307.5L1507.6 311L1506.3 314.4L1498.7 311.5L1490.5 309L1491.5 305.4L1492.7 301.8L1501.2 304.4z" fill="#fb9f3a" fill-opacity="0.8"/>
<path d="M1621.4 350.8L1623 347.8L1624.2 344.7L1617.7 336L1609.6 327.7L1608.5 330.8L1607 334L1615 342.2z" fill="#9410a2" fill-opacity="0.8"/>
<path d="M1384.1 325.7L1384 328.6L1383.6 331.3L1376.3 334.3L1369.7 337.6L1370.2 334.9L1370.3 331.9L1376.9 328.6z" fill="#cc4778" fill-opacity="0.8"/>
<path d="M1279.4 310.4L1280.3 307.7L1281.5 305.2L1272.5 313.1L1265 321.4L1263.6 324L1262.7 326.8L1270.3 318.4z" fill="#e06363" fill-opacity="0.8"/>
<path d="M1321.8 282.4L1325 282.7L1328.3 283.4L1318.7 289L1310.2 295L1306.4 294.6L1302.7 294.6L1311.7 288.3z" fill="#f5e926" fill-opacity="0.8"/>
<path d="M1624.2 344.7L1624.9 341.6L1618.4 332.9L1610.2 324.5L1609.6 327.7L1617.7 336z" fill="#b22b8f" fill-opacity="0.8"/>
<path d="M1366.4 285.9L1368.9 288.8L1371.3 291.9L1362.5 295.4L1354.4 299.3L1351.4 296.5L1348.3 293.8L1357 289.6z" fill="#f5e926" fill-opacity="0.8"/>
<path d="M1570.2 376.1L1574.6 376L1579 375.5L1574.3 368.9L1568.3 362.5L1564.2 363.4L1560.2 363.9L1565.8 369.9z" fill="#130789" fill-opacity="0.8"/>
<path d="M1533.8 357.5L1536.2 359.3L1539 360.9L1533.6 356.2L1527.3 351.9L1524.9 350.6L1522.8 349L1528.7 353.1z" fill="#7201a8" fill-opacity="0.8"/>
<path d="M1592.8 300.2L1589.3 299.5L1585.7 299.1L1577.5 292.5L1568.1 286.3L1571.3 286.3L1574.4 286.8L1584.2 293.3z" fill="#fbd524" fill-opacity="0.8"/>
<path d="M1367.8 342.5L1366.4 344.6L1364.6 346.4L1358.2 350.3L1352.6 354.5L1354.6 352.5L1356.2 350.3L1361.6 346.3z" fill="#9410a2" fill-opacity="0.8"/>
<path d="M1547 292.5L1543.5 294.5L1540.1 296.9L1532 292.4L1523 288.3L1525.9 285.7L1528.7 283.4L1538.3 287.7z" fill="#f1f525" fill-opacity="0.8"/>
<path d="M1341.6 359.8L1338.2 360.3L1334.7 360.6L1328.8 366L1324 371.6L1327.9 371L1331.6 370.1L1336.1 364.8z" fill="#3a049a" fill-opacity="0.8"/>
<path d="M1383.5 319.3L1383.9 322.6L1384.1 325.7L1376.9 328.6L1370.3 331.9L1370.1 328.8L1369.6 325.6L1376.2 322.3z" fill="#e06363" fill-opacity="0.8"/>
<path d="M1516.8 334.3L1516.9 337.2L1517.4 340L1511.2 336.5L1504.4 333.3L1504 330.5L1503.9 327.6L1510.6 330.8z" fill="#cc4778" fill-opacity="0.8"/>
<path d="M1281.5 305.2L1283.1 303L1285.1 300.9L1276.3 308.6L1268.9 316.7L1266.8 318.9L1265 321.4L1272.5 313.1z" fill="#f0804e" fill-opacity="0.8"/>
<path d="M1371.3 291.9L1373.5 295.1L1375.6 298.4L1367.3 301.8L1359.8 305.5L1357.2 302.3L1354.4 299.3L1362.5 295.4z" fill="#fbd524" fill-opacity="0.8"/>
<path d="M1328.3 283.4L1331.6 284.4L1335 285.7L1326 291L1318.1 296.6L1314.1 295.7L1310.2 295L1318.7 289z" fill="#f1f525" fill-opacity="0.8"/>
<path d="M1561.7 375.6L1565.9 376L1570.2 376.1L1565.8 369.9L1560.2 363.9L1556.2 364.2L1552.4 364.1L1557.6 369.7z" fill="#240691" fill-opacity="0.8"/>
<path d="M1381.8 312.4L1382.8 315.9L1383.5 319.3L1376.2 322.3L1369.6 325.6L1368.7 322.2L1367.5 318.9L1374.3 315.5z" fill="#f0804e" fill-opacity="0.8"/>
<path d="M1625.2 338.5L1625.1 335.5L1624.6 332.6L1618 323.9L1609.9 315.6L1610.4 318.5L1610.5 321.5L1618.7 329.8z" fill="#cc4778" fill-opacity="0.8"/>
<path d="M1375.6 298.4L1377.5 301.9L1379.1 305.4L1371.3 308.6L1364.2 312.1L1362.1 308.7L1359.8 305.5L1367.3 301.8z" fill="#febb2b" fill-opacity="0.8"/>
<path d="M1540.1 296.9L1536.8 299.4L1533.6 302.2L1526.1 298L1517.7 294.2L1520.3 291.2L1523 288.3L1532 292.4z" fill="#f5e926" fill-opacity="0.8"/>
<path d="M1379.1 305.4L1380.6 308.9L1381.8 312.4L1374.3 315.5L1367.5 318.9L1366 315.5L1364.2 312.1L1371.3 308.6z" fill="#fb9f3a" fill-opacity="0.8"/>
<path d="M1517.6 327.9L1517 331.2L1516.8 334.3L1510.6 330.8L1503.9 327.6L1504 324.5L1504.5 321.2L1511.4 324.4z" fill="#e06363" fill-opacity="0.8"/>
<path d="M1530 353.1L1531.7 355.4L1533.8 357.5L1528.7 353.1L1522.8 349L1521 347.1L1519.5 345L1525.1 348.9z" fill="#9410a2" fill-opacity="0.8"/>
<path d="M1585.7 299.1L1581.8 299L1577.9 299.2L1570.2 292.9L1561.3 287.1L1564.8 286.5L1568.1 286.3L1577.5 292.5z" fill="#f5e926" fill-opacity="0.8"/>
<path d="M1369.7 337.6L1368.9 340.2L1367.8 342.5L1361.6 346.3L1356.2 350.3L1357.5 347.8L1358.5 345.2L1363.7 341.3z" fill="#b22b8f" fill-opacity="0.8"/>
<path d="M1347.6 357.7L1344.7 358.9L1341.6 359.8L1336.1 364.8L1331.6 370.1L1335.1 368.9L1338.3 367.5L1342.5 362.5z" fill="#5502a4" fill-opacity="0.8"/>
<path d="M1533.6 302.2L1530.7 305.1L1528 308.2L1520.9 304.2L1513.1 300.6L1515.3 297.3L1517.7 294.2L1526.1 298z" fill="#fbd524" fill-opacity="0.8"/>
<path d="M1285.1 300.9L1287.3 299.2L1289.9 297.7L1281.4 305.1L1274.3 312.9L1271.5 314.7L1268.9 316.7L1276.3 308.6z" fill="#fb9f3a" fill-opacity="0.8"/>
<path d="M1519.8 321.3L1518.5 324.6L1517.6 327.9L1511.4 324.4L1504.5 321.2L1505.3 317.9L1506.3 314.4L1513.4 317.7z" fill="#f0804e" fill-opacity="0.8"/>
<path d="M1553.9 373.8L1557.7 374.8L1561.7 375.6L1557.6 369.7L1552.4 364.1L1548.7 363.8L1545.2 363.1L1550.1 368.3z" fill="#3a049a" fill-opacity="0.8"/>
<path d="M1624.6 332.6L1623.6 329.8L1622.2 327.1L1615.7 318.6L1607.7 310.4L1609 312.9L1609.9 315.6L1618 323.9z" fill="#e06363" fill-opacity="0.8"/>
<path d="M1335 285.7L1338.4 287.3L1341.8 289.2L1333.4 294.2L1326 299.5L1322 297.9L1318.1 296.6L1326 291z" fill="#f0f921" fill-opacity="0.8"/>
<path d="M1528 308.2L1525.5 311.3L1523.3 314.6L1516.6 310.9L1509.2 307.5L1511 304L1513.1 300.6L1520.9 304.2z" fill="#febb2b" fill-opacity="0.8"/>
<path d="M1523.3 314.6L1521.4 318L1519.8 321.3L1513.4 317.7L1506.3 314.4L1507.6 311L1509.2 307.5L1516.6 310.9z" fill="#fb9f3a" fill-opacity="0.8"/>
<path d="M1370.3 331.9L1370.2 334.9L1369.7 337.6L1363.7 341.3L1358.5 345.2L1359 342.3L1359.2 339.4L1364.4 335.5z" fill="#cc4778" fill-opacity="0.8"/>
<path d="M1527.7 347.9L1528.7 350.6L1530 353.1L1525.1 348.9L1519.5 345L1518.3 342.6L1517.4 340L1522.9 343.8z" fill="#b22b8f" fill-opacity="0.8"/>
<path d="M1577.9 299.2L1573.8 299.8L1569.7 300.6L1562.5 294.7L1554.2 289.2L1557.8 288L1561.3 287.1L1570.2 292.9z" fill="#f1f525" fill-opacity="0.8"/>
<path d="M1352.6 354.5L1350.3 356.3L1347.6 357.7L1342.5 362.5L1338.3 367.5L1341.2 365.7L1343.8 363.7L1347.7 359z" fill="#7201a8" fill-opacity="0.8"/>
<path d="M1290.1 365.8L1286.2 363.8L1282.4 361.7L1277.2 369.6L1273.5 377.8L1277.5 379.6L1281.7 381.2L1285.2 373.4z" fill="#240691" fill-opacity="0.8"/>
<path d="M1547 370.9L1550.3 372.5L1553.9 373.8L1550.1 368.3L1545.2 363.1L1542 362.1L1539 360.9L1543.5 365.8z" fill="#5502a4" fill-opacity="0.8"/>
<path d="M1341.8 289.2L1345.1 291.4L1348.3 293.8L1340.5 298.4L1333.6 303.4L1329.8 301.3L1326 299.5L1333.4 294.2z" fill="#f1f525" fill-opacity="0.8"/>
<path d="M1289.9 297.7L1292.7 296.4L1295.8 295.5L1287.7 302.6L1280.9 310.1L1277.5 311.4L1274.3 312.9L1281.4 305.1z" fill="#febb2b" fill-opacity="0.8"/>
<path d="M1622.2 327.1L1620.3 324.6L1618.1 322.3L1611.9 313.9L1604.1 306L1606.1 308.1L1607.7 310.4L1615.7 318.6z" fill="#f0804e" fill-opacity="0.8"/>
<path d="M1298.5 369L1294.2 367.5L1290.1 365.8L1285.2 373.4L1281.7 381.2L1286.1 382.5L1290.6 383.6L1293.8 376.2z" fill="#130789" fill-opacity="0.8"/>
<path d="M1282.4 361.7L1278.9 359.3L1275.6 356.7L1270.1 365L1266.2 373.5L1269.7 375.8L1273.5 377.8L1277.2 369.6z" fill="#3a049a" fill-opacity="0.8"/>
<path d="M1307.1 371.1L1302.8 370.2L1298.5 369L1293.8 376.2L1290.6 383.6L1295.1 384.3L1299.7 384.8L1302.8 377.8z" fill="#0d0887" fill-opacity="0.8"/>
<path d="M1275.6 356.7L1272.6 353.9L1270 351.1L1264.3 359.6L1260.3 368.4L1263.1 371L1266.2 373.5L1270.1 365z" fill="#5502a4" fill-opacity="0.8"/>
<path d="M1369.6 325.6L1370.1 328.8L1370.3 331.9L1364.4 335.5L1359.2 339.4L1358.9 336.3L1358.3 333.1L1363.6 329.2z" fill="#e06363" fill-opacity="0.8"/>
<path d="M1527 342.1L1527.1 345.1L1527.7 347.9L1522.9 343.8L1517.4 340L1516.9 337.2L1516.8 334.3L1522.3 338z" fill="#cc4778" fill-opacity="0.8"/>
<path d="M1569.7 300.6L1565.6 301.7L1561.5 303.2L1554.8 297.7L1547 292.5L1550.6 290.7L1554.2 289.2L1562.5 294.7z" fill="#f0f921" fill-opacity="0.8"/>
<path d="M1348.3 293.8L1351.4 296.5L1354.4 299.3L1347.1 303.6L1340.7 308.3L1337.2 305.7L1333.6 303.4L1340.5 298.4z" fill="#f5e926" fill-opacity="0.8"/>
<path d="M1315.7 372L1311.4 371.7L1307.1 371.1L1302.8 377.8L1299.7 384.8L1304.4 384.9L1308.9 384.8L1311.7 378.3z" fill="#130789" fill-opacity="0.8"/>
<path d="M1270 351.1L1267.7 348.1L1265.8 345.1L1259.9 353.8L1255.7 362.8L1257.8 365.7L1260.3 368.4L1264.3 359.6z" fill="#7201a8" fill-opacity="0.8"/>
<path d="M1356.2 350.3L1354.6 352.5L1352.6 354.5L1347.7 359L1343.8 363.7L1346 361.5L1347.8 359.1L1351.6 354.6z" fill="#9410a2" fill-opacity="0.8"/>
<path d="M1367.5 318.9L1368.7 322.2L1369.6 325.6L1363.6 329.2L1358.3 333.1L1357.3 329.8L1355.9 326.6L1361.3 322.6z" fill="#f0804e" fill-opacity="0.8"/>
<path d="M1541.4 367L1544.1 369L1547 370.9L1543.5 365.8L1539 360.9L1536.2 359.3L1533.8 357.5L1538.1 362.1z" fill="#7201a8" fill-opacity="0.8"/>
<path d="M1618.1 322.3L1615.6 320.1L1612.6 318.3L1606.6 310.2L1599 302.6L1601.7 304.1L1604.1 306L1611.9 313.9z" fill="#fb9f3a" fill-opacity="0.8"/>
<path d="M1295.8 295.5L1299.2 294.9L1302.7 294.6L1295 301.4L1288.6 308.5L1284.7 309.2L1280.9 310.1L1287.7 302.6z" fill="#fbd524" fill-opacity="0.8"/>
<path d="M1354.4 299.3L1357.2 302.3L1359.8 305.5L1352.9 309.5L1346.9 313.9L1343.9 311L1340.7 308.3L1347.1 303.6z" fill="#fbd524" fill-opacity="0.8"/>
<path d="M1364.2 312.1L1366 315.5L1367.5 318.9L1361.3 322.6L1355.9 326.6L1354.1 323.3L1352 320.1L1357.7 315.9z" fill="#fb9f3a" fill-opacity="0.8"/>
<path d="M1324 371.6L1319.9 372L1315.7 372L1311.7 378.3L1308.9 384.8L1313.4 384.4L1317.7 383.6L1320.3 377.5z" fill="#240691" fill-opacity="0.8"/>
<path d="M1359.8 305.5L1362.1 308.7L1364.2 312.1L1357.7 315.9L1352 320.1L1349.6 317L1346.9 313.9L1352.9 309.5z" fill="#febb2b" fill-opacity="0.8"/>
<path d="M1265.8 345.1L1264.2 342L1263.1 338.8L1257.1 347.7L1252.9 356.8L1254.1 359.8L1255.7 362.8L1259.9 353.8z" fill="#9410a2" fill-opacity="0.8"/>
<path d="M1527.9 335.8L1527.2 339L1527 342.1L1522.3 338L1516.8 334.3L1517 331.2L1517.6 327.9L1523.1 331.7z" fill="#e06363" fill-opacity="0.8"/>
<path d="M1561.5 303.2L1557.5 304.9L1553.5 306.9L1547.3 301.7L1540.1 296.9L1543.5 294.5L1547 292.5L1554.8 297.7z" fill="#f1f525" fill-opacity="0.8"/>
<path d="M1358.5 345.2L1357.5 347.8L1356.2 350.3L1351.6 354.6L1347.8 359.1L1349.3 356.5L1350.3 353.7L1354 349.3z" fill="#b22b8f" fill-opacity="0.8"/>
<path d="M1263.1 338.8L1262.3 335.7L1256.4 344.6L1252.1 353.7L1252.9 356.8L1257.1 347.7z" fill="#b22b8f" fill-opacity="0.8"/>
<path d="M1331.6 370.1L1327.9 371L1324 371.6L1320.3 377.5L1317.7 383.6L1321.9 382.6L1325.8 381.3L1328.2 375.6z" fill="#3a049a" fill-opacity="0.8"/>
<path d="M1530.4 329.4L1528.9 332.6L1527.9 335.8L1523.1 331.7L1517.6 327.9L1518.5 324.6L1519.8 321.3L1525.5 325.2z" fill="#f0804e" fill-opacity="0.8"/>
<path d="M1553.5 306.9L1549.8 309.1L1546.2 311.6L1540.4 306.7L1533.6 302.2L1536.8 299.4L1540.1 296.9L1547.3 301.7z" fill="#f5e926" fill-opacity="0.8"/>
<path d="M1537.3 362.2L1539.2 364.7L1541.4 367L1538.1 362.1L1533.8 357.5L1531.7 355.4L1530 353.1L1534.1 357.6z" fill="#9410a2" fill-opacity="0.8"/>
<path d="M1593.9 388.6L1598.4 387.7L1602.9 386.5L1600.4 378.6L1596.4 370.8L1592.2 372.4L1587.9 373.7L1591.6 381.1z" fill="#130789" fill-opacity="0.8"/>
<path d="M1602.9 386.5L1607.1 385.1L1611.2 383.4L1608.5 375.1L1604.3 366.9L1600.5 369L1596.4 370.8L1600.4 378.6z" fill="#240691" fill-opacity="0.8"/>
<path d="M1612.6 318.3L1609.4 316.6L1605.8 315.3L1600 307.6L1592.8 300.2L1596 301.2L1599 302.6L1606.6 310.2z" fill="#febb2b" fill-opacity="0.8"/>
<path d="M1302.7 294.6L1306.4 294.6L1310.2 295L1302.9 301.4L1296.9 308.1L1292.7 308.2L1288.6 308.5L1295 301.4z" fill="#f5e926" fill-opacity="0.8"/>
<path d="M1584.6 389.5L1589.3 389.2L1593.9 388.6L1591.6 381.1L1587.9 373.7L1583.5 374.8L1579 375.5L1582.5 382.4z" fill="#0d0887" fill-opacity="0.8"/>
<path d="M1611.2 383.4L1615 381.5L1618.5 379.3L1615.7 370.6L1611.3 362.2L1607.9 364.6L1604.3 366.9L1608.5 375.1z" fill="#3a049a" fill-opacity="0.8"/>
<path d="M1534.4 323L1532.2 326.2L1530.4 329.4L1525.5 325.2L1519.8 321.3L1521.4 318L1523.3 314.6L1529.2 318.7z" fill="#fb9f3a" fill-opacity="0.8"/>
<path d="M1546.2 311.6L1542.8 314.2L1539.7 317L1534.3 312.4L1528 308.2L1530.7 305.1L1533.6 302.2L1540.4 306.7z" fill="#fbd524" fill-opacity="0.8"/>
<path d="M1575.3 389.2L1579.9 389.5L1584.6 389.5L1582.5 382.4L1579 375.5L1574.6 376L1570.2 376.1L1573.4 382.6z" fill="#130789" fill-opacity="0.8"/>
<path d="M1539.7 317L1536.9 320L1534.4 323L1529.2 318.7L1523.3 314.6L1525.5 311.3L1528 308.2L1534.3 312.4z" fill="#febb2b" fill-opacity="0.8"/>
<path d="M1618.5 379.3L1621.7 376.9L1624.6 374.4L1621.7 365.5L1617.1 356.7L1614.3 359.5L1611.3 362.2L1615.7 370.6z" fill="#5502a4" fill-opacity="0.8"/>
<path d="M1338.3 367.5L1335.1 368.9L1331.6 370.1L1328.2 375.6L1325.8 381.3L1329.5 379.7L1332.9 377.9L1335.1 372.6z" fill="#5502a4" fill-opacity="0.8"/>
<path d="M1359.2 339.4L1359 342.3L1358.5 345.2L1354 349.3L1350.3 353.7L1350.9 350.8L1351 347.8L1354.7 343.5z" fill="#cc4778" fill-opacity="0.8"/>
<path d="M1262 332.7L1262.1 329.7L1262.7 326.8L1256.7 335.5L1252.5 344.6L1251.9 347.6L1251.7 350.6L1256 341.5z" fill="#cc4778" fill-opacity="0.8"/>
<path d="M1566.4 387.7L1570.8 388.6L1575.3 389.2L1573.4 382.6L1570.2 376.1L1565.9 376L1561.7 375.6L1564.6 381.6z" fill="#240691" fill-opacity="0.8"/>
<path d="M1310.2 295L1314.1 295.7L1318.1 296.6L1311.2 302.6L1305.6 309L1301.2 308.4L1296.9 308.1L1302.9 301.4z" fill="#f1f525" fill-opacity="0.8"/>
<path d="M1534.8 356.7L1535.8 359.5L1537.3 362.2L1534.1 357.6L1530 353.1L1528.7 350.6L1527.7 347.9L1531.7 352.2z" fill="#b22b8f" fill-opacity="0.8"/>
<path d="M1605.8 315.3L1602 314.2L1598 313.4L1592.5 306.1L1585.7 299.1L1589.3 299.5L1592.8 300.2L1600 307.6z" fill="#fbd524" fill-opacity="0.8"/>
<path d="M1624.6 374.4L1627.1 371.7L1629.2 368.9L1626.1 359.7L1621.4 350.8L1619.4 353.8L1617.1 356.7L1621.7 365.5z" fill="#7201a8" fill-opacity="0.8"/>
<path d="M1558.3 385.2L1562.3 386.6L1566.4 387.7L1564.6 381.6L1561.7 375.6L1557.7 374.8L1553.9 373.8L1556.6 379.4z" fill="#3a049a" fill-opacity="0.8"/>
<path d="M1358.3 333.1L1358.9 336.3L1359.2 339.4L1354.7 343.5L1351 347.8L1350.8 344.7L1350.1 341.6L1353.8 337.2z" fill="#e06363" fill-opacity="0.8"/>
<path d="M1343.8 363.7L1341.2 365.7L1338.3 367.5L1335.1 372.6L1332.9 377.9L1335.9 375.9L1338.7 373.6L1340.7 368.6z" fill="#7201a8" fill-opacity="0.8"/>
<path d="M1262.7 326.8L1263.6 324L1265 321.4L1259.1 330L1254.9 338.9L1253.5 341.7L1252.5 344.6L1256.7 335.5z" fill="#e06363" fill-opacity="0.8"/>
<path d="M1629.2 368.9L1630.8 366L1632.1 363L1629 353.7L1624.2 344.7L1623 347.8L1621.4 350.8L1626.1 359.7z" fill="#9410a2" fill-opacity="0.8"/>
<path d="M1318.1 296.6L1322 297.9L1326 299.5L1319.6 305.1L1314.4 311L1310 309.9L1305.6 309L1311.2 302.6z" fill="#f0f921" fill-opacity="0.8"/>
<path d="M1534 350.7L1534.2 353.8L1534.8 356.7L1531.7 352.2L1527.7 347.9L1527.1 345.1L1527 342.1L1530.9 346.3z" fill="#cc4778" fill-opacity="0.8"/>
<path d="M1598 313.4L1593.8 313L1589.5 312.8L1584.3 305.8L1577.9 299.2L1581.8 299L1585.7 299.1L1592.5 306.1z" fill="#f5e926" fill-opacity="0.8"/>
<path d="M1551.1 381.5L1554.6 383.5L1558.3 385.2L1556.6 379.4L1553.9 373.8L1550.3 372.5L1547 370.9L1549.6 376.2z" fill="#5502a4" fill-opacity="0.8"/>
<path d="M1355.9 326.6L1357.3 329.8L1358.3 333.1L1353.8 337.2L1350.1 341.6L1349 338.4L1347.4 335.3L1351.2 330.8z" fill="#f0804e" fill-opacity="0.8"/>
<path d="M1632.1 363L1632.9 359.9L1629.8 350.6L1624.9 341.6L1624.2 344.7L1629 353.7z" fill="#b22b8f" fill-opacity="0.8"/>
<path d="M1326 299.5L1329.8 301.3L1333.6 303.4L1327.7 308.7L1322.8 314.2L1318.6 312.5L1314.4 311L1319.6 305.1z" fill="#f1f525" fill-opacity="0.8"/>
<path d="M1347.8 359.1L1346 361.5L1343.8 363.7L1340.7 368.6L1338.7 373.6L1341 371.2L1342.9 368.6L1344.9 363.7z" fill="#9410a2" fill-opacity="0.8"/>
<path d="M1265 321.4L1266.8 318.9L1268.9 316.7L1263.2 325.1L1259.1 333.8L1256.8 336.3L1254.9 338.9L1259.1 330z" fill="#f0804e" fill-opacity="0.8"/>
<path d="M1352 320.1L1354.1 323.3L1355.9 326.6L1351.2 330.8L1347.4 335.3L1345.5 332.2L1343.2 329.2L1347.2 324.5z" fill="#fb9f3a" fill-opacity="0.8"/>
<path d="M1535 344.5L1534.3 347.7L1534 350.7L1530.9 346.3L1527 342.1L1527.2 339L1527.9 335.8L1531.9 340.1z" fill="#e06363" fill-opacity="0.8"/>
<path d="M1333.6 303.4L1337.2 305.7L1340.7 308.3L1335.2 313.2L1330.6 318.4L1326.8 316.2L1322.8 314.2L1327.7 308.7z" fill="#f5e926" fill-opacity="0.8"/>
<path d="M1589.5 312.8L1585 312.9L1580.5 313.4L1575.7 306.8L1569.7 300.6L1573.8 299.8L1577.9 299.2L1584.3 305.8z" fill="#f1f525" fill-opacity="0.8"/>
<path d="M1346.9 313.9L1349.6 317L1352 320.1L1347.2 324.5L1343.2 329.2L1340.5 326.2L1337.5 323.5L1341.7 318.6z" fill="#febb2b" fill-opacity="0.8"/>
<path d="M1340.7 308.3L1343.9 311L1346.9 313.9L1341.7 318.6L1337.5 323.5L1334.2 320.9L1330.6 318.4L1335.2 313.2z" fill="#fbd524" fill-opacity="0.8"/>
<path d="M1545.3 377L1548 379.4L1551.1 381.5L1549.6 376.2L1547 370.9L1544.1 369L1541.4 367L1543.8 371.9z" fill="#7201a8" fill-opacity="0.8"/>
<path d="M1633.2 356.9L1633.1 353.8L1632.5 350.8L1629.4 341.6L1624.6 332.6L1625.1 335.5L1625.2 338.5L1630.1 347.6z" fill="#cc4778" fill-opacity="0.8"/>
<path d="M1537.7 338.3L1536.1 341.4L1535 344.5L1531.9 340.1L1527.9 335.8L1528.9 332.6L1530.4 329.4L1534.5 333.8z" fill="#f0804e" fill-opacity="0.8"/>
<path d="M1580.5 313.4L1576 314.1L1571.6 315.1L1567.1 309L1561.5 303.2L1565.6 301.7L1569.7 300.6L1575.7 306.8z" fill="#f0f921" fill-opacity="0.8"/>
<path d="M1350.3 353.7L1349.3 356.5L1347.8 359.1L1344.9 363.7L1342.9 368.6L1344.4 365.8L1345.5 362.9L1347.5 358.2z" fill="#b22b8f" fill-opacity="0.8"/>
<path d="M1268.9 316.7L1271.5 314.7L1274.3 312.9L1268.8 321L1264.9 329.4L1261.8 331.5L1259.1 333.8L1263.2 325.1z" fill="#fb9f3a" fill-opacity="0.8"/>
<path d="M1541 371.8L1542.9 374.5L1545.3 377L1543.8 371.9L1541.4 367L1539.2 364.7L1537.3 362.2L1539.6 366.9z" fill="#9410a2" fill-opacity="0.8"/>
<path d="M1542 332.4L1539.7 335.3L1537.7 338.3L1534.5 333.8L1530.4 329.4L1532.2 326.2L1534.4 323L1538.7 327.6z" fill="#fb9f3a" fill-opacity="0.8"/>
<path d="M1571.6 315.1L1567.2 316.5L1562.9 318.1L1558.8 312.4L1553.5 306.9L1557.5 304.9L1561.5 303.2L1567.1 309z" fill="#f1f525" fill-opacity="0.8"/>
<path d="M1299.7 384.8L1295.1 384.3L1290.6 383.6L1288.7 391.1L1288.4 398.8L1293 399.1L1297.8 399L1298.1 391.9z" fill="#0d0887" fill-opacity="0.8"/>
<path d="M1308.9 384.8L1304.4 384.9L1299.7 384.8L1298.1 391.9L1297.8 399L1302.5 398.7L1307.1 398.1L1307.4 391.4z" fill="#130789" fill-opacity="0.8"/>
<path d="M1290.6 383.6L1286.1 382.5L1281.7 381.2L1279.7 389.2L1279.3 397.3L1283.8 398.2L1288.4 398.8L1288.7 391.1z" fill="#130789" fill-opacity="0.8"/>
<path d="M1632.5 350.8L1631.4 347.8L1630 345L1626.9 335.9L1622.2 327.1L1623.6 329.8L1624.6 332.6L1629.4 341.6z" fill="#e06363" fill-opacity="0.8"/>
<path d="M1547.9 326.8L1544.8 329.5L1542 332.4L1538.7 327.6L1534.4 323L1536.9 320L1539.7 317L1544.3 321.8z" fill="#febb2b" fill-opacity="0.8"/>
<path d="M1562.9 318.1L1558.8 319.9L1554.9 322L1551.1 316.7L1546.2 311.6L1549.8 309.1L1553.5 306.9L1558.8 312.4z" fill="#f5e926" fill-opacity="0.8"/>
<path d="M1317.7 383.6L1313.4 384.4L1308.9 384.8L1307.4 391.4L1307.1 398.1L1311.7 397.2L1316.1 396.1L1316.3 389.8z" fill="#240691" fill-opacity="0.8"/>
<path d="M1554.9 322L1551.2 324.3L1547.9 326.8L1544.3 321.8L1539.7 317L1542.8 314.2L1546.2 311.6L1551.1 316.7z" fill="#fbd524" fill-opacity="0.8"/>
<path d="M1351 347.8L1350.9 350.8L1350.3 353.7L1347.5 358.2L1345.5 362.9L1346.1 359.9L1346.3 356.9L1348.2 352.3z" fill="#cc4778" fill-opacity="0.8"/>
<path d="M1281.7 381.2L1277.5 379.6L1273.5 377.8L1271.4 386.2L1270.9 394.7L1275 396.1L1279.3 397.3L1279.7 389.2z" fill="#240691" fill-opacity="0.8"/>
<path d="M1274.3 312.9L1277.5 311.4L1280.9 310.1L1275.7 317.9L1271.9 326L1268.2 327.6L1264.9 329.4L1268.8 321z" fill="#febb2b" fill-opacity="0.8"/>
<path d="M1325.8 381.3L1321.9 382.6L1317.7 383.6L1316.3 389.8L1316.1 396.1L1320.3 394.6L1324.3 392.9L1324.5 387.1z" fill="#3a049a" fill-opacity="0.8"/>
<path d="M1538.3 366.1L1539.4 369L1541 371.8L1539.6 366.9L1537.3 362.2L1535.8 359.5L1534.8 356.7L1537 361.3z" fill="#b22b8f" fill-opacity="0.8"/>
<path d="M1273.5 377.8L1269.7 375.8L1266.2 373.5L1264 382.2L1263.5 391.1L1267 393L1270.9 394.7L1271.4 386.2z" fill="#3a049a" fill-opacity="0.8"/>
<path d="M1630 345L1628 342.3L1625.7 339.7L1622.8 330.9L1618.1 322.3L1620.3 324.6L1622.2 327.1L1626.9 335.9z" fill="#f0804e" fill-opacity="0.8"/>
<path d="M1350.1 341.6L1350.8 344.7L1351 347.8L1348.2 352.3L1346.3 356.9L1346 353.8L1345.3 350.7L1347.3 346.1z" fill="#e06363" fill-opacity="0.8"/>
<path d="M1332.9 377.9L1329.5 379.7L1325.8 381.3L1324.5 387.1L1324.3 392.9L1328.1 391L1331.5 388.8L1331.7 383.4z" fill="#5502a4" fill-opacity="0.8"/>
<path d="M1280.9 310.1L1284.7 309.2L1288.6 308.5L1283.6 315.9L1280 323.6L1275.9 324.7L1271.9 326L1275.7 317.9z" fill="#fbd524" fill-opacity="0.8"/>
<path d="M1266.2 373.5L1263.1 371L1260.3 368.4L1257.9 377.4L1257.3 386.6L1260.2 388.9L1263.5 391.1L1264 382.2z" fill="#5502a4" fill-opacity="0.8"/>
<path d="M1537.5 360L1537.7 363L1538.3 366.1L1537 361.3L1534.8 356.7L1534.2 353.8L1534 350.7L1536.2 355.3z" fill="#cc4778" fill-opacity="0.8"/>
<path d="M1338.7 373.6L1335.9 375.9L1332.9 377.9L1331.7 383.4L1331.5 388.8L1334.7 386.5L1337.4 383.9L1337.5 378.7z" fill="#7201a8" fill-opacity="0.8"/>
<path d="M1347.4 335.3L1349 338.4L1350.1 341.6L1347.3 346.1L1345.3 350.7L1344.1 347.7L1342.5 344.7L1344.5 339.9z" fill="#f0804e" fill-opacity="0.8"/>
<path d="M1625.7 339.7L1623 337.3L1619.9 335.1L1617.1 326.6L1612.6 318.3L1615.6 320.1L1618.1 322.3L1622.8 330.9z" fill="#fb9f3a" fill-opacity="0.8"/>
<path d="M1575.4 402.6L1580.1 403.4L1584.8 403.8L1585.4 396.6L1584.6 389.5L1579.9 389.5L1575.3 389.2L1576 395.9z" fill="#130789" fill-opacity="0.8"/>
<path d="M1288.6 308.5L1292.7 308.2L1296.9 308.1L1292.2 315.2L1288.9 322.4L1284.4 322.9L1280 323.6L1283.6 315.9z" fill="#f5e926" fill-opacity="0.8"/>
<path d="M1260.3 368.4L1257.8 365.7L1255.7 362.8L1253.3 372L1252.7 381.3L1254.8 384L1257.3 386.6L1257.9 377.4z" fill="#7201a8" fill-opacity="0.8"/>
<path d="M1584.8 403.8L1589.5 404L1594.1 403.9L1594.8 396.2L1593.9 388.6L1589.3 389.2L1584.6 389.5L1585.4 396.6z" fill="#0d0887" fill-opacity="0.8"/>
<path d="M1566.5 400.2L1570.9 401.6L1575.4 402.6L1576 395.9L1575.3 389.2L1570.8 388.6L1566.4 387.7L1567.1 394z" fill="#240691" fill-opacity="0.8"/>
<path d="M1594.1 403.9L1598.7 403.4L1603.2 402.7L1603.8 394.6L1602.9 386.5L1598.4 387.7L1593.9 388.6L1594.8 396.2z" fill="#130789" fill-opacity="0.8"/>
<path d="M1558.2 396.8L1562.2 398.7L1566.5 400.2L1567.1 394L1566.4 387.7L1562.3 386.6L1558.3 385.2L1558.8 391z" fill="#3a049a" fill-opacity="0.8"/>
<path d="M1538.6 353.9L1537.8 356.9L1537.5 360L1536.2 355.3L1534 350.7L1534.3 347.7L1535 344.5L1537.2 349.2z" fill="#e06363" fill-opacity="0.8"/>
<path d="M1343.2 329.2L1345.5 332.2L1347.4 335.3L1344.5 339.9L1342.5 344.7L1340.5 341.7L1338 338.9L1340.1 334z" fill="#fb9f3a" fill-opacity="0.8"/>
<path d="M1342.9 368.6L1341 371.2L1338.7 373.6L1337.5 378.7L1337.4 383.9L1339.8 381.2L1341.8 378.4L1341.9 373.4z" fill="#9410a2" fill-opacity="0.8"/>
<path d="M1296.9 308.1L1301.2 308.4L1305.6 309L1301.2 315.6L1298.2 322.4L1293.5 322.2L1288.9 322.4L1292.2 315.2z" fill="#f1f525" fill-opacity="0.8"/>
<path d="M1603.2 402.7L1607.5 401.7L1611.6 400.4L1612.2 391.9L1611.2 383.4L1607.1 385.1L1602.9 386.5L1603.8 394.6z" fill="#240691" fill-opacity="0.8"/>
<path d="M1551.1 392.5L1554.5 394.8L1558.2 396.8L1558.8 391L1558.3 385.2L1554.6 383.5L1551.1 381.5L1551.6 387z" fill="#5502a4" fill-opacity="0.8"/>
<path d="M1619.9 335.1L1616.5 333.2L1612.8 331.5L1610.1 323.3L1605.8 315.3L1609.4 316.6L1612.6 318.3L1617.1 326.6z" fill="#febb2b" fill-opacity="0.8"/>
<path d="M1255.7 362.8L1254.1 359.8L1252.9 356.8L1250.4 366.1L1249.7 375.5L1251 378.5L1252.7 381.3L1253.3 372z" fill="#9410a2" fill-opacity="0.8"/>
<path d="M1337.5 323.5L1340.5 326.2L1343.2 329.2L1340.1 334L1338 338.9L1335.2 336.3L1332 333.8L1334.3 328.6z" fill="#febb2b" fill-opacity="0.8"/>
<path d="M1305.6 309L1310 309.9L1314.4 311L1310.3 317.2L1307.5 323.6L1302.8 322.8L1298.2 322.4L1301.2 315.6z" fill="#f0f921" fill-opacity="0.8"/>
<path d="M1611.6 400.4L1615.5 398.8L1619 397L1619.6 388.1L1618.5 379.3L1615 381.5L1611.2 383.4L1612.2 391.9z" fill="#3a049a" fill-opacity="0.8"/>
<path d="M1541.4 347.9L1539.8 350.8L1538.6 353.9L1537.2 349.2L1535 344.5L1536.1 341.4L1537.7 338.3L1540 343.1z" fill="#f0804e" fill-opacity="0.8"/>
<path d="M1330.6 318.4L1334.2 320.9L1337.5 323.5L1334.3 328.6L1332 333.8L1328.5 331.5L1324.7 329.4L1327.1 323.8z" fill="#fbd524" fill-opacity="0.8"/>
<path d="M1545.2 387.4L1547.9 390L1551.1 392.5L1551.6 387L1551.1 381.5L1548 379.4L1545.3 377L1545.7 382.2z" fill="#7201a8" fill-opacity="0.8"/>
<path d="M1314.4 311L1318.6 312.5L1322.8 314.2L1319 320L1316.4 326L1312 324.6L1307.5 323.6L1310.3 317.2z" fill="#f1f525" fill-opacity="0.8"/>
<path d="M1252.9 356.8L1252.1 353.7L1249.6 363.1L1248.9 372.5L1249.7 375.5L1250.4 366.1z" fill="#b22b8f" fill-opacity="0.8"/>
<path d="M1345.5 362.9L1344.4 365.8L1342.9 368.6L1341.9 373.4L1341.8 378.4L1343.3 375.4L1344.4 372.4L1344.5 367.6z" fill="#b22b8f" fill-opacity="0.8"/>
<path d="M1322.8 314.2L1326.8 316.2L1330.6 318.4L1327.1 323.8L1324.7 329.4L1320.7 327.6L1316.4 326L1319 320z" fill="#f5e926" fill-opacity="0.8"/>
<path d="M1612.8 331.5L1608.8 330L1604.5 328.8L1602 321L1598 313.4L1602 314.2L1605.8 315.3L1610.1 323.3z" fill="#fbd524" fill-opacity="0.8"/>
<path d="M1619 397L1622.3 394.9L1625.2 392.7L1625.8 383.5L1624.6 374.4L1621.7 376.9L1618.5 379.3L1619.6 388.1z" fill="#5502a4" fill-opacity="0.8"/>
<path d="M1545.9 342.3L1543.5 345L1541.4 347.9L1540 343.1L1537.7 338.3L1539.7 335.3L1542 332.4L1544.5 337.3z" fill="#fb9f3a" fill-opacity="0.8"/>
<path d="M1540.8 381.7L1542.8 384.6L1545.2 387.4L1545.7 382.2L1545.3 377L1542.9 374.5L1541 371.8L1541.4 376.7z" fill="#9410a2" fill-opacity="0.8"/>
<path d="M1604.5 328.8L1600.1 327.9L1595.6 327.3L1593.2 320L1589.5 312.8L1593.8 313L1598 313.4L1602 321z" fill="#f5e926" fill-opacity="0.8"/>
<path d="M1346.3 356.9L1346.1 359.9L1345.5 362.9L1344.5 367.6L1344.4 372.4L1345 369.4L1345.2 366.3L1345.3 361.6z" fill="#cc4778" fill-opacity="0.8"/>
<path d="M1552 337.3L1548.8 339.7L1545.9 342.3L1544.5 337.3L1542 332.4L1544.8 329.5L1547.9 326.8L1550.4 332z" fill="#febb2b" fill-opacity="0.8"/>
<path d="M1251.7 350.6L1251.9 347.6L1252.5 344.6L1250 353.9L1249.3 363.3L1248.7 366.4L1248.6 369.5L1249.3 360z" fill="#cc4778" fill-opacity="0.8"/>
<path d="M1625.2 392.7L1627.7 390.2L1629.8 387.6L1630.4 378.2L1629.2 368.9L1627.1 371.7L1624.6 374.4L1625.8 383.5z" fill="#7201a8" fill-opacity="0.8"/>
<path d="M1595.6 327.3L1590.9 327L1586.2 327L1584 320.1L1580.5 313.4L1585 312.9L1589.5 312.8L1593.2 320z" fill="#f1f525" fill-opacity="0.8"/>
<path d="M1538.2 375.6L1539.3 378.7L1540.8 381.7L1541.4 376.7L1541 371.8L1539.4 369L1538.3 366.1L1538.7 370.8z" fill="#b22b8f" fill-opacity="0.8"/>
<path d="M1559.4 333.2L1555.5 335.2L1552 337.3L1550.4 332L1547.9 326.8L1551.2 324.3L1554.9 322L1557.7 327.5z" fill="#fbd524" fill-opacity="0.8"/>
<path d="M1586.2 327L1581.5 327.3L1576.8 327.9L1574.8 321.5L1571.6 315.1L1576 314.1L1580.5 313.4L1584 320.1z" fill="#f0f921" fill-opacity="0.8"/>
<path d="M1567.7 330L1563.4 331.5L1559.4 333.2L1557.7 327.5L1554.9 322L1558.8 319.9L1562.9 318.1L1565.9 324z" fill="#f5e926" fill-opacity="0.8"/>
<path d="M1576.8 327.9L1572.2 328.8L1567.7 330L1565.9 324L1562.9 318.1L1567.2 316.5L1571.6 315.1L1574.8 321.5z" fill="#f1f525" fill-opacity="0.8"/>
<path d="M1345.3 350.7L1346 353.8L1346.3 356.9L1345.3 361.6L1345.2 366.3L1344.9 363.2L1344.2 360.2L1344.3 355.4z" fill="#e06363" fill-opacity="0.8"/>
<path d="M1252.5 344.6L1253.5 341.7L1254.9 338.9L1252.5 348.1L1251.9 357.3L1250.4 360.3L1249.3 363.3L1250 353.9z" fill="#e06363" fill-opacity="0.8"/>
<path d="M1629.8 387.6L1631.5 384.8L1632.8 381.9L1633.3 372.4L1632.1 363L1630.8 366L1629.2 368.9L1630.4 378.2z" fill="#9410a2" fill-opacity="0.8"/>
<path d="M1537.4 369.4L1537.6 372.5L1538.2 375.6L1538.7 370.8L1538.3 366.1L1537.7 363L1537.5 360L1537.9 364.7z" fill="#cc4778" fill-opacity="0.8"/>
<path d="M1316.1 396.1L1311.7 397.2L1307.1 398.1L1308.2 404.9L1310.5 411.5L1315 410.1L1319.3 408.5L1317.1 402.3z" fill="#240691" fill-opacity="0.8"/>
<path d="M1324.3 392.9L1320.3 394.6L1316.1 396.1L1317.1 402.3L1319.3 408.5L1323.5 406.7L1327.4 404.5L1325.3 398.8z" fill="#3a049a" fill-opacity="0.8"/>
<path d="M1307.1 398.1L1302.5 398.7L1297.8 399L1298.8 406.2L1301.3 413.4L1305.9 412.6L1310.5 411.5L1308.2 404.9z" fill="#130789" fill-opacity="0.8"/>
<path d="M1331.5 388.8L1328.1 391L1324.3 392.9L1325.3 398.8L1327.4 404.5L1331.1 402.2L1334.4 399.7L1332.5 394.3z" fill="#5502a4" fill-opacity="0.8"/>
<path d="M1342.5 344.7L1344.1 347.7L1345.3 350.7L1344.3 355.4L1344.2 360.2L1343 357.3L1341.3 354.4L1341.4 349.5z" fill="#f0804e" fill-opacity="0.8"/>
<path d="M1632.8 381.9L1633.6 378.9L1634.1 369.4L1632.9 359.9L1632.1 363L1633.3 372.4z" fill="#b22b8f" fill-opacity="0.8"/>
<path d="M1297.8 399L1293 399.1L1288.4 398.8L1289.5 406.4L1292.1 414L1296.7 413.8L1301.3 413.4L1298.8 406.2z" fill="#0d0887" fill-opacity="0.8"/>
<path d="M1254.9 338.9L1256.8 336.3L1259.1 333.8L1256.8 342.7L1256.2 351.7L1253.8 354.4L1251.9 357.3L1252.5 348.1z" fill="#f0804e" fill-opacity="0.8"/>
<path d="M1337.4 383.9L1334.7 386.5L1331.5 388.8L1332.5 394.3L1334.4 399.7L1337.5 397L1340.2 394.2L1338.3 389.1z" fill="#7201a8" fill-opacity="0.8"/>
<path d="M1538.4 363.4L1537.7 366.4L1537.4 369.4L1537.9 364.7L1537.5 360L1537.8 356.9L1538.6 353.9L1539 358.6z" fill="#e06363" fill-opacity="0.8"/>
<path d="M1288.4 398.8L1283.8 398.2L1279.3 397.3L1280.4 405.4L1283.1 413.4L1287.6 413.9L1292.1 414L1289.5 406.4z" fill="#130789" fill-opacity="0.8"/>
<path d="M1338 338.9L1340.5 341.7L1342.5 344.7L1341.4 349.5L1341.3 354.4L1339.3 351.7L1336.8 349.1L1336.9 344z" fill="#fb9f3a" fill-opacity="0.8"/>
<path d="M1341.8 378.4L1339.8 381.2L1337.4 383.9L1338.3 389.1L1340.2 394.2L1342.5 391.2L1344.5 388.2L1342.6 383.3z" fill="#9410a2" fill-opacity="0.8"/>
<path d="M1259.1 333.8L1261.8 331.5L1264.9 329.4L1262.6 338L1262 346.7L1258.9 349.1L1256.2 351.7L1256.8 342.7z" fill="#fb9f3a" fill-opacity="0.8"/>
<path d="M1633.9 375.8L1633.8 372.7L1633.2 369.6L1633.8 360.2L1632.5 350.8L1633.1 353.8L1633.2 356.9L1634.5 366.3z" fill="#cc4778" fill-opacity="0.8"/>
<path d="M1279.3 397.3L1275 396.1L1270.9 394.7L1272 403.2L1274.9 411.7L1278.9 412.7L1283.1 413.4L1280.4 405.4z" fill="#240691" fill-opacity="0.8"/>
<path d="M1541.3 357.7L1539.6 360.5L1538.4 363.4L1539 358.6L1538.6 353.9L1539.8 350.8L1541.4 347.9L1541.8 352.8z" fill="#f0804e" fill-opacity="0.8"/>
<path d="M1553.7 408.3L1557.5 410.6L1561.6 412.6L1564.7 406.5L1566.5 400.2L1562.2 398.7L1558.2 396.8L1556.5 402.6z" fill="#3a049a" fill-opacity="0.8"/>
<path d="M1561.6 412.6L1565.9 414.4L1570.3 415.9L1573.5 409.3L1575.4 402.6L1570.9 401.6L1566.5 400.2L1564.7 406.5z" fill="#240691" fill-opacity="0.8"/>
<path d="M1332 333.8L1335.2 336.3L1338 338.9L1336.9 344L1336.8 349.1L1333.9 346.7L1330.7 344.5L1330.8 339.1z" fill="#febb2b" fill-opacity="0.8"/>
<path d="M1546.7 403.2L1550.1 405.9L1553.7 408.3L1556.5 402.6L1558.2 396.8L1554.5 394.8L1551.1 392.5L1549.4 397.9z" fill="#5502a4" fill-opacity="0.8"/>
<path d="M1344.4 372.4L1343.3 375.4L1341.8 378.4L1342.6 383.3L1344.5 388.2L1346 385.1L1347 381.9L1345.3 377.2z" fill="#b22b8f" fill-opacity="0.8"/>
<path d="M1264.9 329.4L1268.2 327.6L1271.9 326L1269.8 334.2L1269.3 342.6L1265.5 344.5L1262 346.7L1262.6 338z" fill="#febb2b" fill-opacity="0.8"/>
<path d="M1570.3 415.9L1574.8 417.1L1579.3 418L1582.8 411L1584.8 403.8L1580.1 403.4L1575.4 402.6L1573.5 409.3z" fill="#130789" fill-opacity="0.8"/>
<path d="M1541.1 397.5L1543.7 400.4L1546.7 403.2L1549.4 397.9L1551.1 392.5L1547.9 390L1545.2 387.4L1543.6 392.5z" fill="#7201a8" fill-opacity="0.8"/>
<path d="M1633.2 369.6L1632.1 366.5L1630.6 363.5L1631.2 354.2L1630 345L1631.4 347.8L1632.5 350.8L1633.8 360.2z" fill="#e06363" fill-opacity="0.8"/>
<path d="M1324.7 329.4L1328.5 331.5L1332 333.8L1330.8 339.1L1330.7 344.5L1327.1 342.5L1323.2 340.8L1323.4 335.1z" fill="#fbd524" fill-opacity="0.8"/>
<path d="M1270.9 394.7L1267 393L1263.5 391.1L1264.6 400L1267.6 408.8L1271.1 410.4L1274.9 411.7L1272 403.2z" fill="#3a049a" fill-opacity="0.8"/>
<path d="M1271.9 326L1275.9 324.7L1280 323.6L1278 331.4L1277.6 339.4L1273.3 340.8L1269.3 342.6L1269.8 334.2z" fill="#fbd524" fill-opacity="0.8"/>
<path d="M1579.3 418L1583.9 418.7L1588.4 419L1592 411.5L1594.1 403.9L1589.5 404L1584.8 403.8L1582.8 411z" fill="#0d0887" fill-opacity="0.8"/>
<path d="M1545.8 352.5L1543.3 355L1541.3 357.7L1541.8 352.8L1541.4 347.9L1543.5 345L1545.9 342.3L1546.4 347.4z" fill="#fb9f3a" fill-opacity="0.8"/>
<path d="M1536.9 391.4L1538.8 394.5L1541.1 397.5L1543.6 392.5L1545.2 387.4L1542.8 384.6L1540.8 381.7L1539.3 386.6z" fill="#9410a2" fill-opacity="0.8"/>
<path d="M1345.2 366.3L1345 369.4L1344.4 372.4L1345.3 377.2L1347 381.9L1347.7 378.8L1347.8 375.7L1346.1 371z" fill="#cc4778" fill-opacity="0.8"/>
<path d="M1316.4 326L1320.7 327.6L1324.7 329.4L1323.4 335.1L1323.2 340.8L1319.1 339.4L1314.8 338.2L1315 332z" fill="#f5e926" fill-opacity="0.8"/>
<path d="M1280 323.6L1284.4 322.9L1288.9 322.4L1287 329.8L1286.7 337.3L1282.1 338.2L1277.6 339.4L1278 331.4z" fill="#f5e926" fill-opacity="0.8"/>
<path d="M1307.5 323.6L1312 324.6L1316.4 326L1315 332L1314.8 338.2L1310.3 337.3L1305.6 336.7L1305.9 330.1z" fill="#f1f525" fill-opacity="0.8"/>
<path d="M1288.9 322.4L1293.5 322.2L1298.2 322.4L1296.5 329.3L1296.1 336.4L1291.4 336.7L1286.7 337.3L1287 329.8z" fill="#f1f525" fill-opacity="0.8"/>
<path d="M1630.6 363.5L1628.7 360.6L1626.3 357.7L1626.9 348.7L1625.7 339.7L1628 342.3L1630 345L1631.2 354.2z" fill="#f0804e" fill-opacity="0.8"/>
<path d="M1588.4 419L1592.9 419L1597.2 418.7L1601 410.8L1603.2 402.7L1598.7 403.4L1594.1 403.9L1592 411.5z" fill="#130789" fill-opacity="0.8"/>
<path d="M1298.2 322.4L1302.8 322.8L1307.5 323.6L1305.9 330.1L1305.6 336.7L1300.9 336.4L1296.1 336.4L1296.5 329.3z" fill="#f0f921" fill-opacity="0.8"/>
<path d="M1534.3 385L1535.4 388.2L1536.9 391.4L1539.3 386.6L1540.8 381.7L1539.3 378.7L1538.2 375.6L1536.7 380.4z" fill="#b22b8f" fill-opacity="0.8"/>
<path d="M1263.5 391.1L1260.2 388.9L1257.3 386.6L1258.5 395.7L1261.5 404.8L1264.4 406.9L1267.6 408.8L1264.6 400z" fill="#5502a4" fill-opacity="0.8"/>
<path d="M1551.9 348.1L1548.7 350.2L1545.8 352.5L1546.4 347.4L1545.9 342.3L1548.8 339.7L1552 337.3L1552.5 342.7z" fill="#febb2b" fill-opacity="0.8"/>
<path d="M1344.2 360.2L1344.9 363.2L1345.2 366.3L1346.1 371L1347.8 375.7L1347.6 372.6L1346.8 369.7L1345 365z" fill="#e06363" fill-opacity="0.8"/>
<path d="M1626.3 357.7L1623.6 355.1L1620.4 352.6L1621 343.8L1619.9 335.1L1623 337.3L1625.7 339.7L1626.9 348.7z" fill="#fb9f3a" fill-opacity="0.8"/>
<path d="M1597.2 418.7L1601.4 418.1L1605.4 417.2L1609.3 408.9L1611.6 400.4L1607.5 401.7L1603.2 402.7L1601 410.8z" fill="#240691" fill-opacity="0.8"/>
<path d="M1559.3 344.6L1555.5 346.2L1551.9 348.1L1552.5 342.7L1552 337.3L1555.5 335.2L1559.4 333.2L1559.9 338.9z" fill="#fbd524" fill-opacity="0.8"/>
<path d="M1533.5 378.8L1533.7 381.9L1534.3 385L1536.7 380.4L1538.2 375.6L1537.6 372.5L1537.4 369.4L1535.9 374.1z" fill="#cc4778" fill-opacity="0.8"/>
<path d="M1257.3 386.6L1254.8 384L1252.7 381.3L1253.9 390.7L1256.9 400L1259 402.5L1261.5 404.8L1258.5 395.7z" fill="#7201a8" fill-opacity="0.8"/>
<path d="M1620.4 352.6L1617 350.2L1613.2 348.1L1613.8 339.8L1612.8 331.5L1616.5 333.2L1619.9 335.1L1621 343.8z" fill="#febb2b" fill-opacity="0.8"/>
<path d="M1341.3 354.4L1343 357.3L1344.2 360.2L1345 365L1346.8 369.7L1345.7 366.8L1344 364.1L1342.2 359.3z" fill="#f0804e" fill-opacity="0.8"/>
<path d="M1567.8 342.3L1563.4 343.3L1559.3 344.6L1559.9 338.9L1559.4 333.2L1563.4 331.5L1567.7 330L1568.4 336.1z" fill="#f5e926" fill-opacity="0.8"/>
<path d="M1605.4 417.2L1609.1 416L1612.6 414.6L1616.7 405.8L1619 397L1615.5 398.8L1611.6 400.4L1609.3 408.9z" fill="#3a049a" fill-opacity="0.8"/>
<path d="M1613.2 348.1L1609.2 346.3L1604.9 344.7L1605.5 336.7L1604.5 328.8L1608.8 330L1612.8 331.5L1613.8 339.8z" fill="#fbd524" fill-opacity="0.8"/>
<path d="M1534.5 372.8L1533.8 375.7L1533.5 378.8L1535.9 374.1L1537.4 369.4L1537.7 366.4L1538.4 363.4L1536.9 368.1z" fill="#e06363" fill-opacity="0.8"/>
<path d="M1334.4 399.7L1331.1 402.2L1327.4 404.5L1330.6 410.2L1334.9 415.7L1338.4 413L1341.6 410.1L1337.5 405z" fill="#5502a4" fill-opacity="0.8"/>
<path d="M1576.9 341L1572.3 341.5L1567.8 342.3L1568.4 336.1L1567.7 330L1572.2 328.8L1576.8 327.9L1577.5 334.5z" fill="#f1f525" fill-opacity="0.8"/>
<path d="M1327.4 404.5L1323.5 406.7L1319.3 408.5L1322.7 414.6L1327.3 420.5L1331.2 418.2L1334.9 415.7L1330.6 410.2z" fill="#3a049a" fill-opacity="0.8"/>
<path d="M1340.2 394.2L1337.5 397L1334.4 399.7L1337.5 405L1341.6 410.1L1344.4 407.1L1347 404L1343.1 399.2z" fill="#7201a8" fill-opacity="0.8"/>
<path d="M1252.7 381.3L1251 378.5L1249.7 375.5L1250.9 385L1254 394.4L1255.2 397.3L1256.9 400L1253.9 390.7z" fill="#9410a2" fill-opacity="0.8"/>
<path d="M1604.9 344.7L1600.4 343.3L1595.8 342.3L1596.4 334.8L1595.6 327.3L1600.1 327.9L1604.5 328.8L1605.5 336.7z" fill="#f5e926" fill-opacity="0.8"/>
<path d="M1586.4 341L1581.6 340.9L1576.9 341L1577.5 334.5L1576.8 327.9L1581.5 327.3L1586.2 327L1587 334z" fill="#f0f921" fill-opacity="0.8"/>
<path d="M1595.8 342.3L1591.1 341.5L1586.4 341L1587 334L1586.2 327L1590.9 327L1595.6 327.3L1596.4 334.8z" fill="#f1f525" fill-opacity="0.8"/>
<path d="M1319.3 408.5L1315 410.1L1310.5 411.5L1314.1 418L1319.1 424.4L1323.3 422.6L1327.3 420.5L1322.7 414.6z" fill="#240691" fill-opacity="0.8"/>
<path d="M1344.5 388.2L1342.5 391.2L1340.2 394.2L1343.1 399.2L1347 404L1349.1 400.8L1351 397.6L1347.2 392.9z" fill="#9410a2" fill-opacity="0.8"/>
<path d="M1336.8 349.1L1339.3 351.7L1341.3 354.4L1342.2 359.3L1344 364.1L1342 361.6L1339.6 359.2L1337.7 354.2z" fill="#fb9f3a" fill-opacity="0.8"/>
<path d="M1612.6 414.6L1615.8 412.8L1618.6 410.8L1622.8 401.8L1625.2 392.7L1622.3 394.9L1619 397L1616.7 405.8z" fill="#5502a4" fill-opacity="0.8"/>
<path d="M1249.7 375.5L1248.9 372.5L1250.1 382L1253.2 391.5L1254 394.4L1250.9 385z" fill="#b22b8f" fill-opacity="0.8"/>
<path d="M1537.3 367.3L1535.7 369.9L1534.5 372.8L1536.9 368.1L1538.4 363.4L1539.6 360.5L1541.3 357.7L1539.8 362.5z" fill="#f0804e" fill-opacity="0.8"/>
<path d="M1310.5 411.5L1305.9 412.6L1301.3 413.4L1305.2 420.3L1310.4 427.1L1314.8 425.9L1319.1 424.4L1314.1 418z" fill="#130789" fill-opacity="0.8"/>
<path d="M1347 381.9L1346 385.1L1344.5 388.2L1347.2 392.9L1351 397.6L1352.4 394.3L1353.4 391L1349.7 386.6z" fill="#b22b8f" fill-opacity="0.8"/>
<path d="M1330.7 344.5L1333.9 346.7L1336.8 349.1L1337.7 354.2L1339.6 359.2L1336.8 357.1L1333.6 355.2L1331.6 349.9z" fill="#febb2b" fill-opacity="0.8"/>
<path d="M1538.3 413.4L1541.3 416.4L1544.7 419.2L1549.7 413.9L1553.7 408.3L1550.1 405.9L1546.7 403.2L1543 408.4z" fill="#5502a4" fill-opacity="0.8"/>
<path d="M1533 407.1L1535.5 410.3L1538.3 413.4L1543 408.4L1546.7 403.2L1543.7 400.4L1541.1 397.5L1537.5 402.4z" fill="#7201a8" fill-opacity="0.8"/>
<path d="M1301.3 413.4L1296.7 413.8L1292.1 414L1296.2 421.5L1301.7 428.7L1306 428.1L1310.4 427.1L1305.2 420.3z" fill="#0d0887" fill-opacity="0.8"/>
<path d="M1544.7 419.2L1548.3 421.9L1552 424.3L1557.4 418.6L1561.6 412.6L1557.5 410.6L1553.7 408.3L1549.7 413.9z" fill="#3a049a" fill-opacity="0.8"/>
<path d="M1347.8 375.7L1347.7 378.8L1347 381.9L1349.7 386.6L1353.4 391L1354 387.8L1354.1 384.7L1350.5 380.3z" fill="#cc4778" fill-opacity="0.8"/>
<path d="M1529.1 400.5L1530.9 403.8L1533 407.1L1537.5 402.4L1541.1 397.5L1538.8 394.5L1536.9 391.4L1533.5 396z" fill="#9410a2" fill-opacity="0.8"/>
<path d="M1618.6 410.8L1621.1 408.6L1623.1 406.1L1627.4 396.9L1629.8 387.6L1627.7 390.2L1625.2 392.7L1622.8 401.8z" fill="#7201a8" fill-opacity="0.8"/>
<path d="M1541.7 362.5L1539.3 364.8L1537.3 367.3L1539.8 362.5L1541.3 357.7L1543.3 355L1545.8 352.5L1544.3 357.6z" fill="#fb9f3a" fill-opacity="0.8"/>
<path d="M1248.6 369.5L1248.7 366.4L1249.3 363.3L1250.5 372.7L1253.6 382.1L1253 385.3L1252.9 388.4L1249.8 379z" fill="#cc4778" fill-opacity="0.8"/>
<path d="M1552 424.3L1556 426.5L1560.1 428.4L1565.8 422.3L1570.3 415.9L1565.9 414.4L1561.6 412.6L1557.4 418.6z" fill="#240691" fill-opacity="0.8"/>
<path d="M1526.8 393.9L1527.8 397.2L1529.1 400.5L1533.5 396L1536.9 391.4L1535.4 388.2L1534.3 385L1531 389.6z" fill="#b22b8f" fill-opacity="0.8"/>
<path d="M1323.2 340.8L1327.1 342.5L1330.7 344.5L1331.6 349.9L1333.6 355.2L1330.1 353.6L1326.3 352.2L1324.2 346.5z" fill="#fbd524" fill-opacity="0.8"/>
<path d="M1292.1 414L1287.6 413.9L1283.1 413.4L1287.4 421.3L1293.3 429L1297.4 429L1301.7 428.7L1296.2 421.5z" fill="#130789" fill-opacity="0.8"/>
<path d="M1346.8 369.7L1347.6 372.6L1347.8 375.7L1350.5 380.3L1354.1 384.7L1353.9 381.6L1353.2 378.7L1349.5 374.3z" fill="#e06363" fill-opacity="0.8"/>
<path d="M1560.1 428.4L1564.2 430.1L1568.5 431.5L1574.6 424.9L1579.3 418L1574.8 417.1L1570.3 415.9L1565.8 422.3z" fill="#130789" fill-opacity="0.8"/>
<path d="M1249.3 363.3L1250.4 360.3L1251.9 357.3L1253.1 366.6L1256.1 375.8L1254.6 379L1253.6 382.1L1250.5 372.7z" fill="#e06363" fill-opacity="0.8"/>
<path d="M1623.1 406.1L1624.8 403.5L1626 400.6L1630.3 391.3L1632.8 381.9L1631.5 384.8L1629.8 387.6L1627.4 396.9z" fill="#9410a2" fill-opacity="0.8"/>
<path d="M1547.6 358.7L1544.5 360.5L1541.7 362.5L1544.3 357.6L1545.8 352.5L1548.7 350.2L1551.9 348.1L1550.3 353.4z" fill="#febb2b" fill-opacity="0.8"/>
<path d="M1526.1 387.5L1526.2 390.7L1526.8 393.9L1531 389.6L1534.3 385L1533.7 381.9L1533.5 378.8L1530.3 383.2z" fill="#cc4778" fill-opacity="0.8"/>
<path d="M1314.8 338.2L1319.1 339.4L1323.2 340.8L1324.2 346.5L1326.3 352.2L1322.3 351.1L1318 350.4L1315.8 344.3z" fill="#f5e926" fill-opacity="0.8"/>
<path d="M1251.9 357.3L1253.8 354.4L1256.2 351.7L1257.4 360.8L1260.4 369.7L1258 372.7L1256.1 375.8L1253.1 366.6z" fill="#f0804e" fill-opacity="0.8"/>
<path d="M1283.1 413.4L1278.9 412.7L1274.9 411.7L1279.4 420L1285.5 428.1L1289.3 428.7L1293.3 429L1287.4 421.3z" fill="#240691" fill-opacity="0.8"/>
<path d="M1626 400.6L1626.8 397.7L1631.1 388.3L1633.6 378.9L1632.8 381.9L1630.3 391.3z" fill="#b22b8f" fill-opacity="0.8"/>
<path d="M1344 364.1L1345.7 366.8L1346.8 369.7L1349.5 374.3L1353.2 378.7L1352.1 376L1350.6 373.4L1346.8 368.8z" fill="#f0804e" fill-opacity="0.8"/>
<path d="M1568.5 431.5L1572.7 432.6L1576.9 433.4L1583.4 426.3L1588.4 419L1583.9 418.7L1579.3 418L1574.6 424.9z" fill="#0d0887" fill-opacity="0.8"/>
<path d="M1305.6 336.7L1310.3 337.3L1314.8 338.2L1315.8 344.3L1318 350.4L1313.6 349.9L1309 349.7L1306.7 343.2z" fill="#f1f525" fill-opacity="0.8"/>
<path d="M1527 381.6L1526.3 384.5L1526.1 387.5L1530.3 383.2L1533.5 378.8L1533.8 375.7L1534.5 372.8L1531.2 377.3z" fill="#e06363" fill-opacity="0.8"/>
<path d="M1554.7 355.9L1551 357.2L1547.6 358.7L1550.3 353.4L1551.9 348.1L1555.5 346.2L1559.3 344.6L1557.6 350.3z" fill="#fbd524" fill-opacity="0.8"/>
<path d="M1256.2 351.7L1258.9 349.1L1262 346.7L1263.2 355.5L1266.2 364.1L1263.1 366.9L1260.4 369.7L1257.4 360.8z" fill="#fb9f3a" fill-opacity="0.8"/>
<path d="M1347 404L1344.4 407.1L1341.6 410.1L1346.6 415L1352.7 419.7L1355.2 416.4L1357.5 413L1351.8 408.6z" fill="#7201a8" fill-opacity="0.8"/>
<path d="M1296.1 336.4L1300.9 336.4L1305.6 336.7L1306.7 343.2L1309 349.7L1304.4 349.9L1299.7 350.3L1297.2 343.4z" fill="#f0f921" fill-opacity="0.8"/>
<path d="M1341.6 410.1L1338.4 413L1334.9 415.7L1340.3 420.9L1346.7 425.9L1349.8 422.9L1352.7 419.7L1346.6 415z" fill="#5502a4" fill-opacity="0.8"/>
<path d="M1351 397.6L1349.1 400.8L1347 404L1351.8 408.6L1357.5 413L1359.4 409.6L1361 406.2L1355.6 402z" fill="#9410a2" fill-opacity="0.8"/>
<path d="M1262 346.7L1265.5 344.5L1269.3 342.6L1270.5 350.9L1273.3 359.2L1269.6 361.6L1266.2 364.1L1263.2 355.5z" fill="#febb2b" fill-opacity="0.8"/>
<path d="M1286.7 337.3L1291.4 336.7L1296.1 336.4L1297.2 343.4L1299.7 350.3L1295 351.1L1290.4 352.2L1287.8 344.8z" fill="#f1f525" fill-opacity="0.8"/>
<path d="M1576.9 433.4L1581 433.8L1585.1 434L1591.9 426.5L1597.2 418.7L1592.9 419L1588.4 419L1583.4 426.3z" fill="#130789" fill-opacity="0.8"/>
<path d="M1274.9 411.7L1271.1 410.4L1267.6 408.8L1272.2 417.4L1278.6 425.8L1281.9 427.1L1285.5 428.1L1279.4 420z" fill="#3a049a" fill-opacity="0.8"/>
<path d="M1269.3 342.6L1273.3 340.8L1277.6 339.4L1278.7 347.3L1281.5 355.2L1277.3 357.1L1273.3 359.2L1270.5 350.9z" fill="#fbd524" fill-opacity="0.8"/>
<path d="M1627.1 394.6L1627 391.5L1626.4 388.3L1630.7 379L1633.2 369.6L1633.8 372.7L1633.9 375.8L1631.4 385.3z" fill="#cc4778" fill-opacity="0.8"/>
<path d="M1277.6 339.4L1282.1 338.2L1286.7 337.3L1287.8 344.8L1290.4 352.2L1285.9 353.5L1281.5 355.2L1278.7 347.3z" fill="#f5e926" fill-opacity="0.8"/>
<path d="M1339.6 359.2L1342 361.6L1344 364.1L1346.8 368.8L1350.6 373.4L1348.7 371.1L1346.4 368.9L1342.5 364.2z" fill="#fb9f3a" fill-opacity="0.8"/>
<path d="M1334.9 415.7L1331.2 418.2L1327.3 420.5L1333.1 426.1L1339.9 431.5L1343.4 428.8L1346.7 425.9L1340.3 420.9z" fill="#3a049a" fill-opacity="0.8"/>
<path d="M1353.4 391L1352.4 394.3L1351 397.6L1355.6 402L1361 406.2L1362.3 402.8L1363.2 399.4L1357.9 395.3z" fill="#b22b8f" fill-opacity="0.8"/>
<path d="M1562.9 354.4L1558.7 355L1554.7 355.9L1557.6 350.3L1559.3 344.6L1563.4 343.3L1567.8 342.3L1565.9 348.4z" fill="#f5e926" fill-opacity="0.8"/>
<path d="M1529.5 376.4L1528.1 378.9L1527 381.6L1531.2 377.3L1534.5 372.8L1535.7 369.9L1537.3 367.3L1533.9 371.9z" fill="#f0804e" fill-opacity="0.8"/>
<path d="M1327.3 420.5L1323.3 422.6L1319.1 424.4L1325.2 430.4L1332.5 436.2L1336.3 433.9L1339.9 431.5L1333.1 426.1z" fill="#240691" fill-opacity="0.8"/>
<path d="M1354.1 384.7L1354 387.8L1353.4 391L1357.9 395.3L1363.2 399.4L1363.7 396.1L1363.9 392.9L1358.6 388.9z" fill="#cc4778" fill-opacity="0.8"/>
<path d="M1626.4 388.3L1625.4 385.1L1623.9 381.9L1628.2 372.8L1630.6 363.5L1632.1 366.5L1633.2 369.6L1630.7 379z" fill="#e06363" fill-opacity="0.8"/>
<path d="M1571.7 354L1567.2 354L1562.9 354.4L1565.9 348.4L1567.8 342.3L1572.3 341.5L1576.9 341L1575 347.6z" fill="#f1f525" fill-opacity="0.8"/>
<path d="M1585.1 434L1589 433.8L1592.7 433.3L1599.8 425.4L1605.4 417.2L1601.4 418.1L1597.2 418.7L1591.9 426.5z" fill="#240691" fill-opacity="0.8"/>
<path d="M1267.6 408.8L1264.4 406.9L1261.5 404.8L1266.3 413.8L1272.8 422.5L1275.5 424.3L1278.6 425.8L1272.2 417.4z" fill="#5502a4" fill-opacity="0.8"/>
<path d="M1333.6 355.2L1336.8 357.1L1339.6 359.2L1342.5 364.2L1346.4 368.9L1343.7 367.1L1340.7 365.5L1336.6 360.4z" fill="#febb2b" fill-opacity="0.8"/>
<path d="M1533.6 372L1531.4 374.1L1529.5 376.4L1533.9 371.9L1537.3 367.3L1539.3 364.8L1541.7 362.5L1538.1 367.4z" fill="#fb9f3a" fill-opacity="0.8"/>
<path d="M1623.9 381.9L1622 378.7L1619.7 375.7L1623.9 366.8L1626.3 357.7L1628.7 360.6L1630.6 363.5L1628.2 372.8z" fill="#f0804e" fill-opacity="0.8"/>
<path d="M1580.9 354.9L1576.3 354.3L1571.7 354L1575 347.6L1576.9 341L1581.6 340.9L1586.4 341L1584.4 348z" fill="#f0f921" fill-opacity="0.8"/>
<path d="M1319.1 424.4L1314.8 425.9L1310.4 427.1L1317 433.6L1324.8 439.8L1328.7 438.1L1332.5 436.2L1325.2 430.4z" fill="#130789" fill-opacity="0.8"/>
<path d="M1353.2 378.7L1353.9 381.6L1354.1 384.7L1358.6 388.9L1363.9 392.9L1363.6 389.9L1363 387L1357.7 383z" fill="#e06363" fill-opacity="0.8"/>
<path d="M1521.3 415.8L1523.5 419.2L1525.9 422.6L1532.5 418.2L1529.9 414.9L1527.6 411.6z" fill="#7201a8" fill-opacity="0.8"/>
<path d="M1517.9 408.8L1519.5 412.3L1521.3 415.8L1527.6 411.6L1525.6 408.2L1524 404.8z" fill="#9410a2" fill-opacity="0.8"/>
<path d="M1619.7 375.7L1617 372.7L1614 369.8L1618.1 361.3L1620.4 352.6L1623.6 355.1L1626.3 357.7L1623.9 366.8z" fill="#fb9f3a" fill-opacity="0.8"/>
<path d="M1590.1 357.1L1585.5 355.8L1580.9 354.9L1584.4 348L1586.4 341L1591.1 341.5L1595.8 342.3L1593.7 349.7z" fill="#f1f525" fill-opacity="0.8"/>
<path d="M1525.9 422.6L1528.6 425.9L1531.5 429L1538.6 424.3L1535.4 421.3L1532.5 418.2z" fill="#5502a4" fill-opacity="0.8"/>
<path d="M1515.9 401.9L1516.7 405.3L1517.9 408.8L1524 404.8L1522.7 401.4L1521.7 398.1z" fill="#b22b8f" fill-opacity="0.8"/>
<path d="M1614 369.8L1610.6 367.2L1607 364.7L1610.9 356.5L1613.2 348.1L1617 350.2L1620.4 352.6L1618.1 361.3z" fill="#febb2b" fill-opacity="0.8"/>
<path d="M1598.9 360.4L1594.6 358.6L1590.1 357.1L1593.7 349.7L1595.8 342.3L1600.4 343.3L1604.9 344.7L1602.7 352.6z" fill="#f5e926" fill-opacity="0.8"/>
<path d="M1261.5 404.8L1259 402.5L1256.9 400L1261.8 409.1L1268.5 418L1270.5 420.4L1272.8 422.5L1266.3 413.8z" fill="#7201a8" fill-opacity="0.8"/>
<path d="M1592.7 433.3L1596.1 432.4L1599.4 431.3L1606.8 423.1L1612.6 414.6L1609.1 416L1605.4 417.2L1599.8 425.4z" fill="#3a049a" fill-opacity="0.8"/>
<path d="M1326.3 352.2L1330.1 353.6L1333.6 355.2L1336.6 360.4L1340.7 365.5L1337.5 364.2L1333.9 363.2L1329.6 357.8z" fill="#fbd524" fill-opacity="0.8"/>
<path d="M1607 364.7L1603 362.4L1598.9 360.4L1602.7 352.6L1604.9 344.7L1609.2 346.3L1613.2 348.1L1610.9 356.5z" fill="#fbd524" fill-opacity="0.8"/>
<path d="M1531.5 429L1534.7 432L1538 434.8L1545.5 429.7L1542 427.1L1538.6 424.3z" fill="#3a049a" fill-opacity="0.8"/>
<path d="M1539 368.7L1536.2 370.2L1533.6 372L1538.1 367.4L1541.7 362.5L1544.5 360.5L1547.6 358.7L1543.8 363.8z" fill="#febb2b" fill-opacity="0.8"/>
<path d="M1310.4 427.1L1306 428.1L1301.7 428.7L1308.7 435.7L1317 442.2L1320.9 441.2L1324.8 439.8L1317 433.6z" fill="#0d0887" fill-opacity="0.8"/>
<path d="M1350.6 373.4L1352.1 376L1353.2 378.7L1357.7 383L1363 387L1362 384.4L1360.7 382L1355.2 377.8z" fill="#f0804e" fill-opacity="0.8"/>
<path d="M1515.2 395.5L1515.4 398.6L1515.9 401.9L1521.7 398.1L1521.2 394.8L1521.1 391.6z" fill="#cc4778" fill-opacity="0.8"/>
<path d="M1361 406.2L1359.4 409.6L1357.5 413L1364 417.1L1371.4 420.8L1373 417.2L1374.4 413.6L1367.3 410.1z" fill="#9410a2" fill-opacity="0.8"/>
<path d="M1357.5 413L1355.2 416.4L1352.7 419.7L1359.6 424L1367.3 428L1369.5 424.4L1371.4 420.8L1364 417.1z" fill="#7201a8" fill-opacity="0.8"/>
<path d="M1256.9 400L1255.2 397.3L1254 394.4L1258.9 403.7L1265.7 412.7L1266.9 415.5L1268.5 418L1261.8 409.1z" fill="#9410a2" fill-opacity="0.8"/>
<path d="M1363.2 399.4L1362.3 402.8L1361 406.2L1367.3 410.1L1374.4 413.6L1375.4 410.1L1376.2 406.6L1369.3 403.2z" fill="#b22b8f" fill-opacity="0.8"/>
<path d="M1318 350.4L1322.3 351.1L1326.3 352.2L1329.6 357.8L1333.9 363.2L1330.1 362.5L1326.1 362.1L1321.5 356.3z" fill="#f5e926" fill-opacity="0.8"/>
<path d="M1538 434.8L1541.5 437.4L1545 439.8L1553.1 434.3L1549.3 432.1L1545.5 429.7z" fill="#240691" fill-opacity="0.8"/>
<path d="M1599.4 431.3L1602.3 429.8L1604.9 428.1L1612.6 419.6L1618.6 410.8L1615.8 412.8L1612.6 414.6L1606.8 423.1z" fill="#5502a4" fill-opacity="0.8"/>
<path d="M1352.7 419.7L1349.8 422.9L1346.7 425.9L1354.1 430.5L1362.4 434.8L1365 431.4L1367.3 428L1359.6 424z" fill="#5502a4" fill-opacity="0.8"/>
<path d="M1516 389.6L1515.5 392.4L1515.2 395.5L1521.1 391.6L1521.3 388.6L1521.9 385.7z" fill="#e06363" fill-opacity="0.8"/>
<path d="M1545.7 366.6L1542.2 367.5L1539 368.7L1543.8 363.8L1547.6 358.7L1551 357.2L1554.7 355.9L1550.7 361.4z" fill="#fbd524" fill-opacity="0.8"/>
<path d="M1301.7 428.7L1297.4 429L1293.3 429L1300.6 436.4L1309.4 443.4L1313.1 443L1317 442.2L1308.7 435.7z" fill="#130789" fill-opacity="0.8"/>
<path d="M1346.4 368.9L1348.7 371.1L1350.6 373.4L1355.2 377.8L1360.7 382L1359 379.8L1357 377.8L1351.2 373.5z" fill="#fb9f3a" fill-opacity="0.8"/>
<path d="M1363.9 392.9L1363.7 396.1L1363.2 399.4L1369.3 403.2L1376.2 406.6L1376.6 403.3L1376.8 400.1L1370 396.7z" fill="#cc4778" fill-opacity="0.8"/>
<path d="M1254 394.4L1253.2 391.5L1258.2 400.8L1265 409.8L1265.7 412.7L1258.9 403.7z" fill="#b22b8f" fill-opacity="0.8"/>
<path d="M1503.6 415.8L1504.9 419.4L1506.4 423.1L1514.2 419.6L1521.3 415.8L1519.5 412.3L1517.9 408.8L1511.1 412.5z" fill="#9410a2" fill-opacity="0.8"/>
<path d="M1346.7 425.9L1343.4 428.8L1339.9 431.5L1347.8 436.5L1356.7 441L1359.6 438L1362.4 434.8L1354.1 430.5z" fill="#3a049a" fill-opacity="0.8"/>
<path d="M1506.4 423.1L1508.1 426.8L1510.1 430.4L1518.4 426.7L1525.9 422.6L1523.5 419.2L1521.3 415.8L1514.2 419.6z" fill="#7201a8" fill-opacity="0.8"/>
<path d="M1501.9 408.7L1502.6 412.2L1503.6 415.8L1511.1 412.5L1517.9 408.8L1516.7 405.3L1515.9 401.9L1509.3 405.5z" fill="#b22b8f" fill-opacity="0.8"/>
<path d="M1309 349.7L1313.6 349.9L1318 350.4L1321.5 356.3L1326.1 362.1L1322 362L1317.7 362.3L1312.7 356.1z" fill="#f1f525" fill-opacity="0.8"/>
<path d="M1545 439.8L1548.7 441.9L1552.4 443.7L1561 437.8L1557.1 436.2L1553.1 434.3z" fill="#130789" fill-opacity="0.8"/>
<path d="M1510.1 430.4L1512.3 433.9L1514.7 437.4L1523.6 433.4L1531.5 429L1528.6 425.9L1525.9 422.6L1518.4 426.7z" fill="#5502a4" fill-opacity="0.8"/>
<path d="M1604.9 428.1L1607.2 426.1L1609.1 423.8L1617 415.1L1623.1 406.1L1621.1 408.6L1618.6 410.8L1612.6 419.6z" fill="#7201a8" fill-opacity="0.8"/>
<path d="M1518.3 384.6L1517 387L1516 389.6L1521.9 385.7L1522.9 383.1L1524.3 380.6z" fill="#f0804e" fill-opacity="0.8"/>
<path d="M1363 387L1363.6 389.9L1363.9 392.9L1370 396.7L1376.8 400.1L1376.6 397.1L1376 394.2L1369.2 390.8z" fill="#e06363" fill-opacity="0.8"/>
<path d="M1501.4 402.2L1501.5 405.4L1501.9 408.7L1509.3 405.5L1515.9 401.9L1515.4 398.6L1515.2 395.5L1508.7 399z" fill="#cc4778" fill-opacity="0.8"/>
<path d="M1553.2 365.8L1549.3 366.1L1545.7 366.6L1550.7 361.4L1554.7 355.9L1558.7 355L1562.9 354.4L1558.6 360.2z" fill="#f5e926" fill-opacity="0.8"/>
<path d="M1339.9 431.5L1336.3 433.9L1332.5 436.2L1341 441.5L1350.5 446.4L1353.6 443.8L1356.7 441L1347.8 436.5z" fill="#240691" fill-opacity="0.8"/>
<path d="M1252.9 388.4L1253 385.3L1253.6 382.1L1258.5 391.3L1265.3 400.3L1264.8 403.6L1264.7 406.7L1257.8 397.7z" fill="#cc4778" fill-opacity="0.8"/>
<path d="M1293.3 429L1289.3 428.7L1285.5 428.1L1293.2 435.8L1302.4 443.2L1305.8 443.4L1309.4 443.4L1300.6 436.4z" fill="#240691" fill-opacity="0.8"/>
<path d="M1340.7 365.5L1343.7 367.1L1346.4 368.9L1351.2 373.5L1357 377.8L1354.6 376.2L1351.9 374.9L1345.9 370.3z" fill="#febb2b" fill-opacity="0.8"/>
<path d="M1299.7 350.3L1304.4 349.9L1309 349.7L1312.7 356.1L1317.7 362.3L1313.3 362.9L1308.9 363.8L1303.6 357.2z" fill="#f0f921" fill-opacity="0.8"/>
<path d="M1514.7 437.4L1517.3 440.7L1520 443.8L1529.5 439.6L1538 434.8L1534.7 432L1531.5 429L1523.6 433.4z" fill="#3a049a" fill-opacity="0.8"/>
<path d="M1552.4 443.7L1556.1 445.2L1559.8 446.4L1569 440.1L1565.1 439.1L1561 437.8z" fill="#0d0887" fill-opacity="0.8"/>
<path d="M1609.1 423.8L1610.7 421.3L1611.8 418.5L1619.8 409.8L1626 400.6L1624.8 403.5L1623.1 406.1L1617 415.1z" fill="#9410a2" fill-opacity="0.8"/>
<path d="M1502.1 396.3L1501.6 399.1L1501.4 402.2L1508.7 399L1515.2 395.5L1515.5 392.4L1516 389.6L1509.4 393.1z" fill="#e06363" fill-opacity="0.8"/>
<path d="M1253.6 382.1L1254.6 379L1256.1 375.8L1261 384.9L1267.7 393.7L1266.3 397L1265.3 400.3L1258.5 391.3z" fill="#e06363" fill-opacity="0.8"/>
<path d="M1374.4 413.6L1373 417.2L1371.4 420.8L1379.5 424.2L1388.2 427.1L1389.4 423.3L1390.5 419.6L1382.1 416.8z" fill="#9410a2" fill-opacity="0.8"/>
<path d="M1290.4 352.2L1295 351.1L1299.7 350.3L1303.6 357.2L1308.9 363.8L1304.5 365L1300.1 366.6L1294.5 359.5z" fill="#f1f525" fill-opacity="0.8"/>
<path d="M1360.7 382L1362 384.4L1363 387L1369.2 390.8L1376 394.2L1375.2 391.7L1374.1 389.3L1367 385.8z" fill="#f0804e" fill-opacity="0.8"/>
<path d="M1521.8 380.6L1519.9 382.4L1518.3 384.6L1524.3 380.6L1526.1 378.4L1528.1 376.4z" fill="#fb9f3a" fill-opacity="0.8"/>
<path d="M1561.4 366.3L1557.2 365.9L1553.2 365.8L1558.6 360.2L1562.9 354.4L1567.2 354L1571.7 354L1567.2 360.3z" fill="#f1f525" fill-opacity="0.8"/>
<path d="M1371.4 420.8L1369.5 424.4L1367.3 428L1375.9 431.5L1385.1 434.6L1386.7 430.9L1388.2 427.1L1379.5 424.2z" fill="#7201a8" fill-opacity="0.8"/>
<path d="M1376.2 406.6L1375.4 410.1L1374.4 413.6L1382.1 416.8L1390.5 419.6L1391.3 416L1391.8 412.4L1383.7 409.7z" fill="#b22b8f" fill-opacity="0.8"/>
<path d="M1332.5 436.2L1328.7 438.1L1324.8 439.8L1333.8 445.5L1343.9 450.8L1347.2 448.8L1350.5 446.4L1341 441.5z" fill="#130789" fill-opacity="0.8"/>
<path d="M1520 443.8L1522.8 446.7L1525.8 449.4L1535.9 444.9L1545 439.8L1541.5 437.4L1538 434.8L1529.5 439.6z" fill="#240691" fill-opacity="0.8"/>
<path d="M1256.1 375.8L1258 372.7L1260.4 369.7L1265.2 378.6L1271.7 387.2L1269.5 390.4L1267.7 393.7L1261 384.9z" fill="#f0804e" fill-opacity="0.8"/>
<path d="M1281.5 355.2L1285.9 353.5L1290.4 352.2L1294.5 359.5L1300.1 366.6L1295.9 368.4L1291.7 370.4L1285.8 362.9z" fill="#f5e926" fill-opacity="0.8"/>
<path d="M1611.8 418.5L1612.5 415.6L1620.6 406.8L1626.8 397.7L1626 400.6L1619.8 409.8z" fill="#b22b8f" fill-opacity="0.8"/>
<path d="M1285.5 428.1L1281.9 427.1L1278.6 425.8L1286.6 433.9L1296.2 441.6L1299.2 442.5L1302.4 443.2L1293.2 435.8z" fill="#3a049a" fill-opacity="0.8"/>
<path d="M1333.9 363.2L1337.5 364.2L1340.7 365.5L1345.9 370.3L1351.9 374.9L1349 373.9L1345.8 373.2L1339.4 368.3z" fill="#fbd524" fill-opacity="0.8"/>
<path d="M1367.3 428L1365 431.4L1362.4 434.8L1371.5 438.6L1381.3 441.9L1383.3 438.3L1385.1 434.6L1375.9 431.5z" fill="#5502a4" fill-opacity="0.8"/>
<path d="M1376.8 400.1L1376.6 403.3L1376.2 406.6L1383.7 409.7L1391.8 412.4L1392.2 409L1392.3 405.8L1384.2 403.1z" fill="#cc4778" fill-opacity="0.8"/>
<path d="M1486.8 421.2L1487.7 425L1488.8 428.8L1497.9 426.2L1506.4 423.1L1504.9 419.4L1503.6 415.8L1495.5 418.7z" fill="#9410a2" fill-opacity="0.8"/>
<path d="M1260.4 369.7L1263.1 366.9L1266.2 364.1L1270.8 372.7L1277.2 381L1274.3 384L1271.7 387.2L1265.2 378.6z" fill="#fb9f3a" fill-opacity="0.8"/>
<path d="M1273.3 359.2L1277.3 357.1L1281.5 355.2L1285.8 362.9L1291.7 370.4L1287.7 372.8L1284 375.3L1277.8 367.4z" fill="#fbd524" fill-opacity="0.8"/>
<path d="M1485.5 414L1486.1 417.6L1486.8 421.2L1495.5 418.7L1503.6 415.8L1502.6 412.2L1501.9 408.7L1494 411.6z" fill="#b22b8f" fill-opacity="0.8"/>
<path d="M1266.2 364.1L1269.6 361.6L1273.3 359.2L1277.8 367.4L1284 375.3L1280.5 378L1277.2 381L1270.8 372.7z" fill="#febb2b" fill-opacity="0.8"/>
<path d="M1488.8 428.8L1490.1 432.6L1491.5 436.5L1501.1 433.7L1510.1 430.4L1508.1 426.8L1506.4 423.1L1497.9 426.2z" fill="#7201a8" fill-opacity="0.8"/>
<path d="M1503.9 391.5L1502.8 393.8L1502.1 396.3L1509.4 393.1L1516 389.6L1517 387L1518.3 384.6L1511.4 388.2z" fill="#f0804e" fill-opacity="0.8"/>
<path d="M1569.9 368.1L1565.6 367L1561.4 366.3L1567.2 360.3L1571.7 354L1576.3 354.3L1580.9 354.9L1576.1 361.6z" fill="#f0f921" fill-opacity="0.8"/>
<path d="M1559.8 446.4L1563.5 447.2L1567 447.8L1576.7 441.1L1572.9 440.8L1569 440.1z" fill="#130789" fill-opacity="0.8"/>
<path d="M1357 377.8L1359 379.8L1360.7 382L1367 385.8L1374.1 389.3L1372.7 387.3L1371 385.6L1363.6 381.9z" fill="#fb9f3a" fill-opacity="0.8"/>
<path d="M1485.2 407.4L1485.2 410.6L1485.5 414L1494 411.6L1501.9 408.7L1501.5 405.4L1501.4 402.2L1493.6 405z" fill="#cc4778" fill-opacity="0.8"/>
<path d="M1526.6 377.8L1524.1 379L1521.8 380.6L1528.1 376.4L1530.6 374.8L1533.3 373.4z" fill="#febb2b" fill-opacity="0.8"/>
<path d="M1362.4 434.8L1359.6 438L1356.7 441L1366.4 445.1L1376.9 448.7L1379.2 445.4L1381.3 441.9L1371.5 438.6z" fill="#3a049a" fill-opacity="0.8"/>
<path d="M1376 394.2L1376.6 397.1L1376.8 400.1L1384.2 403.1L1392.3 405.8L1392.1 402.8L1391.7 400L1383.6 397.3z" fill="#e06363" fill-opacity="0.8"/>
<path d="M1491.5 436.5L1493.1 440.2L1494.9 443.9L1505.1 440.9L1514.7 437.4L1512.3 433.9L1510.1 430.4L1501.1 433.7z" fill="#5502a4" fill-opacity="0.8"/>
<path d="M1324.8 439.8L1320.9 441.2L1317 442.2L1326.6 448.4L1337.4 454L1340.7 452.6L1343.9 450.8L1333.8 445.5z" fill="#0d0887" fill-opacity="0.8"/>
<path d="M1525.8 449.4L1528.8 451.9L1531.8 454L1542.6 449.1L1552.4 443.7L1548.7 441.9L1545 439.8L1535.9 444.9z" fill="#130789" fill-opacity="0.8"/>
<path d="M1612.9 412.6L1612.7 409.4L1612.2 406.1L1620.2 397.4L1626.4 388.3L1627 391.5L1627.1 394.6L1620.9 403.8z" fill="#cc4778" fill-opacity="0.8"/>
<path d="M1578.4 371.1L1574.2 369.5L1569.9 368.1L1576.1 361.6L1580.9 354.9L1585.5 355.8L1590.1 357.1L1585 364.2z" fill="#f1f525" fill-opacity="0.8"/>
<path d="M1278.6 425.8L1275.5 424.3L1272.8 422.5L1281.1 430.8L1291 438.7L1293.5 440.3L1296.2 441.6L1286.6 433.9z" fill="#5502a4" fill-opacity="0.8"/>
<path d="M1326.1 362.1L1330.1 362.5L1333.9 363.2L1339.4 368.3L1345.8 373.2L1342.4 372.9L1338.9 372.9L1331.9 367.6z" fill="#f5e926" fill-opacity="0.8"/>
<path d="M1390.5 419.6L1389.4 423.3L1388.2 427.1L1397.4 429.6L1407.2 431.6L1408 427.7L1408.6 423.9L1399.3 422z" fill="#9410a2" fill-opacity="0.8"/>
<path d="M1391.8 412.4L1391.3 416L1390.5 419.6L1399.3 422L1408.6 423.9L1409.1 420.2L1409.5 416.6L1400.5 414.7z" fill="#b22b8f" fill-opacity="0.8"/>
<path d="M1485.6 401.6L1485.3 404.4L1485.2 407.4L1493.6 405L1501.4 402.2L1501.6 399.1L1502.1 396.3L1494.1 399.2z" fill="#e06363" fill-opacity="0.8"/>
<path d="M1506.8 387.8L1505.2 389.5L1503.9 391.5L1511.4 388.2L1518.3 384.6L1519.9 382.4L1521.8 380.6L1514.7 384.4z" fill="#fb9f3a" fill-opacity="0.8"/>
<path d="M1388.2 427.1L1386.7 430.9L1385.1 434.6L1394.9 437.3L1405.2 439.4L1406.2 435.5L1407.2 431.6L1397.4 429.6z" fill="#7201a8" fill-opacity="0.8"/>
<path d="M1612.2 406.1L1611.2 402.8L1609.9 399.4L1617.8 390.8L1623.9 381.9L1625.4 385.1L1626.4 388.3L1620.2 397.4z" fill="#e06363" fill-opacity="0.8"/>
<path d="M1494.9 443.9L1496.8 447.4L1498.7 450.8L1509.7 447.6L1520 443.8L1517.3 440.7L1514.7 437.4L1505.1 440.9z" fill="#3a049a" fill-opacity="0.8"/>
<path d="M1586.6 375.3L1582.6 373.1L1578.4 371.1L1585 364.2L1590.1 357.1L1594.6 358.6L1598.9 360.4L1593.5 368z" fill="#f5e926" fill-opacity="0.8"/>
<path d="M1567 447.8L1570.5 448L1573.7 447.8L1583.9 440.8L1580.4 441.1L1576.7 441.1z" fill="#240691" fill-opacity="0.8"/>
<path d="M1468.1 424.9L1468.6 428.7L1469.2 432.6L1479.2 431L1488.8 428.8L1487.7 425L1486.8 421.2L1477.6 423.3z" fill="#9410a2" fill-opacity="0.8"/>
<path d="M1392.3 405.8L1392.2 409L1391.8 412.4L1400.5 414.7L1409.5 416.6L1409.7 413.1L1409.8 409.9L1400.8 408.1z" fill="#cc4778" fill-opacity="0.8"/>
<path d="M1356.7 441L1353.6 443.8L1350.5 446.4L1360.9 450.8L1372.2 454.7L1374.6 451.8L1376.9 448.7L1366.4 445.1z" fill="#240691" fill-opacity="0.8"/>
<path d="M1374.1 389.3L1375.2 391.7L1376 394.2L1383.6 397.3L1391.7 400L1391.1 397.5L1390.2 395.3L1381.9 392.5z" fill="#f0804e" fill-opacity="0.8"/>
<path d="M1467.3 417.5L1467.6 421.1L1468.1 424.9L1477.6 423.3L1486.8 421.2L1486.1 417.6L1485.5 414L1476.6 416z" fill="#b22b8f" fill-opacity="0.8"/>
<path d="M1351.9 374.9L1354.6 376.2L1357 377.8L1363.6 381.9L1371 385.6L1369 384.1L1366.7 383.1L1358.9 379.2z" fill="#febb2b" fill-opacity="0.8"/>
<path d="M1609.9 399.4L1608.1 396.1L1606 392.7L1613.7 384.3L1619.7 375.7L1622 378.7L1623.9 381.9L1617.8 390.8z" fill="#f0804e" fill-opacity="0.8"/>
<path d="M1532.4 376.3L1529.4 376.9L1526.6 377.8L1533.3 373.4L1536.3 372.3L1539.5 371.6z" fill="#fbd524" fill-opacity="0.8"/>
<path d="M1469.2 432.6L1470 436.6L1470.9 440.5L1481.4 438.7L1491.5 436.5L1490.1 432.6L1488.8 428.8L1479.2 431z" fill="#7201a8" fill-opacity="0.8"/>
<path d="M1594.1 380.4L1590.4 377.7L1586.6 375.3L1593.5 368L1598.9 360.4L1603 362.4L1607 364.7L1601.3 372.7z" fill="#fbd524" fill-opacity="0.8"/>
<path d="M1385.1 434.6L1383.3 438.3L1381.3 441.9L1391.7 444.8L1402.7 447L1404 443.3L1405.2 439.4L1394.9 437.3z" fill="#5502a4" fill-opacity="0.8"/>
<path d="M1531.8 454L1534.8 455.9L1537.9 457.5L1549.4 452.2L1559.8 446.4L1556.1 445.2L1552.4 443.7L1542.6 449.1z" fill="#0d0887" fill-opacity="0.8"/>
<path d="M1606 392.7L1603.5 389.5L1600.6 386.3L1608.2 378.2L1614 369.8L1617 372.7L1619.7 375.7L1613.7 384.3z" fill="#fb9f3a" fill-opacity="0.8"/>
<path d="M1317 442.2L1313.1 443L1309.4 443.4L1319.6 449.9L1331 455.9L1334.2 455.1L1337.4 454L1326.6 448.4z" fill="#130789" fill-opacity="0.8"/>
<path d="M1600.6 386.3L1597.5 383.3L1594.1 380.4L1601.3 372.7L1607 364.7L1610.6 367.2L1614 369.8L1608.2 378.2z" fill="#febb2b" fill-opacity="0.8"/>
<path d="M1467.1 410.9L1467.2 414.1L1467.3 417.5L1476.6 416L1485.5 414L1485.2 410.6L1485.2 407.4L1476.3 409.3z" fill="#cc4778" fill-opacity="0.8"/>
<path d="M1272.8 422.5L1270.5 420.4L1268.5 418L1277 426.6L1287.1 434.7L1288.9 436.9L1291 438.7L1281.1 430.8z" fill="#7201a8" fill-opacity="0.8"/>
<path d="M1317.7 362.3L1322 362L1326.1 362.1L1331.9 367.6L1338.9 372.9L1335.1 373.2L1331.3 373.9L1323.9 368.2z" fill="#f1f525" fill-opacity="0.8"/>
<path d="M1408.6 423.9L1408 427.7L1407.2 431.6L1417.2 433.1L1427.6 434.1L1427.9 430.1L1428.2 426.2L1418.3 425.3z" fill="#9410a2" fill-opacity="0.8"/>
<path d="M1487 396.9L1486.2 399.1L1485.6 401.6L1494.1 399.2L1502.1 396.3L1502.8 393.8L1503.9 391.5L1495.7 394.4z" fill="#f0804e" fill-opacity="0.8"/>
<path d="M1409.5 416.6L1409.1 420.2L1408.6 423.9L1418.3 425.3L1428.2 426.2L1428.4 422.5L1428.5 418.8L1418.9 417.9z" fill="#b22b8f" fill-opacity="0.8"/>
<path d="M1391.7 400L1392.1 402.8L1392.3 405.8L1400.8 408.1L1409.8 409.9L1409.7 406.9L1409.4 404.1L1400.4 402.3z" fill="#e06363" fill-opacity="0.8"/>
<path d="M1470.9 440.5L1471.8 444.4L1472.8 448.2L1484.1 446.3L1494.9 443.9L1493.1 440.2L1491.5 436.5L1481.4 438.7z" fill="#5502a4" fill-opacity="0.8"/>
<path d="M1498.7 450.8L1500.8 454L1503 457L1514.7 453.5L1525.8 449.4L1522.8 446.7L1520 443.8L1509.7 447.6z" fill="#240691" fill-opacity="0.8"/>
<path d="M1448.2 426.6L1448.4 430.5L1448.5 434.4L1459 433.8L1469.2 432.6L1468.6 428.7L1468.1 424.9L1458.2 426z" fill="#9410a2" fill-opacity="0.8"/>
<path d="M1448.1 419.2L1448.1 422.8L1448.2 426.6L1458.2 426L1468.1 424.9L1467.6 421.1L1467.3 417.5L1457.8 418.6z" fill="#b22b8f" fill-opacity="0.8"/>
<path d="M1407.2 431.6L1406.2 435.5L1405.2 439.4L1415.8 441L1426.7 442L1427.2 438L1427.6 434.1L1417.2 433.1z" fill="#7201a8" fill-opacity="0.8"/>
<path d="M1510.7 385.4L1508.6 386.5L1506.8 387.8L1514.7 384.4L1521.8 380.6L1524.1 379L1526.6 377.8L1519 381.8z" fill="#febb2b" fill-opacity="0.8"/>
<path d="M1409.8 409.9L1409.7 413.1L1409.5 416.6L1418.9 417.9L1428.5 418.8L1428.6 415.4L1428.6 412.2L1419.1 411.3z" fill="#cc4778" fill-opacity="0.8"/>
<path d="M1428.2 426.2L1427.9 430.1L1427.6 434.1L1438 434.5L1448.5 434.4L1448.4 430.5L1448.2 426.6L1438.2 426.7z" fill="#9410a2" fill-opacity="0.8"/>
<path d="M1428.5 418.8L1428.4 422.5L1428.2 426.2L1438.2 426.7L1448.2 426.6L1448.1 422.8L1448.1 419.2L1438.3 419.3z" fill="#b22b8f" fill-opacity="0.8"/>
<path d="M1467.4 405.1L1467.2 407.9L1467.1 410.9L1476.3 409.3L1485.2 407.4L1485.3 404.4L1485.6 401.6L1476.7 403.6z" fill="#e06363" fill-opacity="0.8"/>
<path d="M1381.3 441.9L1379.2 445.4L1376.9 448.7L1388.1 451.7L1399.9 454.2L1401.3 450.7L1402.7 447L1391.7 444.8z" fill="#3a049a" fill-opacity="0.8"/>
<path d="M1448.5 434.4L1448.7 438.4L1449 442.4L1460 441.7L1470.9 440.5L1470 436.6L1469.2 432.6L1459 433.8z" fill="#7201a8" fill-opacity="0.8"/>
<path d="M1350.5 446.4L1347.2 448.8L1343.9 450.8L1355.1 455.6L1367.2 459.7L1369.7 457.3L1372.2 454.7L1360.9 450.8z" fill="#130789" fill-opacity="0.8"/>
<path d="M1371 385.6L1372.7 387.3L1374.1 389.3L1381.9 392.5L1390.2 395.3L1389.1 393.4L1387.8 391.8L1379.1 388.9z" fill="#fb9f3a" fill-opacity="0.8"/>
<path d="M1573.7 447.8L1576.8 447.3L1579.6 446.4L1590.3 439.1L1587.2 440.1L1583.9 440.8z" fill="#3a049a" fill-opacity="0.8"/>
<path d="M1448 412.5L1448 415.7L1448.1 419.2L1457.8 418.6L1467.3 417.5L1467.2 414.1L1467.1 410.9L1457.6 411.9z" fill="#cc4778" fill-opacity="0.8"/>
<path d="M1345.8 373.2L1349 373.9L1351.9 374.9L1358.9 379.2L1366.7 383.1L1364.3 382.3L1361.6 381.9L1353.3 377.8z" fill="#fbd524" fill-opacity="0.8"/>
<path d="M1427.6 434.1L1427.2 438L1426.7 442L1437.8 442.5L1449 442.4L1448.7 438.4L1448.5 434.4L1438 434.5z" fill="#7201a8" fill-opacity="0.8"/>
<path d="M1539 376.2L1535.6 376L1532.4 376.3L1539.5 371.6L1543 371.2L1546.6 371.1z" fill="#f5e926" fill-opacity="0.8"/>
<path d="M1268.5 418L1266.9 415.5L1265.7 412.7L1274.3 421.4L1284.7 429.6L1285.7 432.3L1287.1 434.7L1277 426.6z" fill="#9410a2" fill-opacity="0.8"/>
<path d="M1308.9 363.8L1313.3 362.9L1317.7 362.3L1323.9 368.2L1331.3 373.9L1327.4 374.9L1323.4 376.2L1315.5 370.2z" fill="#f0f921" fill-opacity="0.8"/>
<path d="M1428.6 412.2L1428.6 415.4L1428.5 418.8L1438.3 419.3L1448.1 419.2L1448 415.7L1448 412.5L1438.3 412.6z" fill="#cc4778" fill-opacity="0.8"/>
<path d="M1405.2 439.4L1404 443.3L1402.7 447L1414.1 448.7L1425.7 449.8L1426.3 446L1426.7 442L1415.8 441z" fill="#5502a4" fill-opacity="0.8"/>
<path d="M1472.8 448.2L1473.9 451.9L1475.1 455.5L1487.2 453.4L1498.7 450.8L1496.8 447.4L1494.9 443.9L1484.1 446.3z" fill="#3a049a" fill-opacity="0.8"/>
<path d="M1537.9 457.5L1540.9 458.7L1543.8 459.5L1556 453.9L1567 447.8L1563.5 447.2L1559.8 446.4L1549.4 452.2z" fill="#130789" fill-opacity="0.8"/>
<path d="M1390.2 395.3L1391.1 397.5L1391.7 400L1400.4 402.3L1409.4 404.1L1409 401.7L1408.5 399.5L1399.1 397.6z" fill="#f0804e" fill-opacity="0.8"/>
<path d="M1309.4 443.4L1305.8 443.4L1302.4 443.2L1313.1 450L1325.1 456.3L1328 456.3L1331 455.9L1319.6 449.9z" fill="#240691" fill-opacity="0.8"/>
<path d="M1409.4 404.1L1409.7 406.9L1409.8 409.9L1419.1 411.3L1428.6 412.2L1428.6 409.2L1428.5 406.4L1418.8 405.5z" fill="#e06363" fill-opacity="0.8"/>
<path d="M1449 442.4L1449.2 446.4L1449.5 450.2L1461.2 449.5L1472.8 448.2L1471.8 444.4L1470.9 440.5L1460 441.7z" fill="#5502a4" fill-opacity="0.8"/>
<path d="M1489.1 393.5L1487.9 395L1487 396.9L1495.7 394.4L1503.9 391.5L1505.2 389.5L1506.8 387.8L1498.2 390.9z" fill="#fb9f3a" fill-opacity="0.8"/>
<path d="M1448.1 406.7L1448 409.5L1448 412.5L1457.6 411.9L1467.1 410.9L1467.2 407.9L1467.4 405.1L1457.8 406.2z" fill="#e06363" fill-opacity="0.8"/>
<path d="M1426.7 442L1426.3 446L1425.7 449.8L1437.6 450.3L1449.5 450.2L1449.2 446.4L1449 442.4L1437.8 442.5z" fill="#5502a4" fill-opacity="0.8"/>
<path d="M1503 457L1505.2 459.7L1507.4 462.1L1520 458.4L1531.8 454L1528.8 451.9L1525.8 449.4L1514.7 453.5z" fill="#130789" fill-opacity="0.8"/>
<path d="M1468.2 400.5L1467.7 402.7L1467.4 405.1L1476.7 403.6L1485.6 401.6L1486.2 399.1L1487 396.9L1477.8 398.9z" fill="#f0804e" fill-opacity="0.8"/>
<path d="M1265.7 412.7L1265 409.8L1273.6 418.5L1284 426.7L1284.7 429.6L1274.3 421.4z" fill="#b22b8f" fill-opacity="0.8"/>
<path d="M1428.5 406.4L1428.6 409.2L1428.6 412.2L1438.3 412.6L1448 412.5L1448 409.5L1448.1 406.7L1438.3 406.8z" fill="#e06363" fill-opacity="0.8"/>
<path d="M1376.9 448.7L1374.6 451.8L1372.2 454.7L1384.2 458L1396.8 460.6L1398.4 457.5L1399.9 454.2L1388.1 451.7z" fill="#240691" fill-opacity="0.8"/>
<path d="M1515.4 384.5L1513 384.8L1510.7 385.4L1519 381.8L1526.6 377.8L1529.4 376.9L1532.4 376.3L1524.3 380.6z" fill="#fbd524" fill-opacity="0.8"/>
<path d="M1300.1 366.6L1304.5 365L1308.9 363.8L1315.5 370.2L1323.4 376.2L1319.5 377.9L1315.6 379.8L1307.2 373.4z" fill="#f1f525" fill-opacity="0.8"/>
<path d="M1579.6 446.4L1582.2 445.3L1584.5 443.8L1595.5 436.2L1593.1 437.8L1590.3 439.1z" fill="#5502a4" fill-opacity="0.8"/>
<path d="M1402.7 447L1401.3 450.7L1399.9 454.2L1412.1 456L1424.6 457.2L1425.2 453.6L1425.7 449.8L1414.1 448.7z" fill="#3a049a" fill-opacity="0.8"/>
<path d="M1343.9 450.8L1340.7 452.6L1337.4 454L1349.3 459.1L1362.2 463.5L1364.7 461.8L1367.2 459.7L1355.1 455.6z" fill="#0d0887" fill-opacity="0.8"/>
<path d="M1366.7 383.1L1369 384.1L1371 385.6L1379.1 388.9L1387.8 391.8L1386.3 390.5L1384.6 389.6L1375.3 386.6z" fill="#febb2b" fill-opacity="0.8"/>
<path d="M1546.2 377.4L1542.6 376.6L1539 376.2L1546.6 371.1L1550.5 371.4L1554.4 372z" fill="#f1f525" fill-opacity="0.8"/>
<path d="M1338.9 372.9L1342.4 372.9L1345.8 373.2L1353.3 377.8L1361.6 381.9L1358.8 381.9L1355.8 382.2L1346.8 377.7z" fill="#f5e926" fill-opacity="0.8"/>
<path d="M1449.5 450.2L1449.7 454L1450 457.7L1462.7 456.9L1475.1 455.5L1473.9 451.9L1472.8 448.2L1461.2 449.5z" fill="#3a049a" fill-opacity="0.8"/>
<path d="M1408.5 399.5L1409 401.7L1409.4 404.1L1418.8 405.5L1428.5 406.4L1428.3 404L1428.1 401.9L1418.2 400.9z" fill="#f0804e" fill-opacity="0.8"/>
<path d="M1475.1 455.5L1476.3 458.8L1477.6 462L1490.5 459.8L1503 457L1500.8 454L1498.7 450.8L1487.2 453.4z" fill="#240691" fill-opacity="0.8"/>
<path d="M1387.8 391.8L1389.1 393.4L1390.2 395.3L1399.1 397.6L1408.5 399.5L1407.8 397.7L1406.9 396.2L1397.2 394.2z" fill="#fb9f3a" fill-opacity="0.8"/>
<path d="M1448.3 402.2L1448.2 404.3L1448.1 406.7L1457.8 406.2L1467.4 405.1L1467.7 402.7L1468.2 400.5L1458.3 401.6z" fill="#f0804e" fill-opacity="0.8"/>
<path d="M1425.7 449.8L1425.2 453.6L1424.6 457.2L1437.3 457.8L1450 457.7L1449.7 454L1449.5 450.2L1437.6 450.3z" fill="#3a049a" fill-opacity="0.8"/>
<path d="M1302.4 443.2L1299.2 442.5L1296.2 441.6L1307.3 448.8L1319.9 455.4L1322.4 456L1325.1 456.3L1313.1 450z" fill="#3a049a" fill-opacity="0.8"/>
<path d="M1543.8 459.5L1546.6 460L1549.2 460.2L1562.1 454.3L1573.7 447.8L1570.5 448L1567 447.8L1556 453.9z" fill="#240691" fill-opacity="0.8"/>
<path d="M1264.7 406.7L1264.8 403.6L1265.3 400.3L1273.9 409L1284.3 417.2L1283.8 420.5L1283.7 423.7L1273.3 415.4z" fill="#cc4778" fill-opacity="0.8"/>
<path d="M1291.7 370.4L1295.9 368.4L1300.1 366.6L1307.2 373.4L1315.6 379.8L1311.7 382L1308 384.5L1299.1 377.7z" fill="#f5e926" fill-opacity="0.8"/>
<path d="M1491.9 391.4L1490.4 392.2L1489.1 393.5L1498.2 390.9L1506.8 387.8L1508.6 386.5L1510.7 385.4L1501.6 388.7z" fill="#febb2b" fill-opacity="0.8"/>
<path d="M1428.1 401.9L1428.3 404L1428.5 406.4L1438.3 406.8L1448.1 406.7L1448.2 404.3L1448.3 402.2L1438.2 402.3z" fill="#f0804e" fill-opacity="0.8"/>
<path d="M1469.4 397.2L1468.7 398.7L1468.2 400.5L1477.8 398.9L1487 396.9L1487.9 395L1489.1 393.5L1479.5 395.6z" fill="#fb9f3a" fill-opacity="0.8"/>
<path d="M1507.4 462.1L1509.6 464.3L1511.8 466.1L1525.3 462.1L1537.9 457.5L1534.8 455.9L1531.8 454L1520 458.4z" fill="#0d0887" fill-opacity="0.8"/>
<path d="M1372.2 454.7L1369.7 457.3L1367.2 459.7L1380.1 463.2L1393.6 466.1L1395.2 463.5L1396.8 460.6L1384.2 458z" fill="#130789" fill-opacity="0.8"/>
<path d="M1584.5 443.8L1586.6 441.9L1588.3 439.8L1599.5 432.1L1597.7 434.2L1595.5 436.2z" fill="#7201a8" fill-opacity="0.8"/>
<path d="M1265.3 400.3L1266.3 397L1267.7 393.7L1276.2 402.2L1286.5 410.3L1285.2 413.7L1284.3 417.2L1273.9 409z" fill="#e06363" fill-opacity="0.8"/>
<path d="M1284 375.3L1287.7 372.8L1291.7 370.4L1299.1 377.7L1308 384.5L1304.4 387.2L1301.1 390.1L1291.7 382.9z" fill="#fbd524" fill-opacity="0.8"/>
<path d="M1399.9 454.2L1398.4 457.5L1396.8 460.6L1409.9 462.6L1423.3 463.9L1424 460.7L1424.6 457.2L1412.1 456z" fill="#240691" fill-opacity="0.8"/>
<path d="M1520.8 384.9L1518.1 384.5L1515.4 384.5L1524.3 380.6L1532.4 376.3L1535.6 376L1539 376.2L1530.4 380.8z" fill="#f5e926" fill-opacity="0.8"/>
<path d="M1553.7 380L1549.9 378.6L1546.2 377.4L1554.4 372L1558.4 373L1562.4 374.2z" fill="#f0f921" fill-opacity="0.8"/>
<path d="M1267.7 393.7L1269.5 390.4L1271.7 387.2L1280.1 395.4L1290.1 403.3L1288.1 406.8L1286.5 410.3L1276.2 402.2z" fill="#f0804e" fill-opacity="0.8"/>
<path d="M1277.2 381L1280.5 378L1284 375.3L1291.7 382.9L1301.1 390.1L1297.9 393.2L1295 396.5L1285.3 388.9z" fill="#febb2b" fill-opacity="0.8"/>
<path d="M1337.4 454L1334.2 455.1L1331 455.9L1343.6 461.3L1357.3 466L1359.7 464.9L1362.2 463.5L1349.3 459.1z" fill="#130789" fill-opacity="0.8"/>
<path d="M1361.6 381.9L1364.3 382.3L1366.7 383.1L1375.3 386.6L1384.6 389.6L1382.7 389.1L1380.7 388.9L1370.8 385.7z" fill="#fbd524" fill-opacity="0.8"/>
<path d="M1450 457.7L1450.3 461.1L1450.7 464.3L1464.2 463.5L1477.6 462L1476.3 458.8L1475.1 455.5L1462.7 456.9z" fill="#240691" fill-opacity="0.8"/>
<path d="M1271.7 387.2L1274.3 384L1277.2 381L1285.3 388.9L1295 396.5L1292.4 399.8L1290.1 403.3L1280.1 395.4z" fill="#fb9f3a" fill-opacity="0.8"/>
<path d="M1331.3 373.9L1335.1 373.2L1338.9 372.9L1346.8 377.7L1355.8 382.2L1352.7 382.9L1349.4 383.9L1339.8 379.1z" fill="#f1f525" fill-opacity="0.8"/>
<path d="M1406.9 396.2L1407.8 397.7L1408.5 399.5L1418.2 400.9L1428.1 401.9L1427.8 400.1L1427.5 398.6L1417.1 397.7z" fill="#fb9f3a" fill-opacity="0.8"/>
<path d="M1477.6 462L1478.9 464.9L1480.2 467.6L1494.1 465.2L1507.4 462.1L1505.2 459.7L1503 457L1490.5 459.8z" fill="#130789" fill-opacity="0.8"/>
<path d="M1424.6 457.2L1424 460.7L1423.3 463.9L1437 464.5L1450.7 464.3L1450.3 461.1L1450 457.7L1437.3 457.8z" fill="#240691" fill-opacity="0.8"/>
<path d="M1448.6 399L1448.4 400.4L1448.3 402.2L1458.3 401.6L1468.2 400.5L1468.7 398.7L1469.4 397.2L1459.1 398.4z" fill="#fb9f3a" fill-opacity="0.8"/>
<path d="M1296.2 441.6L1293.5 440.3L1291 438.7L1302.5 446.2L1315.5 453L1317.6 454.3L1319.9 455.4L1307.3 448.8z" fill="#5502a4" fill-opacity="0.8"/>
<path d="M1384.6 389.6L1386.3 390.5L1387.8 391.8L1397.2 394.2L1406.9 396.2L1406 395.1L1404.9 394.3L1394.5 392.2z" fill="#febb2b" fill-opacity="0.8"/>
<path d="M1549.2 460.2L1551.8 460L1554.1 459.4L1567.5 453.2L1579.6 446.4L1576.8 447.3L1573.7 447.8L1562.1 454.3z" fill="#3a049a" fill-opacity="0.8"/>
<path d="M1427.5 398.6L1427.8 400.1L1428.1 401.9L1438.2 402.3L1448.3 402.2L1448.4 400.4L1448.6 399L1438 399.1z" fill="#fb9f3a" fill-opacity="0.8"/>
<path d="M1588.3 439.8L1589.6 437.4L1590.6 434.8L1602.1 426.9L1601 429.6L1599.5 432.1z" fill="#9410a2" fill-opacity="0.8"/>
<path d="M1495.4 390.8L1493.6 390.9L1491.9 391.4L1501.6 388.7L1510.7 385.4L1513 384.8L1515.4 384.5L1505.7 387.9z" fill="#fbd524" fill-opacity="0.8"/>
<path d="M1561.2 383.9L1557.5 381.8L1553.7 380L1562.4 374.2L1566.5 375.8L1570.5 377.7z" fill="#f1f525" fill-opacity="0.8"/>
<path d="M1471.1 395.4L1470.2 396.1L1469.4 397.2L1479.5 395.6L1489.1 393.5L1490.4 392.2L1491.9 391.4L1481.7 393.7z" fill="#febb2b" fill-opacity="0.8"/>
<path d="M1511.8 466.1L1514 467.6L1516.2 468.7L1530.4 464.5L1543.8 459.5L1540.9 458.7L1537.9 457.5L1525.3 462.1z" fill="#130789" fill-opacity="0.8"/>
<path d="M1367.2 459.7L1364.7 461.8L1362.2 463.5L1375.9 467.3L1390.3 470.3L1392 468.3L1393.6 466.1L1380.1 463.2z" fill="#0d0887" fill-opacity="0.8"/>
<path d="M1526.7 386.9L1523.7 385.7L1520.8 384.9L1530.4 380.8L1539 376.2L1542.6 376.6L1546.2 377.4L1537 382.4z" fill="#f1f525" fill-opacity="0.8"/>
<path d="M1396.8 460.6L1395.2 463.5L1393.6 466.1L1407.6 468.2L1422 469.6L1422.7 466.9L1423.3 463.9L1409.9 462.6z" fill="#130789" fill-opacity="0.8"/>
<path d="M1323.4 376.2L1327.4 374.9L1331.3 373.9L1339.8 379.1L1349.4 383.9L1346.1 385.3L1342.8 387L1332.6 381.8z" fill="#f0f921" fill-opacity="0.8"/>
<path d="M1590.6 434.8L1591.3 432L1602.7 424.1L1602.1 426.9z" fill="#b22b8f" fill-opacity="0.8"/>
<path d="M1450.7 464.3L1451 467.3L1451.3 470.1L1465.9 469.2L1480.2 467.6L1478.9 464.9L1477.6 462L1464.2 463.5z" fill="#130789" fill-opacity="0.8"/>
<path d="M1331 455.9L1328 456.3L1325.1 456.3L1338.4 462L1352.8 467L1355 466.7L1357.3 466L1343.6 461.3z" fill="#240691" fill-opacity="0.8"/>
<path d="M1355.8 382.2L1358.8 381.9L1361.6 381.9L1370.8 385.7L1380.7 388.9L1378.5 389.2L1376.2 389.7L1365.6 386.2z" fill="#f5e926" fill-opacity="0.8"/>
<path d="M1404.9 394.3L1406 395.1L1406.9 396.2L1417.1 397.7L1427.5 398.6L1427.1 397.6L1426.6 396.9L1415.6 395.9z" fill="#febb2b" fill-opacity="0.8"/>
<path d="M1291 438.7L1288.9 436.9L1287.1 434.7L1298.9 442.3L1312.3 449.3L1313.8 451.3L1315.5 453L1302.5 446.2z" fill="#7201a8" fill-opacity="0.8"/>
<path d="M1568.4 388.8L1564.8 386.2L1561.2 383.9L1570.5 377.7L1574.4 379.9L1578.2 382.3z" fill="#f5e926" fill-opacity="0.8"/>
<path d="M1480.2 467.6L1481.5 469.9L1482.8 471.9L1497.6 469.4L1511.8 466.1L1509.6 464.3L1507.4 462.1L1494.1 465.2z" fill="#0d0887" fill-opacity="0.8"/>
<path d="M1423.3 463.9L1422.7 466.9L1422 469.6L1436.6 470.2L1451.3 470.1L1451 467.3L1450.7 464.3L1437 464.5z" fill="#130789" fill-opacity="0.8"/>
<path d="M1449 397.3L1448.8 397.9L1448.6 399L1459.1 398.4L1469.4 397.2L1470.2 396.1L1471.1 395.4L1460.2 396.6z" fill="#febb2b" fill-opacity="0.8"/>
<path d="M1554.1 459.4L1556.2 458.4L1558.1 457.1L1572 450.8L1584.5 443.8L1582.2 445.3L1579.6 446.4L1567.5 453.2z" fill="#5502a4" fill-opacity="0.8"/>
<path d="M1380.7 388.9L1382.7 389.1L1384.6 389.6L1394.5 392.2L1404.9 394.3L1403.6 393.9L1402.3 393.9L1391.3 391.7z" fill="#fbd524" fill-opacity="0.8"/>
<path d="M1426.6 396.9L1427.1 397.6L1427.5 398.6L1438 399.1L1448.6 399L1448.8 397.9L1449 397.3L1437.8 397.4z" fill="#febb2b" fill-opacity="0.8"/>
<path d="M1591.5 428.9L1591.4 425.7L1591 422.3L1602.4 414.5L1602.9 417.8L1603 421z" fill="#cc4778" fill-opacity="0.8"/>
<path d="M1499.4 391.8L1497.3 391.1L1495.4 390.8L1505.7 387.9L1515.4 384.5L1518.1 384.5L1520.8 384.9L1510.5 388.6z" fill="#f5e926" fill-opacity="0.8"/>
<path d="M1575 394.7L1571.8 391.7L1568.4 388.8L1578.2 382.3L1581.8 384.9L1585.3 387.8z" fill="#fbd524" fill-opacity="0.8"/>
<path d="M1315.6 379.8L1319.5 377.9L1323.4 376.2L1332.6 381.8L1342.8 387L1339.5 389L1336.2 391.3L1325.3 385.8z" fill="#f1f525" fill-opacity="0.8"/>
<path d="M1532.8 390.2L1529.8 388.3L1526.7 386.9L1537 382.4L1546.2 377.4L1549.9 378.6L1553.7 380L1543.8 385.3z" fill="#f0f921" fill-opacity="0.8"/>
<path d="M1473.1 395.1L1472.1 395.1L1471.1 395.4L1481.7 393.7L1491.9 391.4L1493.6 390.9L1495.4 390.8L1484.5 393.3z" fill="#fbd524" fill-opacity="0.8"/>
<path d="M1516.2 468.7L1518.2 469.5L1520.2 469.9L1535.2 465.4L1549.2 460.2L1546.6 460L1543.8 459.5L1530.4 464.5z" fill="#240691" fill-opacity="0.8"/>
<path d="M1287.1 434.7L1285.7 432.3L1284.7 429.6L1296.6 437.3L1310.2 444.4L1311 447L1312.3 449.3L1298.9 442.3z" fill="#9410a2" fill-opacity="0.8"/>
<path d="M1362.2 463.5L1359.7 464.9L1357.3 466L1371.9 470L1387.2 473.2L1388.7 471.9L1390.3 470.3L1375.9 467.3z" fill="#130789" fill-opacity="0.8"/>
<path d="M1393.6 466.1L1392 468.3L1390.3 470.3L1405.3 472.6L1420.7 474.1L1421.4 472L1422 469.6L1407.6 468.2z" fill="#0d0887" fill-opacity="0.8"/>
<path d="M1591 422.3L1590.1 418.9L1588.9 415.3L1600.2 407.6L1601.5 411.1L1602.4 414.5z" fill="#e06363" fill-opacity="0.8"/>
<path d="M1580.8 401.2L1578 397.9L1575 394.7L1585.3 387.8L1588.5 390.8L1591.5 394z" fill="#febb2b" fill-opacity="0.8"/>
<path d="M1349.4 383.9L1352.7 382.9L1355.8 382.2L1365.6 386.2L1376.2 389.7L1373.9 390.7L1371.4 392L1360 388.2z" fill="#f1f525" fill-opacity="0.8"/>
<path d="M1325.1 456.3L1322.4 456L1319.9 455.4L1333.7 461.3L1348.8 466.5L1350.7 466.9L1352.8 467L1338.4 462z" fill="#3a049a" fill-opacity="0.8"/>
<path d="M1588.9 415.3L1587.3 411.8L1585.5 408.2L1596.5 400.7L1598.6 404.2L1600.2 407.6z" fill="#f0804e" fill-opacity="0.8"/>
<path d="M1585.5 408.2L1583.3 404.7L1580.8 401.2L1591.5 394L1594.2 397.3L1596.5 400.7z" fill="#fb9f3a" fill-opacity="0.8"/>
<path d="M1451.3 470.1L1451.6 472.5L1452 474.6L1467.5 473.7L1482.8 471.9L1481.5 469.9L1480.2 467.6L1465.9 469.2z" fill="#0d0887" fill-opacity="0.8"/>
<path d="M1558.1 457.1L1559.8 455.5L1561.2 453.5L1575.4 447L1588.3 439.8L1586.6 441.9L1584.5 443.8L1572 450.8z" fill="#7201a8" fill-opacity="0.8"/>
<path d="M1402.3 393.9L1403.6 393.9L1404.9 394.3L1415.6 395.9L1426.6 396.9L1426.1 396.6L1425.6 396.7L1413.8 395.6z" fill="#fbd524" fill-opacity="0.8"/>
<path d="M1308 384.5L1311.7 382L1315.6 379.8L1325.3 385.8L1336.2 391.3L1333 393.9L1329.8 396.8L1318.3 390.9z" fill="#f5e926" fill-opacity="0.8"/>
<path d="M1482.8 471.9L1484.1 473.6L1485.3 474.9L1501.1 472.2L1516.2 468.7L1514 467.6L1511.8 466.1L1497.6 469.4z" fill="#130789" fill-opacity="0.8"/>
<path d="M1284.7 429.6L1284 426.7L1296 434.5L1309.6 441.6L1310.2 444.4L1296.6 437.3z" fill="#b22b8f" fill-opacity="0.8"/>
<path d="M1422 469.6L1421.4 472L1420.7 474.1L1436.3 474.7L1452 474.6L1451.6 472.5L1451.3 470.1L1436.6 470.2z" fill="#0d0887" fill-opacity="0.8"/>
<path d="M1449.5 397.1L1449.3 397L1449 397.3L1460.2 396.6L1471.1 395.4L1472.1 395.1L1473.1 395.1L1461.4 396.4z" fill="#fbd524" fill-opacity="0.8"/>
<path d="M1376.2 389.7L1378.5 389.2L1380.7 388.9L1391.3 391.7L1402.3 393.9L1400.9 394.3L1399.4 395.1L1387.6 392.7z" fill="#f5e926" fill-opacity="0.8"/>
<path d="M1539 394.7L1535.9 392.3L1532.8 390.2L1543.8 385.3L1553.7 380L1557.5 381.8L1561.2 383.9L1550.6 389.6z" fill="#f1f525" fill-opacity="0.8"/>
<path d="M1425.6 396.7L1426.1 396.6L1426.6 396.9L1437.8 397.4L1449 397.3L1449.3 397L1449.5 397.1L1437.5 397.2z" fill="#fbd524" fill-opacity="0.8"/>
<path d="M1503.7 394.2L1501.5 392.8L1499.4 391.8L1510.5 388.6L1520.8 384.9L1523.7 385.7L1526.7 386.9L1515.6 390.8z" fill="#f1f525" fill-opacity="0.8"/>
<path d="M1520.2 469.9L1522 469.9L1523.7 469.5L1539.4 464.8L1554.1 459.4L1551.8 460L1549.2 460.2L1535.2 465.4z" fill="#3a049a" fill-opacity="0.8"/>
<path d="M1475.5 396.4L1474.3 395.6L1473.1 395.1L1484.5 393.3L1495.4 390.8L1497.3 391.1L1499.4 391.8L1487.7 394.4z" fill="#f5e926" fill-opacity="0.8"/>
<path d="M1301.1 390.1L1304.4 387.2L1308 384.5L1318.3 390.9L1329.8 396.8L1326.8 399.8L1324 403.1L1311.8 396.9z" fill="#fbd524" fill-opacity="0.8"/>
<path d="M1561.2 453.5L1562.3 451.3L1563.1 448.7L1577.6 442.1L1590.6 434.8L1589.6 437.4L1588.3 439.8L1575.4 447z" fill="#9410a2" fill-opacity="0.8"/>
<path d="M1283.7 423.7L1283.8 420.5L1284.3 417.2L1296.3 424.8L1309.9 431.9L1309.4 435.3L1309.4 438.5L1295.7 431.4z" fill="#cc4778" fill-opacity="0.8"/>
<path d="M1357.3 466L1355 466.7L1352.8 467L1368.1 471.2L1384.3 474.6L1385.7 474.1L1387.2 473.2L1371.9 470z" fill="#240691" fill-opacity="0.8"/>
<path d="M1390.3 470.3L1388.7 471.9L1387.2 473.2L1403.1 475.6L1419.4 477.2L1420.1 475.8L1420.7 474.1L1405.3 472.6z" fill="#130789" fill-opacity="0.8"/>
<path d="M1342.8 387L1346.1 385.3L1349.4 383.9L1360 388.2L1371.4 392L1368.9 393.7L1366.3 395.7L1354.1 391.6z" fill="#f0f921" fill-opacity="0.8"/>
<path d="M1319.9 455.4L1317.6 454.3L1315.5 453L1329.9 459.1L1345.4 464.5L1347 465.7L1348.8 466.5L1333.7 461.3z" fill="#5502a4" fill-opacity="0.8"/>
<path d="M1544.9 400.4L1542 397.4L1539 394.7L1550.6 389.6L1561.2 383.9L1564.8 386.2L1568.4 388.8L1557.2 394.9z" fill="#f5e926" fill-opacity="0.8"/>
<path d="M1295 396.5L1297.9 393.2L1301.1 390.1L1311.8 396.9L1324 403.1L1321.3 406.5L1318.9 410L1306.2 403.5z" fill="#febb2b" fill-opacity="0.8"/>
<path d="M1284.3 417.2L1285.2 413.7L1286.5 410.3L1298.3 417.8L1311.7 424.7L1310.6 428.3L1309.9 431.9L1296.3 424.8z" fill="#e06363" fill-opacity="0.8"/>
<path d="M1452 474.6L1452.3 476.4L1452.6 477.8L1469.1 476.7L1485.3 474.9L1484.1 473.6L1482.8 471.9L1467.5 473.7z" fill="#130789" fill-opacity="0.8"/>
<path d="M1399.4 395.1L1400.9 394.3L1402.3 393.9L1413.8 395.6L1425.6 396.7L1425 397.2L1424.4 398.1L1411.8 396.9z" fill="#f5e926" fill-opacity="0.8"/>
<path d="M1563.1 448.7L1563.6 445.9L1578.2 439.3L1591.3 432L1590.6 434.8L1577.6 442.1z" fill="#b22b8f" fill-opacity="0.8"/>
<path d="M1290.1 403.3L1292.4 399.8L1295 396.5L1306.2 403.5L1318.9 410L1316.7 413.6L1314.7 417.3L1301.7 410.6z" fill="#fb9f3a" fill-opacity="0.8"/>
<path d="M1286.5 410.3L1288.1 406.8L1290.1 403.3L1301.7 410.6L1314.7 417.3L1313.1 421L1311.7 424.7L1298.3 417.8z" fill="#f0804e" fill-opacity="0.8"/>
<path d="M1485.3 474.9L1486.5 475.8L1487.7 476.4L1504.3 473.5L1520.2 469.9L1518.2 469.5L1516.2 468.7L1501.1 472.2z" fill="#240691" fill-opacity="0.8"/>
<path d="M1420.7 474.1L1420.1 475.8L1419.4 477.2L1436 477.9L1452.6 477.8L1452.3 476.4L1452 474.6L1436.3 474.7z" fill="#130789" fill-opacity="0.8"/>
<path d="M1450.1 398.5L1449.8 397.6L1449.5 397.1L1461.4 396.4L1473.1 395.1L1474.3 395.6L1475.5 396.4L1462.9 397.8z" fill="#f5e926" fill-opacity="0.8"/>
<path d="M1371.4 392L1373.9 390.7L1376.2 389.7L1387.6 392.7L1399.4 395.1L1397.9 396.3L1396.3 397.8L1383.5 395.2z" fill="#f1f525" fill-opacity="0.8"/>
<path d="M1508.1 398.1L1505.9 396L1503.7 394.2L1515.6 390.8L1526.7 386.9L1529.8 388.3L1532.8 390.2L1520.9 394.4z" fill="#f0f921" fill-opacity="0.8"/>
<path d="M1424.4 398.1L1425 397.2L1425.6 396.7L1437.5 397.2L1449.5 397.1L1449.8 397.6L1450.1 398.5L1437.2 398.6z" fill="#f5e926" fill-opacity="0.8"/>
<path d="M1550.3 406.9L1547.6 403.5L1544.9 400.4L1557.2 394.9L1568.4 388.8L1571.8 391.7L1575 394.7L1563.3 401.1z" fill="#fbd524" fill-opacity="0.8"/>
<path d="M1523.7 469.5L1525.3 468.7L1526.7 467.6L1543 462.8L1558.1 457.1L1556.2 458.4L1554.1 459.4L1539.4 464.8z" fill="#5502a4" fill-opacity="0.8"/>
<path d="M1336.2 391.3L1339.5 389L1342.8 387L1354.1 391.6L1366.3 395.7L1363.8 398L1361.3 400.6L1348.2 396.3z" fill="#f1f525" fill-opacity="0.8"/>
<path d="M1315.5 453L1313.8 451.3L1312.3 449.3L1327 455.5L1342.9 461L1344.1 462.9L1345.4 464.5L1329.9 459.1z" fill="#7201a8" fill-opacity="0.8"/>
<path d="M1478 399.2L1476.7 397.6L1475.5 396.4L1487.7 394.4L1499.4 391.8L1501.5 392.8L1503.7 394.2L1491.1 397z" fill="#f1f525" fill-opacity="0.8"/>
<path d="M1563.9 442.8L1563.8 439.6L1563.4 436.2L1577.9 429.6L1591 422.3L1591.4 425.7L1591.5 428.9L1578.4 436.2z" fill="#cc4778" fill-opacity="0.8"/>
<path d="M1352.8 467L1350.7 466.9L1348.8 466.5L1364.8 470.9L1381.7 474.4L1382.9 474.7L1384.3 474.6L1368.1 471.2z" fill="#3a049a" fill-opacity="0.8"/>
<path d="M1555 414L1552.7 410.4L1550.3 406.9L1563.3 401.1L1575 394.7L1578 397.9L1580.8 401.2L1568.6 407.9z" fill="#febb2b" fill-opacity="0.8"/>
<path d="M1387.2 473.2L1385.7 474.1L1384.3 474.6L1401 477.1L1418.2 478.8L1418.8 478.2L1419.4 477.2L1403.1 475.6z" fill="#240691" fill-opacity="0.8"/>
<path d="M1563.4 436.2L1562.7 432.6L1561.7 428.9L1576 422.5L1588.9 415.3L1590.1 418.9L1591 422.3L1577.9 429.6z" fill="#e06363" fill-opacity="0.8"/>
<path d="M1558.9 421.4L1557.1 417.7L1555 414L1568.6 407.9L1580.8 401.2L1583.3 404.7L1585.5 408.2L1572.9 415.2z" fill="#fb9f3a" fill-opacity="0.8"/>
<path d="M1561.7 428.9L1560.4 425.2L1558.9 421.4L1572.9 415.2L1585.5 408.2L1587.3 411.8L1588.9 415.3L1576 422.5z" fill="#f0804e" fill-opacity="0.8"/>
<path d="M1452.6 477.8L1452.9 478.8L1453.2 479.4L1470.6 478.3L1487.7 476.4L1486.5 475.8L1485.3 474.9L1469.1 476.7z" fill="#240691" fill-opacity="0.8"/>
<path d="M1396.3 397.8L1397.9 396.3L1399.4 395.1L1411.8 396.9L1424.4 398.1L1423.8 399.4L1423.1 401L1409.6 399.7z" fill="#f1f525" fill-opacity="0.8"/>
<path d="M1512.6 403.2L1510.4 400.5L1508.1 398.1L1520.9 394.4L1532.8 390.2L1535.9 392.3L1539 394.7L1526.3 399.3z" fill="#f1f525" fill-opacity="0.8"/>
<path d="M1487.7 476.4L1488.8 476.5L1489.8 476.3L1507.1 473.3L1523.7 469.5L1522 469.9L1520.2 469.9L1504.3 473.5z" fill="#3a049a" fill-opacity="0.8"/>
<path d="M1366.3 395.7L1368.9 393.7L1371.4 392L1383.5 395.2L1396.3 397.8L1394.7 399.7L1393 401.9L1379.4 399.1z" fill="#f0f921" fill-opacity="0.8"/>
<path d="M1419.4 477.2L1418.8 478.2L1418.2 478.8L1435.7 479.6L1453.2 479.4L1452.9 478.8L1452.6 477.8L1436 477.9z" fill="#240691" fill-opacity="0.8"/>
<path d="M1329.8 396.8L1333 393.9L1336.2 391.3L1348.2 396.3L1361.3 400.6L1358.8 403.5L1356.4 406.7L1342.6 402z" fill="#f5e926" fill-opacity="0.8"/>
<path d="M1312.3 449.3L1311 447L1310.2 444.4L1325.1 450.7L1341.3 456.3L1342 458.8L1342.9 461L1327 455.5z" fill="#9410a2" fill-opacity="0.8"/>
<path d="M1450.8 401.5L1450.4 399.8L1450.1 398.5L1462.9 397.8L1475.5 396.4L1476.7 397.6L1478 399.2L1464.5 400.7z" fill="#f1f525" fill-opacity="0.8"/>
<path d="M1526.7 467.6L1527.9 466.1L1528.9 464.3L1545.6 459.3L1561.2 453.5L1559.8 455.5L1558.1 457.1L1543 462.8z" fill="#7201a8" fill-opacity="0.8"/>
<path d="M1423.1 401L1423.8 399.4L1424.4 398.1L1437.2 398.6L1450.1 398.5L1450.4 399.8L1450.8 401.5L1436.9 401.6z" fill="#f1f525" fill-opacity="0.8"/>
<path d="M1480.6 403.4L1479.3 401.1L1478 399.2L1491.1 397L1503.7 394.2L1505.9 396L1508.1 398.1L1494.7 401.1z" fill="#f0f921" fill-opacity="0.8"/>
<path d="M1348.8 466.5L1347 465.7L1345.4 464.5L1362 469L1379.5 472.7L1380.5 473.8L1381.7 474.4L1364.8 470.9z" fill="#5502a4" fill-opacity="0.8"/>
<path d="M1310.2 444.4L1309.6 441.6L1324.6 447.9L1340.9 453.5L1341.3 456.3L1325.1 450.7z" fill="#b22b8f" fill-opacity="0.8"/>
<path d="M1324 403.1L1326.8 399.8L1329.8 396.8L1342.6 402L1356.4 406.7L1354.1 410L1351.9 413.5L1337.4 408.6z" fill="#fbd524" fill-opacity="0.8"/>
<path d="M1384.3 474.6L1382.9 474.7L1381.7 474.4L1399.2 477.1L1417.2 478.8L1417.7 479L1418.2 478.8L1401 477.1z" fill="#3a049a" fill-opacity="0.8"/>
<path d="M1517 409.4L1514.8 406.1L1512.6 403.2L1526.3 399.3L1539 394.7L1542 397.4L1544.9 400.4L1531.4 405.2z" fill="#f5e926" fill-opacity="0.8"/>
<path d="M1528.9 464.3L1529.7 462.1L1530.4 459.6L1547.3 454.6L1563.1 448.7L1562.3 451.3L1561.2 453.5L1545.6 459.3z" fill="#9410a2" fill-opacity="0.8"/>
<path d="M1453.2 479.4L1453.5 479.6L1453.8 479.5L1471.9 478.3L1489.8 476.3L1488.8 476.5L1487.7 476.4L1470.6 478.3z" fill="#3a049a" fill-opacity="0.8"/>
<path d="M1361.3 400.6L1363.8 398L1366.3 395.7L1379.4 399.1L1393 401.9L1391.4 404.5L1389.8 407.3L1375.2 404.3z" fill="#f1f525" fill-opacity="0.8"/>
<path d="M1489.8 476.3L1490.7 475.7L1491.5 474.6L1509.5 471.6L1526.7 467.6L1525.3 468.7L1523.7 469.5L1507.1 473.3z" fill="#5502a4" fill-opacity="0.8"/>
<path d="M1393 401.9L1394.7 399.7L1396.3 397.8L1409.6 399.7L1423.1 401L1422.5 403L1421.8 405.3L1407.2 404z" fill="#f0f921" fill-opacity="0.8"/>
<path d="M1318.9 410L1321.3 406.5L1324 403.1L1337.4 408.6L1351.9 413.5L1349.9 417.2L1348 421L1332.9 415.9z" fill="#febb2b" fill-opacity="0.8"/>
<path d="M1309.4 438.5L1309.4 435.3L1309.9 431.9L1324.8 438.2L1341.1 443.7L1340.7 447.2L1340.7 450.5L1324.4 444.9z" fill="#cc4778" fill-opacity="0.8"/>
<path d="M1451.4 405.8L1451.1 403.5L1450.8 401.5L1464.5 400.7L1478 399.2L1479.3 401.1L1480.6 403.4L1466.2 405z" fill="#f0f921" fill-opacity="0.8"/>
<path d="M1418.2 478.8L1417.7 479L1417.2 478.8L1435.4 479.6L1453.8 479.5L1453.5 479.6L1453.2 479.4L1435.7 479.6z" fill="#3a049a" fill-opacity="0.8"/>
<path d="M1530.4 459.6L1530.7 456.8L1547.8 451.8L1563.6 445.9L1563.1 448.7L1547.3 454.6z" fill="#b22b8f" fill-opacity="0.8"/>
<path d="M1520.9 416.4L1519 412.8L1517 409.4L1531.4 405.2L1544.9 400.4L1547.6 403.5L1550.3 406.9L1536.1 412z" fill="#fbd524" fill-opacity="0.8"/>
<path d="M1345.4 464.5L1344.1 462.9L1342.9 461L1359.9 465.7L1377.9 469.5L1378.6 471.3L1379.5 472.7L1362 469z" fill="#7201a8" fill-opacity="0.8"/>
<path d="M1483.3 408.9L1482 406L1480.6 403.4L1494.7 401.1L1508.1 398.1L1510.4 400.5L1512.6 403.2L1498.3 406.4z" fill="#f1f525" fill-opacity="0.8"/>
<path d="M1421.8 405.3L1422.5 403L1423.1 401L1436.9 401.6L1450.8 401.5L1451.1 403.5L1451.4 405.8L1436.6 406z" fill="#f0f921" fill-opacity="0.8"/>
<path d="M1314.7 417.3L1316.7 413.6L1318.9 410L1332.9 415.9L1348 421L1346.3 424.8L1344.8 428.7L1329.2 423.4z" fill="#fb9f3a" fill-opacity="0.8"/>
<path d="M1309.9 431.9L1310.6 428.3L1311.7 424.7L1326.4 430.9L1342.5 436.4L1341.6 440.1L1341.1 443.7L1324.8 438.2z" fill="#e06363" fill-opacity="0.8"/>
<path d="M1311.7 424.7L1313.1 421L1314.7 417.3L1329.2 423.4L1344.8 428.7L1343.5 432.6L1342.5 436.4L1326.4 430.9z" fill="#f0804e" fill-opacity="0.8"/>
<path d="M1381.7 474.4L1380.5 473.8L1379.5 472.7L1397.6 475.5L1416.3 477.3L1416.7 478.2L1417.2 478.8L1399.2 477.1z" fill="#5502a4" fill-opacity="0.8"/>
<path d="M1356.4 406.7L1358.8 403.5L1361.3 400.6L1375.2 404.3L1389.8 407.3L1388.2 410.4L1386.6 413.7L1371.1 410.6z" fill="#f5e926" fill-opacity="0.8"/>
<path d="M1524.4 423.9L1522.7 420.1L1520.9 416.4L1536.1 412L1550.3 406.9L1552.7 410.4L1555 414L1540.2 419.3z" fill="#febb2b" fill-opacity="0.8"/>
<path d="M1491.5 474.6L1492.3 473.2L1492.9 471.5L1511.3 468.3L1528.9 464.3L1527.9 466.1L1526.7 467.6L1509.5 471.6z" fill="#7201a8" fill-opacity="0.8"/>
<path d="M1530.9 453.7L1530.8 450.5L1530.6 447L1547.6 442L1563.4 436.2L1563.8 439.6L1563.9 442.8L1548 448.7z" fill="#cc4778" fill-opacity="0.8"/>
<path d="M1453.8 479.5L1454 478.9L1454.2 477.9L1473 476.8L1491.5 474.6L1490.7 475.7L1489.8 476.3L1471.9 478.3z" fill="#5502a4" fill-opacity="0.8"/>
<path d="M1389.8 407.3L1391.4 404.5L1393 401.9L1407.2 404L1421.8 405.3L1421.1 408L1420.5 411L1404.9 409.5z" fill="#f1f525" fill-opacity="0.8"/>
<path d="M1342.9 461L1342 458.8L1341.3 456.3L1358.6 461.1L1376.8 464.9L1377.3 467.3L1377.9 469.5L1359.9 465.7z" fill="#9410a2" fill-opacity="0.8"/>
<path d="M1527.2 431.8L1525.9 427.9L1524.4 423.9L1540.2 419.3L1555 414L1557.1 417.7L1558.9 421.4L1543.6 427z" fill="#fb9f3a" fill-opacity="0.8"/>
<path d="M1530.6 447L1530 443.3L1529.3 439.6L1546.1 434.7L1561.7 428.9L1562.7 432.6L1563.4 436.2L1547.6 442z" fill="#e06363" fill-opacity="0.8"/>
<path d="M1452.1 411.5L1451.8 408.5L1451.4 405.8L1466.2 405L1480.6 403.4L1482 406L1483.3 408.9L1467.8 410.6z" fill="#f1f525" fill-opacity="0.8"/>
<path d="M1485.8 415.4L1484.6 412L1483.3 408.9L1498.3 406.4L1512.6 403.2L1514.8 406.1L1517 409.4L1501.7 412.8z" fill="#f5e926" fill-opacity="0.8"/>
<path d="M1417.2 478.8L1416.7 478.2L1416.3 477.3L1435.2 478.1L1454.2 477.9L1454 478.9L1453.8 479.5L1435.4 479.6z" fill="#5502a4" fill-opacity="0.8"/>
<path d="M1529.3 439.6L1528.4 435.7L1527.2 431.8L1543.6 427L1558.9 421.4L1560.4 425.2L1561.7 428.9L1546.1 434.7z" fill="#f0804e" fill-opacity="0.8"/>
<path d="M1420.5 411L1421.1 408L1421.8 405.3L1436.6 406L1451.4 405.8L1451.8 408.5L1452.1 411.5L1436.3 411.6z" fill="#f1f525" fill-opacity="0.8"/>
<path d="M1351.9 413.5L1354.1 410L1356.4 406.7L1371.1 410.6L1386.6 413.7L1385.1 417.3L1383.7 421L1367.4 417.7z" fill="#fbd524" fill-opacity="0.8"/>
<path d="M1341.3 456.3L1340.9 453.5L1358.2 458.3L1376.5 462.1L1376.8 464.9L1358.6 461.1z" fill="#b22b8f" fill-opacity="0.8"/>
<path d="M1379.5 472.7L1378.6 471.3L1377.9 469.5L1396.5 472.3L1415.6 474.2L1415.9 475.9L1416.3 477.3L1397.6 475.5z" fill="#7201a8" fill-opacity="0.8"/>
<path d="M1492.9 471.5L1493.3 469.4L1493.7 466.9L1512.4 463.7L1530.4 459.6L1529.7 462.1L1528.9 464.3L1511.3 468.3z" fill="#9410a2" fill-opacity="0.8"/>
<path d="M1386.6 413.7L1388.2 410.4L1389.8 407.3L1404.9 409.5L1420.5 411L1419.8 414.2L1419.2 417.7L1402.7 416.1z" fill="#f5e926" fill-opacity="0.8"/>
<path d="M1454.2 477.9L1454.4 476.6L1454.5 474.8L1473.9 473.6L1492.9 471.5L1492.3 473.2L1491.5 474.6L1473 476.8z" fill="#7201a8" fill-opacity="0.8"/>
<path d="M1488.2 422.8L1487 419L1485.8 415.4L1501.7 412.8L1517 409.4L1519 412.8L1520.9 416.4L1504.9 420z" fill="#fbd524" fill-opacity="0.8"/>
<path d="M1348 421L1349.9 417.2L1351.9 413.5L1367.4 417.7L1383.7 421L1382.4 424.9L1381.2 428.8L1364.2 425.3z" fill="#febb2b" fill-opacity="0.8"/>
<path d="M1452.7 418.2L1452.4 414.7L1452.1 411.5L1467.8 410.6L1483.3 408.9L1484.6 412L1485.8 415.4L1469.4 417.2z" fill="#f5e926" fill-opacity="0.8"/>
<path d="M1493.7 466.9L1493.9 464.1L1512.7 460.9L1530.7 456.8L1530.4 459.6L1512.4 463.7z" fill="#b22b8f" fill-opacity="0.8"/>
<path d="M1416.3 477.3L1415.9 475.9L1415.6 474.2L1435 475L1454.5 474.8L1454.4 476.6L1454.2 477.9L1435.2 478.1z" fill="#7201a8" fill-opacity="0.8"/>
<path d="M1340.7 450.5L1340.7 447.2L1341.1 443.7L1358.4 448.5L1376.7 452.3L1376.5 455.8L1376.4 459.1L1358.1 455.2z" fill="#cc4778" fill-opacity="0.8"/>
<path d="M1419.2 417.7L1419.8 414.2L1420.5 411L1436.3 411.6L1452.1 411.5L1452.4 414.7L1452.7 418.2L1435.9 418.4z" fill="#f5e926" fill-opacity="0.8"/>
<path d="M1344.8 428.7L1346.3 424.8L1348 421L1364.2 425.3L1381.2 428.8L1380.1 432.8L1379.1 436.8L1361.5 433.2z" fill="#fb9f3a" fill-opacity="0.8"/>
<path d="M1377.9 469.5L1377.3 467.3L1376.8 464.9L1395.8 467.7L1415.2 469.6L1415.4 472.1L1415.6 474.2L1396.5 472.3z" fill="#9410a2" fill-opacity="0.8"/>
<path d="M1341.1 443.7L1341.6 440.1L1342.5 436.4L1359.6 441L1377.6 444.7L1377 448.6L1376.7 452.3L1358.4 448.5z" fill="#e06363" fill-opacity="0.8"/>
<path d="M1490.2 430.6L1489.2 426.7L1488.2 422.8L1504.9 420L1520.9 416.4L1522.7 420.1L1524.4 423.9L1507.7 427.7z" fill="#febb2b" fill-opacity="0.8"/>
<path d="M1342.5 436.4L1343.5 432.6L1344.8 428.7L1361.5 433.2L1379.1 436.8L1378.3 440.8L1377.6 444.7L1359.6 441z" fill="#f0804e" fill-opacity="0.8"/>
<path d="M1383.7 421L1385.1 417.3L1386.6 413.7L1402.7 416.1L1419.2 417.7L1418.6 421.3L1418 425.1L1400.6 423.5z" fill="#fbd524" fill-opacity="0.8"/>
<path d="M1454.5 474.8L1454.7 472.7L1454.7 470.3L1474.4 469.1L1493.7 466.9L1493.3 469.4L1492.9 471.5L1473.9 473.6z" fill="#9410a2" fill-opacity="0.8"/>
<path d="M1494 461.1L1494 457.8L1493.8 454.3L1512.6 451.1L1530.6 447L1530.8 450.5L1530.9 453.7L1512.9 457.9z" fill="#cc4778" fill-opacity="0.8"/>
<path d="M1491.9 438.7L1491.1 434.7L1490.2 430.6L1507.7 427.7L1524.4 423.9L1525.9 427.9L1527.2 431.8L1509.9 435.7z" fill="#fb9f3a" fill-opacity="0.8"/>
<path d="M1453.3 425.7L1453 421.9L1452.7 418.2L1469.4 417.2L1485.8 415.4L1487 419L1488.2 422.8L1470.9 424.7z" fill="#fbd524" fill-opacity="0.8"/>
<path d="M1376.8 464.9L1376.5 462.1L1395.6 465L1415.1 466.9L1415.2 469.6L1395.8 467.7z" fill="#b22b8f" fill-opacity="0.8"/>
<path d="M1415.6 474.2L1415.4 472.1L1415.2 469.6L1434.9 470.5L1454.7 470.3L1454.7 472.7L1454.5 474.8L1435 475z" fill="#9410a2" fill-opacity="0.8"/>
<path d="M1493.8 454.3L1493.5 450.6L1493.1 446.7L1511.6 443.6L1529.3 439.6L1530 443.3L1530.6 447L1512.6 451.1z" fill="#e06363" fill-opacity="0.8"/>
<path d="M1493.1 446.7L1492.5 442.8L1491.9 438.7L1509.9 435.7L1527.2 431.8L1528.4 435.7L1529.3 439.6L1511.6 443.6z" fill="#f0804e" fill-opacity="0.8"/>
<path d="M1418 425.1L1418.6 421.3L1419.2 417.7L1435.9 418.4L1452.7 418.2L1453 421.9L1453.3 425.7L1435.6 425.9z" fill="#fbd524" fill-opacity="0.8"/>
<path d="M1381.2 428.8L1382.4 424.9L1383.7 421L1400.6 423.5L1418 425.1L1417.5 429.1L1417 433.1L1398.8 431.4z" fill="#febb2b" fill-opacity="0.8"/>
<path d="M1454.7 470.3L1454.8 467.5L1474.6 466.3L1493.9 464.1L1493.7 466.9L1474.4 469.1z" fill="#b22b8f" fill-opacity="0.8"/>
<path d="M1453.9 433.8L1453.6 429.7L1453.3 425.7L1470.9 424.7L1488.2 422.8L1489.2 426.7L1490.2 430.6L1472.2 432.7z" fill="#febb2b" fill-opacity="0.8"/>
<path d="M1415.2 469.6L1415.1 466.9L1434.9 467.7L1454.8 467.5L1454.7 470.3L1434.9 470.5z" fill="#b22b8f" fill-opacity="0.8"/>
<path d="M1376.4 459.1L1376.5 455.8L1376.7 452.3L1395.6 455.1L1415.1 457L1415 460.5L1415 463.8L1395.5 461.9z" fill="#cc4778" fill-opacity="0.8"/>
<path d="M1379.1 436.8L1380.1 432.8L1381.2 428.8L1398.8 431.4L1417 433.1L1416.5 437.2L1416.1 441.3L1397.4 439.5z" fill="#fb9f3a" fill-opacity="0.8"/>
<path d="M1417 433.1L1417.5 429.1L1418 425.1L1435.6 425.9L1453.3 425.7L1453.6 429.7L1453.9 433.8L1435.4 433.9z" fill="#febb2b" fill-opacity="0.8"/>
<path d="M1376.7 452.3L1377 448.6L1377.6 444.7L1396.3 447.6L1415.5 449.4L1415.3 453.3L1415.1 457L1395.6 455.1z" fill="#e06363" fill-opacity="0.8"/>
<path d="M1454.8 464.5L1454.8 461.2L1454.8 457.7L1474.5 456.5L1493.8 454.3L1494 457.8L1494 461.1L1474.6 463.3z" fill="#cc4778" fill-opacity="0.8"/>
<path d="M1377.6 444.7L1378.3 440.8L1379.1 436.8L1397.4 439.5L1416.1 441.3L1415.8 445.4L1415.5 449.4L1396.3 447.6z" fill="#f0804e" fill-opacity="0.8"/>
<path d="M1454.3 442L1454.1 437.9L1453.9 433.8L1472.2 432.7L1490.2 430.6L1491.1 434.7L1491.9 438.7L1473.3 440.8z" fill="#fb9f3a" fill-opacity="0.8"/>
<path d="M1454.8 457.7L1454.7 453.9L1454.6 450.1L1474 448.9L1493.1 446.7L1493.5 450.6L1493.8 454.3L1474.5 456.5z" fill="#e06363" fill-opacity="0.8"/>
<path d="M1454.6 450.1L1454.4 446.1L1454.3 442L1473.3 440.8L1491.9 438.7L1492.5 442.8L1493.1 446.7L1474 448.9z" fill="#f0804e" fill-opacity="0.8"/>
<path d="M1415 463.8L1415 460.5L1415.1 457L1434.9 457.8L1454.8 457.7L1454.8 461.2L1454.8 464.5L1434.9 464.7z" fill="#cc4778" fill-opacity="0.8"/>
<path d="M1416.1 441.3L1416.5 437.2L1417 433.1L1435.4 433.9L1453.9 433.8L1454.1 437.9L1454.3 442L1435.2 442.1z" fill="#fb9f3a" fill-opacity="0.8"/>
<path d="M1415.1 457L1415.3 453.3L1415.5 449.4L1435 450.2L1454.6 450.1L1454.7 453.9L1454.8 457.7L1434.9 457.8z" fill="#e06363" fill-opacity="0.8"/>
<path d="M1415.5 449.4L1415.8 445.4L1416.1 441.3L1435.2 442.1L1454.3 442L1454.4 446.1L1454.6 450.1L1435 450.2z" fill="#f0804e" fill-opacity="0.8"/>
</g>
<text x="1433.4" y="59.2" font-size="30.63" textLength="356.9" lengthAdjust="spacingAndGlyphs" font-weight="bold" text-anchor="middle">3D Toroidal Geometry</text>
<path d="M1972 671L2824 671L2824 72L1972 72z" fill="#ffffff"/>
<g clip-path="url(#c2)">
<path d="M2010 671L2010 72" fill="none" stroke="#b0b0b0" stroke-opacity="0.3" stroke-width="1.67" stroke-linecap="square"/>
</g>
<path d="M2010 671L2010 678" fill="#000000" stroke="#000000" stroke-width="1.67"/>
<text x="2010.5" y="701.3" font-size="21.88" textLength="13.2" lengthAdjust="spacingAndGlyphs" text-anchor="middle">0</text>
<g clip-path="url(#c2)">
<path d="M2133 671L2133 72" fill="none" stroke="#b0b0b0" stroke-opacity="0.3" stroke-width="1.67" stroke-linecap="square"/>
</g>
<path d="M2133 671L2133 678" fill="#000000" stroke="#000000" stroke-width="1.67"/>
<text x="2133.4" y="701.3" font-size="21.88" textLength="26.5" lengthAdjust="spacingAndGlyphs" text-anchor="middle">10</text>
<g clip-path="url(#c2)">
<path d="M2256 671L2256 72" fill="none" stroke="#b0b0b0" stroke-opacity="0.3" stroke-width="1.67" stroke-linecap="square"/>
</g>
<path d="M2256 671L2256 678" fill="#000000" stroke="#000000" stroke-width="1.67"/>
<text x="2256.4" y="701.3" font-size="21.88" textLength="26.5" lengthAdjust="spacingAndGlyphs" text-anchor="middle">20</text>
<g clip-path="url(#c2)">
<path d="M2379 671L2379 72" fill="none" stroke="#b0b0b0" stroke-opacity="0.3" stroke-width="1.67" stroke-linecap="square"/>
</g>
<path d="M2379 671L2379 678" fill="#000000" stroke="#000000" stroke-width="1.67"/>
<text x="2379.3" y="701.3" font-size="21.88" textLength="26.5" lengthAdjust="spacingAndGlyphs" text-anchor="middle">30</text>
<g clip-path="url(#c2)">
<path d="M2502 671L2502 72" fill="none" stroke="#b0b0b0" stroke-opacity="0.3" stroke-width="1.67" stroke-linecap="square"/>
</g>
<path d="M2502 671L2502 678" fill="#000000" stroke="#000000" stroke-width="1.67"/>
<text x="2502.3" y="701.3" font-size="21.88" textLength="26.5" lengthAdjust="spacingAndGlyphs" text-anchor="middle">40</text>
<g clip-path="url(#c2)">
<path d="M2625 671L2625 72" fill="none" stroke="#b0b0b0" stroke-opacity="0.3" stroke-width="1.67" stroke-linecap="square"/>
</g>
<path d="M2625 671L2625 678" fill="#000000" stroke="#000000" stroke-width="1.67"/>
<text x="2625.2" y="701.3" font-size="21.88" textLength="26.5" lengthAdjust="spacingAndGlyphs" text-anchor="middle">50</text>
<g clip-path="url(#c2)">
<path d="M2748 671L2748 72" fill="none" stroke="#b0b0b0" stroke-opacity="0.3" stroke-width="1.67" stroke-linecap="square"/>
</g>
<path d="M2748 671L2748 678" fill="#000000" stroke="#000000" stroke-width="1.67"/>
<text x="2748.2" y="701.3" font-size="21.88" textLength="26.6" lengthAdjust="spacingAndGlyphs" text-anchor="middle">60</text>
<text x="2397.8" y="732.6" font-size="26.25" textLength="196.4" lengthAdjust="spacingAndGlyphs" text-anchor="middle">Radial Index (x)</text>
<g clip-path="url(#c2)">
<path d="M1972 583L2824 583" fill="none" stroke="#b0b0b0" stroke-opacity="0.3" stroke-width="1.67" stroke-linecap="square"/>
</g>
<path d="M1972 583L1964 583" fill="#000000" stroke="#000000" stroke-width="1.67"/>
<text x="1957.1" y="591" font-size="21.88" textLength="33.1" lengthAdjust="spacingAndGlyphs" text-anchor="end">3.2</text>
<g clip-path="url(#c2)">
<path d="M1972 462L2824 462" fill="none" stroke="#b0b0b0" stroke-opacity="0.3" stroke-width="1.67" stroke-linecap="square"/>
</g>
<path d="M1972 462L1964 462" fill="#000000" stroke="#000000" stroke-width="1.67"/>
<text x="1957.1" y="470" font-size="21.88" textLength="33.1" lengthAdjust="spacingAndGlyphs" text-anchor="end">3.4</text>
<g clip-path="url(#c2)">
<path d="M1972 341L2824 341" fill="none" stroke="#b0b0b0" stroke-opacity="0.3" stroke-width="1.67" stroke-linecap="square"/>
</g>
<path d="M1972 341L1964 341" fill="#000000" stroke="#000000" stroke-width="1.67"/>
<text x="1957.1" y="349" font-size="21.88" textLength="33.2" lengthAdjust="spacingAndGlyphs" text-anchor="end">3.6</text>
<g clip-path="url(#c2)">
<path d="M1972 220L2824 220" fill="none" stroke="#b0b0b0" stroke-opacity="0.3" stroke-width="1.67" stroke-linecap="square"/>
</g>
<path d="M1972 220L1964 220" fill="#000000" stroke="#000000" stroke-width="1.67"/>
<text x="1957.1" y="228" font-size="21.88" textLength="33" lengthAdjust="spacingAndGlyphs" text-anchor="end">3.8</text>
<g clip-path="url(#c2)">
<path d="M1972 99L2824 99" fill="none" stroke="#b0b0b0" stroke-opacity="0.3" stroke-width="1.67" stroke-linecap="square"/>
</g>
<path d="M1972 99L1964 99" fill="#000000" stroke="#000000" stroke-width="1.67"/>
<text x="1957.1" y="107" font-size="21.88" textLength="33.1" lengthAdjust="spacingAndGlyphs" text-anchor="end">4.0</text>
<text x="1910.6" y="371.2" font-size="26.25" textLength="69.2" lengthAdjust="spacingAndGlyphs" text-anchor="middle" transform="rotate(-90 1910.6 371.2)">R (m)</text>
<g clip-path="url(#c2)">
<path d="M2010.5 643.5L2022.8 634.8L2035.1 626.2L2047.3 617.6L2059.6 608.9L2071.9 600.3L2084.2 591.6L2096.5 583L2108.8 574.3L2121.1 565.7L2133.4 557.1L2145.7 548.4L2158 539.8L2170.3 531.1L2182.6 522.5L2194.9 513.8L2207.2 505.2L2219.5 496.6L2231.8 487.9L2244.1 479.3L2256.4 470.6L2268.7 462L2281 453.3L2293.2 444.7L2305.5 436.1L2317.8 427.4L2330.1 418.8L2342.4 410.1L2354.7 401.5L2367 392.8L2379.3 384.2L2391.6 375.6L2403.9 366.9L2416.2 358.3L2428.5 349.6L2440.8 341L2453.1 332.3L2465.4 323.7L2477.7 315L2490 306.4L2502.3 297.8L2514.6 289.1L2526.9 280.5L2539.1 271.8L2551.4 263.2L2563.7 254.5L2576 245.9L2588.3 237.3L2600.6 228.6L2612.9 220L2625.2 211.3L2637.5 202.7L2649.8 194L2662.1 185.4L2674.4 176.8L2686.7 168.1L2699 159.5L2711.3 150.8L2723.6 142.2L2735.9 133.5L2748.2 124.9L2760.5 116.3L2772.8 107.6L2785 99" fill="none" stroke="#0000ff" stroke-width="4.17" stroke-linecap="square"/>
</g>
<path d="M1972 671L1972 72" fill="none" stroke="#000000" stroke-width="1.67" stroke-linejoin="miter" stroke-linecap="square"/>
<path d="M2824 671L2824 72" fill="none" stroke="#000000" stroke-width="1.67" stroke-linejoin="miter" stroke-linecap="square"/>
<path d="M1972 671L2824 671" fill="none" stroke="#000000" stroke-width="1.67" stroke-linejoin="miter" stroke-linecap="square"/>
<path d="M1972 72L2824 72" fill="none" stroke="#000000" stroke-width="1.67" stroke-linejoin="miter" stroke-linecap="square"/>
<text x="2397.8" y="37" font-size="30.63" textLength="345.6" lengthAdjust="spacingAndGlyphs" font-weight="bold" text-anchor="middle">Flux Surface Spacing</text>
<path d="M1986 119L2184 119Q2189 119 2189 115L2189 86Q2189 82 2184 82L1986 82Q1982 82 1982 86L1982 115Q1982 119 1986 119z" fill="#ffffff" fill-opacity="0.8" stroke="#cccccc" stroke-opacity="0.8" stroke-width="2.08" stroke-linejoin="miter"/>
<path d="M1990 99L2011 99L2032 99" fill="none" stroke="#0000ff" stroke-width="4.17" stroke-linecap="square"/>
<text x="2048.8" y="106.5" font-size="21.88" textLength="131.5" lengthAdjust="spacingAndGlyphs">R (outboard)</text>
<path d="M2824 669L2831 669" fill="#000000" stroke="#000000" stroke-width="1.67"/>
<text x="2838.4" y="677.4" font-size="21.88" textLength="33.1" lengthAdjust="spacingAndGlyphs" fill="#ff0000">0.0</text>
<path d="M2824 565L2831 565" fill="#000000" stroke="#000000" stroke-width="1.67"/>
<text x="2838.4" y="573.4" font-size="21.88" textLength="33.1" lengthAdjust="spacingAndGlyphs" fill="#ff0000">0.5</text>
<path d="M2824 462L2831 462" fill="#000000" stroke="#000000" stroke-width="1.67"/>
<text x="2838.4" y="469.5" font-size="21.88" textLength="33.1" lengthAdjust="spacingAndGlyphs" fill="#ff0000">1.0</text>
<path d="M2824 358L2831 358" fill="#000000" stroke="#000000" stroke-width="1.67"/>
<text x="2838.4" y="365.6" font-size="21.88" textLength="33.1" lengthAdjust="spacingAndGlyphs" fill="#ff0000">1.5</text>
<path d="M2824 254L2831 254" fill="#000000" stroke="#000000" stroke-width="1.67"/>
<text x="2838.4" y="261.6" font-size="21.88" textLength="33.1" lengthAdjust="spacingAndGlyphs" fill="#ff0000">2.0</text>
<path d="M2824 150L2831 150" fill="#000000" stroke="#000000" stroke-width="1.67"/>
<text x="2838.4" y="157.7" font-size="21.88" textLength="33.1" lengthAdjust="spacingAndGlyphs" fill="#ff0000">2.5</text>
<text x="2898.8" y="371.2" font-size="26.25" textLength="196.2" lengthAdjust="spacingAndGlyphs" fill="#ff0000" text-anchor="middle" transform="rotate(-90 2898.8 371.2)">dR/dx (m/point)</text>
<text x="2823.8" y="65.5" font-size="21.88" textLength="270.5" lengthAdjust="spacingAndGlyphs" fill="#ff0000" text-anchor="end">1e−14+1.428571429e−2</text>
<g clip-path="url(#c2)">
<path d="M2010.5 373.5L2022.8 373.5L2035.1 373.5L2047.3 373.5L2059.6 373.5L2071.9 368.9L2084.2 368.9L2096.5 373.5L2108.8 373.5L2121.1 373.5L2133.4 373.5L2145.7 373.5L2158 373.5L2170.3 373.5L2182.6 373.5L2194.9 368.9L2207.2 368.9L2219.5 373.5L2231.8 373.5L2244.1 373.5L2256.4 373.5L2268.7 373.5L2281 368.9L2293.2 368.9L2305.5 373.5L2317.8 373.5L2330.1 373.5L2342.4 373.5L2354.7 373.5L2367 373.5L2379.3 373.5L2391.6 373.5L2403.9 373.5L2416.2 368.9L2428.5 368.9L2440.8 373.5L2453.1 373.5L2465.4 373.5L2477.7 373.5L2490 373.5L2502.3 368.9L2514.6 368.9L2526.9 373.5L2539.1 373.5L2551.4 373.5L2563.7 373.5L2576 373.5L2588.3 373.5L2600.6 373.5L2612.9 373.5L2625.2 373.5L2637.5 368.9L2649.8 368.9L2662.1 373.5L2674.4 373.5L2686.7 373.5L2699 373.5L2711.3 373.5L2723.6 368.9L2735.9 368.9L2748.2 373.5L2760.5 373.5L2772.8 373.5L2785 373.5" fill="none" stroke="#ff0000" stroke-opacity="0.7" stroke-width="3.12" stroke-dasharray="11.56,5"/>
</g>
<path d="M1972 671L1972 72" fill="none" stroke="#000000" stroke-width="1.67" stroke-linejoin="miter" stroke-linecap="square"/>
<path d="M2824 671L2824 72" fill="none" stroke="#000000" stroke-width="1.67" stroke-linejoin="miter" stroke-linecap="square"/>
<path d="M1972 671L2824 671" fill="none" stroke="#000000" stroke-width="1.67" stroke-linejoin="miter" stroke-linecap="square"/>
<path d="M1972 72L2824 72" fill="none" stroke="#000000" stroke-width="1.67" stroke-linejoin="miter" stroke-linecap="square"/>
<path d="M2682 119L2809 119Q2813 119 2813 115L2813 86Q2813 82 2809 82L2682 82Q2678 82 2678 86L2678 115Q2678 119 2682 119z" fill="#ffffff" fill-opacity="0.8" stroke="#cccccc" stroke-opacity="0.8" stroke-width="2.08" stroke-linejoin="miter"/>
<path d="M2686.5 99.5L2707.5 99.5L2728.5 99.5" fill="none" stroke="#ff0000" stroke-opacity="0.7" stroke-width="3.12" stroke-dasharray="11.56,5"/>
<text x="2744.8" y="106.5" font-size="21.88" textLength="60.2" lengthAdjust="spacingAndGlyphs">dR/dx</text>
<path d="M126 1398L725 1398L725 799L126 799z" fill="#ffffff"/>
<g clip-path="url(#c3)">
<path d="M455 1099L455 1096L455 1093L454 1090L453 1087L452 1084L450 1082L448 1080L446 1077L444 1075L442 1074L439 1072L437 1071L434 1070L431 1069L428 1069L425 1069L422 1069L419 1069L417 1070L414 1071L411 1072L409 1074L406 1075L404 1077L402 1080L400 1082L399 1084L398 1087L397 1090L396 1093L395 1096L395 1099L395 1102L396 1104L397 1107L398 1110L399 1113L400 1115L402 1118L404 1120L406 1122L409 1124L411 1125L414 1126L417 1127L419 1128L422 1128L425 1129L428 1128L431 1128L434 1127L437 1126L439 1125L442 1124L444 1122L446 1120L448 1118L450 1115L452 1113L453 1110L454 1107L455 1104L455 1102L459 1102L464 1102L468 1103L472 1103L476 1104L481 1104L485 1104L489 1105L493 1105L498 1106L502 1106L506 1107L510 1107L515 1107L519 1108L523 1108L527 1109L532 1109L536 1110L540 1110L544 1110L549 1111L553 1111L557 1112L562 1112L566 1112L570 1113L574 1113L579 1114L583 1114L587 1115L591 1115L596 1115L600 1116L604 1116L608 1117L613 1117L617 1117L621 1118L625 1118L630 1119L634 1119L638 1120L642 1120L647 1120L651 1121L655 1121L659 1122L664 1122L668 1123L672 1123L676 1123L681 1124L685 1124L689 1125L694 1125L698 1125L702 1126L706 1126L711 1127L715 1127L719 1128L723 1128L719 1157L712 1186L702 1213L689 1240L674 1265L657 1289L637 1310L615 1330L592 1348L566 1363L540 1375L512 1385L484 1392L455 1397L425 1398L396 1397L367 1392L338 1385L311 1375L284 1363L259 1348L235 1330L214 1310L194 1289L176 1265L161 1240L149 1213L139 1186L132 1157L127 1128L126 1099L127 1069L132 1040L139 1012L149 984L161 957L176 932L194 909L214 887L235 867L259 850L284 834L311 822L338 812L367 805L396 801L425 799L455 801L484 805L512 812L540 822L566 834L592 850L615 867L637 887L657 909L674 932L689 957L702 984L712 1012L719 1040L723 1069L725 1099L720 1099L716 1099L712 1099L708 1099L703 1099L699 1099L695 1099L691 1099L686 1099L682 1099L678 1099L673 1099L669 1099L665 1099L661 1099L656 1099L652 1099L648 1099L643 1099L639 1099L635 1099L631 1099L626 1099L622 1099L618 1099L614 1099L609 1099L605 1099L601 1099L596 1099L592 1099L588 1099L584 1099L579 1099L575 1099L571 1099L566 1099L562 1099L558 1099L554 1099L549 1099L545 1099L541 1099L537 1099L532 1099L528 1099L524 1099L519 1099L515 1099L511 1099L507 1099L502 1099L498 1099L494 1099L489 1099L485 1099L481 1099L477 1099L472 1099L468 1099L464 1099L459 1099z" fill="#f6f7f6" shape-rendering="crispEdges"/>
<path d="M126 1398L126 799" fill="none" stroke="#b0b0b0" stroke-opacity="0.3" stroke-width="1.67" stroke-linecap="square"/>
</g>
<path d="M126 1398L126 1405" fill="#000000" stroke="#000000" stroke-width="1.67"/>
<text x="125.8" y="1428.7" font-size="21.88" textLength="46.4" lengthAdjust="spacingAndGlyphs" text-anchor="middle">2.00</text>
<g clip-path="url(#c3)">
<path d="M201 1398L201 799" fill="none" stroke="#b0b0b0" stroke-opacity="0.3" stroke-width="1.67" stroke-linecap="square"/>
</g>
<path d="M201 1398L201 1405" fill="#000000" stroke="#000000" stroke-width="1.67"/>
<text x="200.7" y="1428.7" font-size="21.88" textLength="46.4" lengthAdjust="spacingAndGlyphs" text-anchor="middle">2.25</text>
<g clip-path="url(#c3)">
<path d="M276 1398L276 799" fill="none" stroke="#b0b0b0" stroke-opacity="0.3" stroke-width="1.67" stroke-linecap="square"/>
</g>
<path d="M276 1398L276 1405" fill="#000000" stroke="#000000" stroke-width="1.67"/>
<text x="275.5" y="1428.7" font-size="21.88" textLength="46.4" lengthAdjust="spacingAndGlyphs" text-anchor="middle">2.50</text>
<g clip-path="url(#c3)">
<path d="M350 1398L350 799" fill="none" stroke="#b0b0b0" stroke-opacity="0.3" stroke-width="1.67" stroke-linecap="square"/>
</g>
<path d="M350 1398L350 1405" fill="#000000" stroke="#000000" stroke-width="1.67"/>
<text x="350.4" y="1428.7" font-size="21.88" textLength="46.4" lengthAdjust="spacingAndGlyphs" text-anchor="middle">2.75</text>
<g clip-path="url(#c3)">
<path d="M425 1398L425 799" fill="none" stroke="#b0b0b0" stroke-opacity="0.3" stroke-width="1.67" stroke-linecap="square"/>
</g>
<path d="M425 1398L425 1405" fill="#000000" stroke="#000000" stroke-width="1.67"/>
<text x="425.3" y="1428.7" font-size="21.88" textLength="46.4" lengthAdjust="spacingAndGlyphs" text-anchor="middle">3.00</text>
<g clip-path="url(#c3)">
<path d="M500 1398L500 799" fill="none" stroke="#b0b0b0" stroke-opacity="0.3" stroke-width="1.67" stroke-linecap="square"/>
</g>
<path d="M500 1398L500 1405" fill="#000000" stroke="#000000" stroke-width="1.67"/>
<text x="500.1" y="1428.7" font-size="21.88" textLength="46.4" lengthAdjust="spacingAndGlyphs" text-anchor="middle">3.25</text>
<g clip-path="url(#c3)">
<path d="M575 1398L575 799" fill="none" stroke="#b0b0b0" stroke-opacity="0.3" stroke-width="1.67" stroke-linecap="square"/>
</g>
<path d="M575 1398L575 1405" fill="#000000" stroke="#000000" stroke-width="1.67"/>
<text x="575" y="1428.7" font-size="21.88" textLength="46.4" lengthAdjust="spacingAndGlyphs" text-anchor="middle">3.50</text>
<g clip-path="url(#c3)">
<path d="M650 1398L650 799" fill="none" stroke="#b0b0b0" stroke-opacity="0.3" stroke-width="1.67" stroke-linecap="square"/>
</g>
<path d="M650 1398L650 1405" fill="#000000" stroke="#000000" stroke-width="1.67"/>
<text x="649.9" y="1428.7" font-size="21.88" textLength="46.4" lengthAdjust="spacingAndGlyphs" text-anchor="middle">3.75</text>
<g clip-path="url(#c3)">
<path d="M725 1398L725 799" fill="none" stroke="#b0b0b0" stroke-opacity="0.3" stroke-width="1.67" stroke-linecap="square"/>
</g>
<path d="M725 1398L725 1405" fill="#000000" stroke="#000000" stroke-width="1.67"/>
<text x="724.8" y="1428.7" font-size="21.88" textLength="46.4" lengthAdjust="spacingAndGlyphs" text-anchor="middle">4.00</text>
<text x="425.3" y="1460" font-size="26.25" textLength="69.2" lengthAdjust="spacingAndGlyphs" text-anchor="middle">R (m)</text>
<g clip-path="url(#c3)">
<path d="M126 1398L725 1398" fill="none" stroke="#b0b0b0" stroke-opacity="0.3" stroke-width="1.67" stroke-linecap="square"/>
</g>
<path d="M126 1398L119 1398" fill="#000000" stroke="#000000" stroke-width="1.67"/>
<text x="111.2" y="1406.1" font-size="21.88" textLength="63.9" lengthAdjust="spacingAndGlyphs" text-anchor="end">−1.00</text>
<g clip-path="url(#c3)">
<path d="M126 1323L725 1323" fill="none" stroke="#b0b0b0" stroke-opacity="0.3" stroke-width="1.67" stroke-linecap="square"/>
</g>
<path d="M126 1323L119 1323" fill="#000000" stroke="#000000" stroke-width="1.67"/>
<text x="111.2" y="1331.2" font-size="21.88" textLength="63.9" lengthAdjust="spacingAndGlyphs" text-anchor="end">−0.75</text>
<g clip-path="url(#c3)">
<path d="M126 1248L725 1248" fill="none" stroke="#b0b0b0" stroke-opacity="0.3" stroke-width="1.67" stroke-linecap="square"/>
</g>
<path d="M126 1248L119 1248" fill="#000000" stroke="#000000" stroke-width="1.67"/>
<text x="111.2" y="1256.3" font-size="21.88" textLength="63.9" lengthAdjust="spacingAndGlyphs" text-anchor="end">−0.50</text>
<g clip-path="url(#c3)">
<path d="M126 1173L725 1173" fill="none" stroke="#b0b0b0" stroke-opacity="0.3" stroke-width="1.67" stroke-linecap="square"/>
</g>
<path d="M126 1173L119 1173" fill="#000000" stroke="#000000" stroke-width="1.67"/>
<text x="111.2" y="1181.5" font-size="21.88" textLength="63.9" lengthAdjust="spacingAndGlyphs" text-anchor="end">−0.25</text>
<g clip-path="url(#c3)">
<path d="M126 1099L725 1099" fill="none" stroke="#b0b0b0" stroke-opacity="0.3" stroke-width="1.67" stroke-linecap="square"/>
</g>
<path d="M126 1099L119 1099" fill="#000000" stroke="#000000" stroke-width="1.67"/>
<text x="111.2" y="1106.6" font-size="21.88" textLength="46.4" lengthAdjust="spacingAndGlyphs" text-anchor="end">0.00</text>
<g clip-path="url(#c3)">
<path d="M126 1024L725 1024" fill="none" stroke="#b0b0b0" stroke-opacity="0.3" stroke-width="1.67" stroke-linecap="square"/>
</g>
<path d="M126 1024L119 1024" fill="#000000" stroke="#000000" stroke-width="1.67"/>
<text x="111.2" y="1031.7" font-size="21.88" textLength="46.4" lengthAdjust="spacingAndGlyphs" text-anchor="end">0.25</text>
<g clip-path="url(#c3)">
<path d="M126 949L725 949" fill="none" stroke="#b0b0b0" stroke-opacity="0.3" stroke-width="1.67" stroke-linecap="square"/>
</g>
<path d="M126 949L119 949" fill="#000000" stroke="#000000" stroke-width="1.67"/>
<text x="111.2" y="956.9" font-size="21.88" textLength="46.4" lengthAdjust="spacingAndGlyphs" text-anchor="end">0.50</text>
<g clip-path="url(#c3)">
<path d="M126 874L725 874" fill="none" stroke="#b0b0b0" stroke-opacity="0.3" stroke-width="1.67" stroke-linecap="square"/>
</g>
<path d="M126 874L119 874" fill="#000000" stroke="#000000" stroke-width="1.67"/>
<text x="111.2" y="882" font-size="21.88" textLength="46.4" lengthAdjust="spacingAndGlyphs" text-anchor="end">0.75</text>
<g clip-path="url(#c3)">
<path d="M126 799L725 799" fill="none" stroke="#b0b0b0" stroke-opacity="0.3" stroke-width="1.67" stroke-linecap="square"/>
</g>
<path d="M126 799L119 799" fill="#000000" stroke="#000000" stroke-width="1.67"/>
<text x="111.2" y="807.1" font-size="21.88" textLength="46.4" lengthAdjust="spacingAndGlyphs" text-anchor="end">1.00</text>
<text x="34" y="1098.6" font-size="26.25" textLength="69" lengthAdjust="spacingAndGlyphs" text-anchor="middle" transform="rotate(-90 34 1098.6)">Z (m)</text>
<g clip-path="url(#c3)">
<path d="M455.2 1098.6L455.1 1095.7L454.6 1092.8L453.9 1089.9L452.9 1087.1L451.7 1084.5L450.2 1082L448.4 1079.6L446.4 1077.4L444.3 1075.5L441.9 1073.7L439.4 1072.2L436.7 1070.9L434 1069.9L431.1 1069.2L428.2 1068.8L425.3 1068.7L422.3 1068.8L419.4 1069.2L416.6 1069.9L413.8 1070.9L411.2 1072.2L408.6 1073.7L406.3 1075.5L404.1 1077.4L402.1 1079.6L400.4 1082L398.9 1084.5L397.6 1087.1L396.6 1089.9L395.9 1092.8L395.5 1095.7L395.3 1098.6L395.5 1101.5L395.9 1104.4L396.6 1107.3L397.6 1110.1L398.9 1112.7L400.4 1115.2L402.1 1117.6L404.1 1119.8L406.3 1121.8L408.6 1123.5L411.2 1125L413.8 1126.3L416.6 1127.3L419.4 1128L422.3 1128.4L425.3 1128.6L428.2 1128.4L431.1 1128L434 1127.3L436.7 1126.3L439.4 1125L441.9 1123.5L444.3 1121.8L446.4 1119.8L448.4 1117.6L450.2 1115.2L451.7 1112.7L452.9 1110.1L453.9 1107.3L454.6 1104.4L455.1 1101.5" fill="none" stroke="#000000" stroke-opacity="0.5" stroke-width="1.04" stroke-linecap="square"/>
<path d="M523.7 1098.6L523.2 1089L521.8 1079.4L519.4 1070L516.2 1060.9L512.1 1052.2L507.1 1043.9L501.3 1036.2L494.9 1029L487.7 1022.5L479.9 1016.8L471.7 1011.8L462.9 1007.7L453.8 1004.4L444.5 1002.1L434.9 1000.7L425.3 1000.2L415.6 1000.7L406.1 1002.1L396.7 1004.4L387.6 1007.7L378.9 1011.8L370.6 1016.8L362.8 1022.5L355.7 1029L349.2 1036.2L343.5 1043.9L338.5 1052.2L334.4 1060.9L331.1 1070L328.8 1079.4L327.3 1089L326.9 1098.6L327.3 1108.2L328.8 1117.8L331.1 1127.2L334.4 1136.3L338.5 1145L343.5 1153.3L349.2 1161L355.7 1168.2L362.8 1174.7L370.6 1180.4L378.9 1185.4L387.6 1189.5L396.7 1192.8L406.1 1195.1L415.6 1196.5L425.3 1197L434.9 1196.5L444.5 1195.1L453.8 1192.8L462.9 1189.5L471.7 1185.4L479.9 1180.4L487.7 1174.7L494.9 1168.2L501.3 1161L507.1 1153.3L512.1 1145L516.2 1136.3L519.4 1127.2L521.8 1117.8L523.2 1108.2" fill="none" stroke="#000000" stroke-opacity="0.5" stroke-width="1.04" stroke-linecap="square"/>
<path d="M592.1 1098.6L591.3 1082.2L588.9 1066.1L584.9 1050.2L579.4 1034.8L572.4 1020L564 1005.9L554.2 992.8L543.3 980.6L531.1 969.6L518 959.9L503.9 951.5L489.1 944.5L473.7 938.9L457.8 935L441.6 932.6L425.3 931.8L408.9 932.6L392.7 935L376.8 938.9L361.4 944.5L346.6 951.5L332.6 959.9L319.4 969.6L307.3 980.6L296.3 992.8L286.5 1005.9L278.1 1020L271.1 1034.8L265.6 1050.2L261.6 1066.1L259.2 1082.2L258.4 1098.6L259.2 1115L261.6 1131.2L265.6 1147L271.1 1162.5L278.1 1177.3L286.5 1191.3L296.3 1204.5L307.3 1216.6L319.4 1227.6L332.6 1237.3L346.6 1245.8L361.4 1252.8L376.8 1258.3L392.7 1262.3L408.9 1264.7L425.3 1265.5L441.6 1264.7L457.8 1262.3L473.7 1258.3L489.1 1252.8L503.9 1245.8L518 1237.3L531.1 1227.6L543.3 1216.6L554.2 1204.5L564 1191.3L572.4 1177.3L579.4 1162.5L584.9 1147L588.9 1131.2L591.3 1115" fill="none" stroke="#000000" stroke-opacity="0.5" stroke-width="1.04" stroke-linecap="square"/>
<path d="M660.6 1098.6L659.4 1075.5L656.1 1052.7L650.4 1030.3L642.7 1008.6L632.8 987.7L620.9 967.9L607.2 949.3L591.7 932.2L574.5 916.7L556 903L536.2 891.1L515.3 881.2L493.6 873.4L471.2 867.8L448.3 864.4L425.3 863.3L402.2 864.4L379.4 867.8L357 873.4L335.2 881.2L314.3 891.1L294.5 903L276 916.7L258.9 932.2L243.4 949.3L229.6 967.9L217.8 987.7L207.9 1008.6L200.1 1030.3L194.5 1052.7L191.1 1075.5L190 1098.6L191.1 1121.7L194.5 1144.5L200.1 1166.9L207.9 1188.7L217.8 1209.5L229.6 1229.3L243.4 1247.9L258.9 1265L276 1280.5L294.5 1294.3L314.3 1306.1L335.2 1316L357 1323.8L379.4 1329.4L402.2 1332.8L425.3 1333.9L448.3 1332.8L471.2 1329.4L493.6 1323.8L515.3 1316L536.2 1306.1L556 1294.3L574.5 1280.5L591.7 1265L607.2 1247.9L620.9 1229.3L632.8 1209.5L642.7 1188.7L650.4 1166.9L656.1 1144.5L659.4 1121.7" fill="none" stroke="#000000" stroke-opacity="0.5" stroke-width="1.04" stroke-linecap="square"/>
<path d="M724.8 1098.6L723.3 1069.3L719 1040.2L711.9 1011.7L702 984L689.4 957.4L674.3 932.2L656.8 908.6L637 886.8L615.3 867.1L591.7 849.6L566.4 834.5L539.9 821.9L512.2 812L483.7 804.9L454.6 800.6L425.3 799.1L395.9 800.6L366.8 804.9L338.3 812L310.7 821.9L284.1 834.5L258.9 849.6L235.3 867.1L213.5 886.8L193.8 908.6L176.3 932.2L161.2 957.4L148.6 984L138.7 1011.7L131.5 1040.2L127.2 1069.3L125.8 1098.6L127.2 1128L131.5 1157L138.7 1185.5L148.6 1213.2L161.2 1239.8L176.3 1265L193.8 1288.6L213.5 1310.4L235.3 1330.1L258.9 1347.6L284.1 1362.7L310.7 1375.3L338.3 1385.2L366.8 1392.3L395.9 1396.6L425.3 1398.1L454.6 1396.6L483.7 1392.3L512.2 1385.2L539.9 1375.3L566.4 1362.7L591.7 1347.6L615.3 1330.1L637 1310.4L656.8 1288.6L674.3 1265L689.4 1239.8L702 1213.2L711.9 1185.5L719 1157L723.3 1128" fill="none" stroke="#000000" stroke-opacity="0.5" stroke-width="1.04" stroke-linecap="square"/>
</g>
<path d="M126 1398L126 799" fill="none" stroke="#000000" stroke-width="1.67" stroke-linejoin="miter" stroke-linecap="square"/>
<path d="M725 1398L725 799" fill="none" stroke="#000000" stroke-width="1.67" stroke-linejoin="miter" stroke-linecap="square"/>
<path d="M126 1398L725 1398" fill="none" stroke="#000000" stroke-width="1.67" stroke-linejoin="miter" stroke-linecap="square"/>
<path d="M126 799L725 799" fill="none" stroke="#000000" stroke-width="1.67" stroke-linejoin="miter" stroke-linecap="square"/>
<text x="137.8" y="1382.1" font-size="19.69" textLength="130.6" lengthAdjust="spacingAndGlyphs" fill-opacity="0.78">clipped [-1, 1]</text>
<text x="425.3" y="786.6" font-size="30.63" textLength="404.2" lengthAdjust="spacingAndGlyphs" font-weight="bold" text-anchor="middle">Geodesic Curvature (G1)</text>
<path d="M767 1398L797 1398L797 799L767 799z" fill="#ffffff"/>
<g clip-path="url(#c4)">
<path d="M767 1398L797 1398L797 799L767 799z" fill="#f6f7f6" shape-rendering="crispEdges"/>
</g>
<path d="M797 1398L805 1398" fill="#000000" stroke="#000000" stroke-width="1.67"/>
<text x="811.9" y="1406.1" font-size="21.88" textLength="30.8" lengthAdjust="spacingAndGlyphs">−1</text>
<path d="M797 1099L805 1099" fill="#000000" stroke="#000000" stroke-width="1.67"/>
<text x="811.9" y="1106.6" font-size="21.88" textLength="13.2" lengthAdjust="spacingAndGlyphs">0</text>
<path d="M797 799L805 799" fill="#000000" stroke="#000000" stroke-width="1.67"/>
<text x="811.9" y="807.1" font-size="21.88" textLength="13.2" lengthAdjust="spacingAndGlyphs">1</text>
<text x="867" y="1098.6" font-size="21.88" textLength="92.8" lengthAdjust="spacingAndGlyphs" text-anchor="middle" transform="rotate(-90 867 1098.6)">G1 (1/m)</text>
<text x="797.3" y="792.9" font-size="21.88" textLength="70.1" lengthAdjust="spacingAndGlyphs" text-anchor="end">1e−14</text>
<path d="M767 1398L782 1398L797 1398L797 799L782 799L767 799L767 1398z" fill="none" stroke="#000000" stroke-width="1.67" stroke-linejoin="miter" stroke-linecap="square"/>
<path d="M1090 1398L1689 1398L1689 799L1090 799z" fill="#ffffff"/>
<g clip-path="url(#c5)">
<path d="M1420 1099L1419 1096L1419 1093L1418 1090L1417 1087L1416 1084L1414 1082L1413 1080L1411 1077L1409 1075L1406 1074L1404 1072L1401 1071L1398 1070L1395 1069L1393 1069L1390 1069L1387 1069L1384 1069L1381 1070L1378 1071L1375 1072L1373 1074L1371 1075L1368 1077L1366 1080L1365 1082L1363 1084L1362 1087L1361 1090L1360 1093L1360 1096L1360 1099L1360 1102L1360 1104L1361 1107L1362 1110L1363 1113L1365 1115L1366 1118L1368 1120L1371 1122L1373 1124L1375 1125L1378 1126L1381 1127L1384 1128L1387 1128L1390 1129L1393 1128L1395 1128L1398 1127L1401 1126L1404 1125L1406 1124L1409 1122L1411 1120L1413 1118L1414 1115L1416 1113L1417 1110L1418 1107L1419 1104L1419 1102L1424 1102L1428 1102L1432 1103L1436 1103L1441 1104L1445 1104L1449 1104L1453 1105L1458 1105L1462 1106L1466 1106L1470 1107L1475 1107L1479 1107L1483 1108L1488 1108L1492 1109L1496 1109L1500 1110L1505 1110L1509 1110L1513 1111L1517 1111L1522 1112L1526 1112L1530 1112L1534 1113L1539 1113L1543 1114L1547 1114L1551 1115L1556 1115L1560 1115L1564 1116L1568 1116L1573 1117L1577 1117L1581 1117L1585 1118L1590 1118L1594 1119L1598 1119L1602 1120L1607 1120L1611 1120L1615 1121L1619 1121L1624 1122L1628 1122L1632 1123L1637 1123L1641 1123L1645 1124L1649 1124L1654 1125L1658 1125L1662 1125L1666 1126L1671 1126L1675 1127L1679 1127L1683 1128L1688 1128L1683 1157L1676 1186L1666 1213L1654 1240L1639 1265L1621 1289L1601 1310L1580 1330L1556 1348L1531 1363L1504 1375L1477 1385L1448 1392L1419 1397L1390 1398L1360 1397L1331 1392L1303 1385L1275 1375L1248 1363L1223 1348L1200 1330L1178 1310L1158 1289L1141 1265L1125 1240L1113 1213L1103 1186L1096 1157L1092 1128L1090 1099L1092 1069L1096 1040L1103 1012L1113 984L1125 957L1141 932L1158 909L1178 887L1200 867L1223 850L1248 834L1275 822L1303 812L1331 805L1360 801L1390 799L1419 801L1448 805L1477 812L1504 822L1531 834L1556 850L1580 867L1601 887L1621 909L1639 932L1654 957L1666 984L1676 1012L1683 1040L1688 1069L1689 1099L1685 1099L1681 1099L1676 1099L1672 1099L1668 1099L1663 1099L1659 1099L1655 1099L1651 1099L1646 1099L1642 1099L1638 1099L1633 1099L1629 1099L1625 1099L1621 1099L1616 1099L1612 1099L1608 1099L1603 1099L1599 1099L1595 1099L1591 1099L1586 1099L1582 1099L1578 1099L1574 1099L1569 1099L1565 1099L1561 1099L1556 1099L1552 1099L1548 1099L1544 1099L1539 1099L1535 1099L1531 1099L1526 1099L1522 1099L1518 1099L1514 1099L1509 1099L1505 1099L1501 1099L1497 1099L1492 1099L1488 1099L1484 1099L1479 1099L1475 1099L1471 1099L1467 1099L1462 1099L1458 1099L1454 1099L1449 1099L1445 1099L1441 1099L1437 1099L1432 1099L1428 1099L1424 1099z" fill="#f6f7f6" shape-rendering="crispEdges"/>
<path d="M1090 1398L1090 799" fill="none" stroke="#b0b0b0" stroke-opacity="0.3" stroke-width="1.67" stroke-linecap="square"/>
</g>
<path d="M1090 1398L1090 1405" fill="#000000" stroke="#000000" stroke-width="1.67"/>
<text x="1090.1" y="1428.7" font-size="21.88" textLength="46.4" lengthAdjust="spacingAndGlyphs" text-anchor="middle">2.00</text>
<g clip-path="url(#c5)">
<path d="M1165 1398L1165 799" fill="none" stroke="#b0b0b0" stroke-opacity="0.3" stroke-width="1.67" stroke-linecap="square"/>
</g>
<path d="M1165 1398L1165 1405" fill="#000000" stroke="#000000" stroke-width="1.67"/>
<text x="1165" y="1428.7" font-size="21.88" textLength="46.4" lengthAdjust="spacingAndGlyphs" text-anchor="middle">2.25</text>
<g clip-path="url(#c5)">
<path d="M1240 1398L1240 799" fill="none" stroke="#b0b0b0" stroke-opacity="0.3" stroke-width="1.67" stroke-linecap="square"/>
</g>
<path d="M1240 1398L1240 1405" fill="#000000" stroke="#000000" stroke-width="1.67"/>
<text x="1239.8" y="1428.7" font-size="21.88" textLength="46.4" lengthAdjust="spacingAndGlyphs" text-anchor="middle">2.50</text>
<g clip-path="url(#c5)">
<path d="M1315 1398L1315 799" fill="none" stroke="#b0b0b0" stroke-opacity="0.3" stroke-width="1.67" stroke-linecap="square"/>
</g>
<path d="M1315 1398L1315 1405" fill="#000000" stroke="#000000" stroke-width="1.67"/>
<text x="1314.7" y="1428.7" font-size="21.88" textLength="46.4" lengthAdjust="spacingAndGlyphs" text-anchor="middle">2.75</text>
<g clip-path="url(#c5)">
<path d="M1390 1398L1390 799" fill="none" stroke="#b0b0b0" stroke-opacity="0.3" stroke-width="1.67" stroke-linecap="square"/>
</g>
<path d="M1390 1398L1390 1405" fill="#000000" stroke="#000000" stroke-width="1.67"/>
<text x="1389.6" y="1428.7" font-size="21.88" textLength="46.4" lengthAdjust="spacingAndGlyphs" text-anchor="middle">3.00</text>
<g clip-path="url(#c5)">
<path d="M1464 1398L1464 799" fill="none" stroke="#b0b0b0" stroke-opacity="0.3" stroke-width="1.67" stroke-linecap="square"/>
</g>
<path d="M1464 1398L1464 1405" fill="#000000" stroke="#000000" stroke-width="1.67"/>
<text x="1464.4" y="1428.7" font-size="21.88" textLength="46.4" lengthAdjust="spacingAndGlyphs" text-anchor="middle">3.25</text>
<g clip-path="url(#c5)">
<path d="M1539 1398L1539 799" fill="none" stroke="#b0b0b0" stroke-opacity="0.3" stroke-width="1.67" stroke-linecap="square"/>
</g>
<path d="M1539 1398L1539 1405" fill="#000000" stroke="#000000" stroke-width="1.67"/>
<text x="1539.3" y="1428.7" font-size="21.88" textLength="46.4" lengthAdjust="spacingAndGlyphs" text-anchor="middle">3.50</text>
<g clip-path="url(#c5)">
<path d="M1614 1398L1614 799" fill="none" stroke="#b0b0b0" stroke-opacity="0.3" stroke-width="1.67" stroke-linecap="square"/>
</g>
<path d="M1614 1398L1614 1405" fill="#000000" stroke="#000000" stroke-width="1.67"/>
<text x="1614.2" y="1428.7" font-size="21.88" textLength="46.4" lengthAdjust="spacingAndGlyphs" text-anchor="middle">3.75</text>
<g clip-path="url(#c5)">
<path d="M1689 1398L1689 799" fill="none" stroke="#b0b0b0" stroke-opacity="0.3" stroke-width="1.67" stroke-linecap="square"/>
</g>
<path d="M1689 1398L1689 1405" fill="#000000" stroke="#000000" stroke-width="1.67"/>
<text x="1689.1" y="1428.7" font-size="21.88" textLength="46.4" lengthAdjust="spacingAndGlyphs" text-anchor="middle">4.00</text>
<text x="1389.6" y="1460" font-size="26.25" textLength="69.2" lengthAdjust="spacingAndGlyphs" text-anchor="middle">R (m)</text>
<g clip-path="url(#c5)">
<path d="M1090 1398L1689 1398" fill="none" stroke="#b0b0b0" stroke-opacity="0.3" stroke-width="1.67" stroke-linecap="square"/>
</g>
<path d="M1090 1398L1083 1398" fill="#000000" stroke="#000000" stroke-width="1.67"/>
<text x="1075.5" y="1406.1" font-size="21.88" textLength="63.9" lengthAdjust="spacingAndGlyphs" text-anchor="end">−1.00</text>
<g clip-path="url(#c5)">
<path d="M1090 1323L1689 1323" fill="none" stroke="#b0b0b0" stroke-opacity="0.3" stroke-width="1.67" stroke-linecap="square"/>
</g>
<path d="M1090 1323L1083 1323" fill="#000000" stroke="#000000" stroke-width="1.67"/>
<text x="1075.5" y="1331.2" font-size="21.88" textLength="63.9" lengthAdjust="spacingAndGlyphs" text-anchor="end">−0.75</text>
<g clip-path="url(#c5)">
<path d="M1090 1248L1689 1248" fill="none" stroke="#b0b0b0" stroke-opacity="0.3" stroke-width="1.67" stroke-linecap="square"/>
</g>
<path d="M1090 1248L1083 1248" fill="#000000" stroke="#000000" stroke-width="1.67"/>
<text x="1075.5" y="1256.3" font-size="21.88" textLength="63.9" lengthAdjust="spacingAndGlyphs" text-anchor="end">−0.50</text>
<g clip-path="url(#c5)">
<path d="M1090 1173L1689 1173" fill="none" stroke="#b0b0b0" stroke-opacity="0.3" stroke-width="1.67" stroke-linecap="square"/>
</g>
<path d="M1090 1173L1083 1173" fill="#000000" stroke="#000000" stroke-width="1.67"/>
<text x="1075.5" y="1181.5" font-size="21.88" textLength="63.9" lengthAdjust="spacingAndGlyphs" text-anchor="end">−0.25</text>
<g clip-path="url(#c5)">
<path d="M1090 1099L1689 1099" fill="none" stroke="#b0b0b0" stroke-opacity="0.3" stroke-width="1.67" stroke-linecap="square"/>
</g>
<path d="M1090 1099L1083 1099" fill="#000000" stroke="#000000" stroke-width="1.67"/>
<text x="1075.5" y="1106.6" font-size="21.88" textLength="46.4" lengthAdjust="spacingAndGlyphs" text-anchor="end">0.00</text>
<g clip-path="url(#c5)">
<path d="M1090 1024L1689 1024" fill="none" stroke="#b0b0b0" stroke-opacity="0.3" stroke-width="1.67" stroke-linecap="square"/>
</g>
<path d="M1090 1024L1083 1024" fill="#000000" stroke="#000000" stroke-width="1.67"/>
<text x="1075.5" y="1031.7" font-size="21.88" textLength="46.4" lengthAdjust="spacingAndGlyphs" text-anchor="end">0.25</text>
<g clip-path="url(#c5)">
<path d="M1090 949L1689 949" fill="none" stroke="#b0b0b0" stroke-opacity="0.3" stroke-width="1.67" stroke-linecap="square"/>
</g>
<path d="M1090 949L1083 949" fill="#000000" stroke="#000000" stroke-width="1.67"/>
<text x="1075.5" y="956.9" font-size="21.88" textLength="46.4" lengthAdjust="spacingAndGlyphs" text-anchor="end">0.50</text>
<g clip-path="url(#c5)">
<path d="M1090 874L1689 874" fill="none" stroke="#b0b0b0" stroke-opacity="0.3" stroke-width="1.67" stroke-linecap="square"/>
</g>
<path d="M1090 874L1083 874" fill="#000000" stroke="#000000" stroke-width="1.67"/>
<text x="1075.5" y="882" font-size="21.88" textLength="46.4" lengthAdjust="spacingAndGlyphs" text-anchor="end">0.75</text>
<g clip-path="url(#c5)">
<path d="M1090 799L1689 799" fill="none" stroke="#b0b0b0" stroke-opacity="0.3" stroke-width="1.67" stroke-linecap="square"/>
</g>
<path d="M1090 799L1083 799" fill="#000000" stroke="#000000" stroke-width="1.67"/>
<text x="1075.5" y="807.1" font-size="21.88" textLength="46.4" lengthAdjust="spacingAndGlyphs" text-anchor="end">1.00</text>
<text x="998.3" y="1098.6" font-size="26.25" textLength="69" lengthAdjust="spacingAndGlyphs" text-anchor="middle" transform="rotate(-90 998.3 1098.6)">Z (m)</text>
<g clip-path="url(#c5)">
<path d="M1419.5 1098.6L1419.4 1095.7L1419 1092.8L1418.2 1089.9L1417.2 1087.1L1416 1084.5L1414.5 1082L1412.7 1079.6L1410.8 1077.4L1408.6 1075.5L1406.2 1073.7L1403.7 1072.2L1401 1070.9L1398.3 1069.9L1395.4 1069.2L1392.5 1068.8L1389.6 1068.7L1386.6 1068.8L1383.7 1069.2L1380.9 1069.9L1378.1 1070.9L1375.5 1072.2L1372.9 1073.7L1370.6 1075.5L1368.4 1077.4L1366.4 1079.6L1364.7 1082L1363.2 1084.5L1361.9 1087.1L1360.9 1089.9L1360.2 1092.8L1359.8 1095.7L1359.6 1098.6L1359.8 1101.5L1360.2 1104.4L1360.9 1107.3L1361.9 1110.1L1363.2 1112.7L1364.7 1115.2L1366.4 1117.6L1368.4 1119.8L1370.6 1121.8L1372.9 1123.5L1375.5 1125L1378.1 1126.3L1380.9 1127.3L1383.7 1128L1386.6 1128.4L1389.6 1128.6L1392.5 1128.4L1395.4 1128L1398.3 1127.3L1401 1126.3L1403.7 1125L1406.2 1123.5L1408.6 1121.8L1410.8 1119.8L1412.7 1117.6L1414.5 1115.2L1416 1112.7L1417.2 1110.1L1418.2 1107.3L1419 1104.4L1419.4 1101.5" fill="none" stroke="#000000" stroke-opacity="0.5" stroke-width="1.04" stroke-linecap="square"/>
<path d="M1488 1098.6L1487.5 1089L1486.1 1079.4L1483.7 1070L1480.5 1060.9L1476.4 1052.2L1471.4 1043.9L1465.6 1036.2L1459.2 1029L1452 1022.5L1444.2 1016.8L1436 1011.8L1427.2 1007.7L1418.1 1004.4L1408.8 1002.1L1399.2 1000.7L1389.6 1000.2L1379.9 1000.7L1370.4 1002.1L1361 1004.4L1351.9 1007.7L1343.2 1011.8L1334.9 1016.8L1327.2 1022.5L1320 1029L1313.5 1036.2L1307.8 1043.9L1302.8 1052.2L1298.7 1060.9L1295.4 1070L1293.1 1079.4L1291.7 1089L1291.2 1098.6L1291.7 1108.2L1293.1 1117.8L1295.4 1127.2L1298.7 1136.3L1302.8 1145L1307.8 1153.3L1313.5 1161L1320 1168.2L1327.2 1174.7L1334.9 1180.4L1343.2 1185.4L1351.9 1189.5L1361 1192.8L1370.4 1195.1L1379.9 1196.5L1389.6 1197L1399.2 1196.5L1408.8 1195.1L1418.1 1192.8L1427.2 1189.5L1436 1185.4L1444.2 1180.4L1452 1174.7L1459.2 1168.2L1465.6 1161L1471.4 1153.3L1476.4 1145L1480.5 1136.3L1483.7 1127.2L1486.1 1117.8L1487.5 1108.2" fill="none" stroke="#000000" stroke-opacity="0.5" stroke-width="1.04" stroke-linecap="square"/>
<path d="M1556.4 1098.6L1555.6 1082.2L1553.2 1066.1L1549.2 1050.2L1543.7 1034.8L1536.7 1020L1528.3 1005.9L1518.6 992.8L1507.6 980.6L1495.4 969.6L1482.3 959.9L1468.2 951.5L1453.4 944.5L1438 938.9L1422.1 935L1405.9 932.6L1389.6 931.8L1373.2 932.6L1357 935L1341.1 938.9L1325.7 944.5L1310.9 951.5L1296.9 959.9L1283.7 969.6L1271.6 980.6L1260.6 992.8L1250.8 1005.9L1242.4 1020L1235.4 1034.8L1229.9 1050.2L1225.9 1066.1L1223.5 1082.2L1222.7 1098.6L1223.5 1115L1225.9 1131.2L1229.9 1147L1235.4 1162.5L1242.4 1177.3L1250.8 1191.3L1260.6 1204.5L1271.6 1216.6L1283.7 1227.6L1296.9 1237.3L1310.9 1245.8L1325.7 1252.8L1341.1 1258.3L1357 1262.3L1373.2 1264.7L1389.6 1265.5L1405.9 1264.7L1422.1 1262.3L1438 1258.3L1453.4 1252.8L1468.2 1245.8L1482.3 1237.3L1495.4 1227.6L1507.6 1216.6L1518.6 1204.5L1528.3 1191.3L1536.7 1177.3L1543.7 1162.5L1549.2 1147L1553.2 1131.2L1555.6 1115" fill="none" stroke="#000000" stroke-opacity="0.5" stroke-width="1.04" stroke-linecap="square"/>
<path d="M1624.9 1098.6L1623.8 1075.5L1620.4 1052.7L1614.8 1030.3L1607 1008.6L1597.1 987.7L1585.2 967.9L1571.5 949.3L1556 932.2L1538.9 916.7L1520.3 903L1500.5 891.1L1479.6 881.2L1457.9 873.4L1435.5 867.8L1412.6 864.4L1389.6 863.3L1366.5 864.4L1343.7 867.8L1321.3 873.4L1299.5 881.2L1278.7 891.1L1258.9 903L1240.3 916.7L1223.2 932.2L1207.7 949.3L1193.9 967.9L1182.1 987.7L1172.2 1008.6L1164.4 1030.3L1158.8 1052.7L1155.4 1075.5L1154.3 1098.6L1155.4 1121.7L1158.8 1144.5L1164.4 1166.9L1172.2 1188.7L1182.1 1209.5L1193.9 1229.3L1207.7 1247.9L1223.2 1265L1240.3 1280.5L1258.9 1294.3L1278.7 1306.1L1299.5 1316L1321.3 1323.8L1343.7 1329.4L1366.5 1332.8L1389.6 1333.9L1412.6 1332.8L1435.5 1329.4L1457.9 1323.8L1479.6 1316L1500.5 1306.1L1520.3 1294.3L1538.9 1280.5L1556 1265L1571.5 1247.9L1585.2 1229.3L1597.1 1209.5L1607 1188.7L1614.8 1166.9L1620.4 1144.5L1623.8 1121.7" fill="none" stroke="#000000" stroke-opacity="0.5" stroke-width="1.04" stroke-linecap="square"/>
<path d="M1689.1 1098.6L1687.6 1069.3L1683.3 1040.2L1676.2 1011.7L1666.3 984L1653.7 957.4L1638.6 932.2L1621.1 908.6L1601.3 886.8L1579.6 867.1L1556 849.6L1530.8 834.5L1504.2 821.9L1476.5 812L1448 804.9L1418.9 800.6L1389.6 799.1L1360.2 800.6L1331.2 804.9L1302.6 812L1275 821.9L1248.4 834.5L1223.2 849.6L1199.6 867.1L1177.8 886.8L1158.1 908.6L1140.6 932.2L1125.5 957.4L1112.9 984L1103 1011.7L1095.9 1040.2L1091.5 1069.3L1090.1 1098.6L1091.5 1128L1095.9 1157L1103 1185.5L1112.9 1213.2L1125.5 1239.8L1140.6 1265L1158.1 1288.6L1177.8 1310.4L1199.6 1330.1L1223.2 1347.6L1248.4 1362.7L1275 1375.3L1302.6 1385.2L1331.2 1392.3L1360.2 1396.6L1389.6 1398.1L1418.9 1396.6L1448 1392.3L1476.5 1385.2L1504.2 1375.3L1530.8 1362.7L1556 1347.6L1579.6 1330.1L1601.3 1310.4L1621.1 1288.6L1638.6 1265L1653.7 1239.8L1666.3 1213.2L1676.2 1185.5L1683.3 1157L1687.6 1128" fill="none" stroke="#000000" stroke-opacity="0.5" stroke-width="1.04" stroke-linecap="square"/>
</g>
<path d="M1090 1398L1090 799" fill="none" stroke="#000000" stroke-width="1.67" stroke-linejoin="miter" stroke-linecap="square"/>
<path d="M1689 1398L1689 799" fill="none" stroke="#000000" stroke-width="1.67" stroke-linejoin="miter" stroke-linecap="square"/>
<path d="M1090 1398L1689 1398" fill="none" stroke="#000000" stroke-width="1.67" stroke-linejoin="miter" stroke-linecap="square"/>
<path d="M1090 799L1689 799" fill="none" stroke="#000000" stroke-width="1.67" stroke-linejoin="miter" stroke-linecap="square"/>
<text x="1102.1" y="1382.1" font-size="19.69" textLength="130.6" lengthAdjust="spacingAndGlyphs" fill-opacity="0.78">clipped [-1, 1]</text>
<text x="1389.6" y="786.6" font-size="30.63" textLength="373.6" lengthAdjust="spacingAndGlyphs" font-weight="bold" text-anchor="middle">Normal Curvature (G2)</text>
<path d="M1732 1398L1762 1398L1762 799L1732 799z" fill="#ffffff"/>
<g clip-path="url(#c6)">
<path d="M1732 1398L1762 1398L1762 799L1732 799z" fill="#f6f7f6" shape-rendering="crispEdges"/>
</g>
<path d="M1762 1398L1769 1398" fill="#000000" stroke="#000000" stroke-width="1.67"/>
<text x="1776.2" y="1406.1" font-size="21.88" textLength="30.8" lengthAdjust="spacingAndGlyphs">−1</text>
<path d="M1762 1099L1769 1099" fill="#000000" stroke="#000000" stroke-width="1.67"/>
<text x="1776.2" y="1106.6" font-size="21.88" textLength="13.2" lengthAdjust="spacingAndGlyphs">0</text>
<path d="M1762 799L1769 799" fill="#000000" stroke="#000000" stroke-width="1.67"/>
<text x="1776.2" y="807.1" font-size="21.88" textLength="13.2" lengthAdjust="spacingAndGlyphs">1</text>
<text x="1831.3" y="1098.6" font-size="21.88" textLength="92.8" lengthAdjust="spacingAndGlyphs" text-anchor="middle" transform="rotate(-90 1831.3 1098.6)">G2 (1/m)</text>
<text x="1761.6" y="792.9" font-size="21.88" textLength="70.1" lengthAdjust="spacingAndGlyphs" text-anchor="end">1e−14</text>
<path d="M1732 1398L1747 1398L1762 1398L1762 799L1747 799L1732 799L1732 1398z" fill="none" stroke="#000000" stroke-width="1.67" stroke-linejoin="miter" stroke-linecap="square"/>
<path d="M2054 1398L2653 1398L2653 799L2054 799z" fill="#ffffff"/>
<g clip-path="url(#c7)">
<path d="M2384 1099L2384 1096L2383 1093L2383 1090L2382 1087L2380 1084L2379 1082L2377 1080L2375 1077L2373 1075L2371 1074L2368 1072L2365 1071L2363 1070L2360 1069L2357 1069L2354 1069L2351 1069L2348 1069L2345 1070L2342 1071L2340 1072L2337 1074L2335 1075L2333 1077L2331 1080L2329 1082L2327 1084L2326 1087L2325 1090L2325 1093L2324 1096L2324 1099L2324 1102L2325 1104L2325 1107L2326 1110L2327 1113L2329 1115L2331 1118L2333 1120L2335 1122L2337 1124L2340 1125L2342 1126L2345 1127L2348 1128L2351 1128L2354 1129L2357 1128L2360 1128L2363 1127L2365 1126L2368 1125L2371 1124L2373 1122L2375 1120L2377 1118L2379 1115L2380 1113L2382 1110L2383 1107L2383 1104L2384 1102L2388 1102L2392 1102L2396 1103L2401 1103L2405 1104L2409 1104L2413 1104L2418 1105L2422 1105L2426 1106L2431 1106L2435 1107L2439 1107L2443 1107L2448 1108L2452 1108L2456 1109L2460 1109L2465 1110L2469 1110L2473 1110L2477 1111L2482 1111L2486 1112L2490 1112L2494 1112L2499 1113L2503 1113L2507 1114L2511 1114L2516 1115L2520 1115L2524 1115L2528 1116L2533 1116L2537 1117L2541 1117L2545 1117L2550 1118L2554 1118L2558 1119L2563 1119L2567 1120L2571 1120L2575 1120L2580 1121L2584 1121L2588 1122L2592 1122L2597 1123L2601 1123L2605 1123L2609 1124L2614 1124L2618 1125L2622 1125L2626 1125L2631 1126L2635 1126L2639 1127L2643 1127L2648 1128L2652 1128L2648 1157L2640 1186L2631 1213L2618 1240L2603 1265L2585 1289L2566 1310L2544 1330L2520 1348L2495 1363L2468 1375L2441 1385L2412 1392L2383 1397L2354 1398L2325 1397L2295 1392L2267 1385L2239 1375L2213 1363L2188 1348L2164 1330L2142 1310L2122 1289L2105 1265L2090 1240L2077 1213L2067 1186L2060 1157L2056 1128L2054 1099L2056 1069L2060 1040L2067 1012L2077 984L2090 957L2105 932L2122 909L2142 887L2164 867L2188 850L2213 834L2239 822L2267 812L2295 805L2325 801L2354 799L2383 801L2412 805L2441 812L2468 822L2495 834L2520 850L2544 867L2566 887L2585 909L2603 932L2618 957L2631 984L2640 1012L2648 1040L2652 1069L2653 1099L2649 1099L2645 1099L2641 1099L2636 1099L2632 1099L2628 1099L2623 1099L2619 1099L2615 1099L2611 1099L2606 1099L2602 1099L2598 1099L2593 1099L2589 1099L2585 1099L2581 1099L2576 1099L2572 1099L2568 1099L2564 1099L2559 1099L2555 1099L2551 1099L2546 1099L2542 1099L2538 1099L2534 1099L2529 1099L2525 1099L2521 1099L2516 1099L2512 1099L2508 1099L2504 1099L2499 1099L2495 1099L2491 1099L2487 1099L2482 1099L2478 1099L2474 1099L2469 1099L2465 1099L2461 1099L2457 1099L2452 1099L2448 1099L2444 1099L2439 1099L2435 1099L2431 1099L2427 1099L2422 1099L2418 1099L2414 1099L2410 1099L2405 1099L2401 1099L2397 1099L2392 1099L2388 1099z" fill="#21918c" shape-rendering="crispEdges"/>
<path d="M2054 1398L2054 799" fill="none" stroke="#b0b0b0" stroke-opacity="0.3" stroke-width="1.67" stroke-linecap="square"/>
</g>
<path d="M2054 1398L2054 1405" fill="#000000" stroke="#000000" stroke-width="1.67"/>
<text x="2054.4" y="1428.7" font-size="21.88" textLength="46.4" lengthAdjust="spacingAndGlyphs" text-anchor="middle">2.00</text>
<g clip-path="url(#c7)">
<path d="M2129 1398L2129 799" fill="none" stroke="#b0b0b0" stroke-opacity="0.3" stroke-width="1.67" stroke-linecap="square"/>
</g>
<path d="M2129 1398L2129 1405" fill="#000000" stroke="#000000" stroke-width="1.67"/>
<text x="2129.3" y="1428.7" font-size="21.88" textLength="46.4" lengthAdjust="spacingAndGlyphs" text-anchor="middle">2.25</text>
<g clip-path="url(#c7)">
<path d="M2204 1398L2204 799" fill="none" stroke="#b0b0b0" stroke-opacity="0.3" stroke-width="1.67" stroke-linecap="square"/>
</g>
<path d="M2204 1398L2204 1405" fill="#000000" stroke="#000000" stroke-width="1.67"/>
<text x="2204.1" y="1428.7" font-size="21.88" textLength="46.4" lengthAdjust="spacingAndGlyphs" text-anchor="middle">2.50</text>
<g clip-path="url(#c7)">
<path d="M2279 1398L2279 799" fill="none" stroke="#b0b0b0" stroke-opacity="0.3" stroke-width="1.67" stroke-linecap="square"/>
</g>
<path d="M2279 1398L2279 1405" fill="#000000" stroke="#000000" stroke-width="1.67"/>
<text x="2279" y="1428.7" font-size="21.88" textLength="46.4" lengthAdjust="spacingAndGlyphs" text-anchor="middle">2.75</text>
<g clip-path="url(#c7)">
<path d="M2354 1398L2354 799" fill="none" stroke="#b0b0b0" stroke-opacity="0.3" stroke-width="1.67" stroke-linecap="square"/>
</g>
<path d="M2354 1398L2354 1405" fill="#000000" stroke="#000000" stroke-width="1.67"/>
<text x="2353.9" y="1428.7" font-size="21.88" textLength="46.4" lengthAdjust="spacingAndGlyphs" text-anchor="middle">3.00</text>
<g clip-path="url(#c7)">
<path d="M2429 1398L2429 799" fill="none" stroke="#b0b0b0" stroke-opacity="0.3" stroke-width="1.67" stroke-linecap="square"/>
</g>
<path d="M2429 1398L2429 1405" fill="#000000" stroke="#000000" stroke-width="1.67"/>
<text x="2428.8" y="1428.7" font-size="21.88" textLength="46.4" lengthAdjust="spacingAndGlyphs" text-anchor="middle">3.25</text>
<g clip-path="url(#c7)">
<path d="M2504 1398L2504 799" fill="none" stroke="#b0b0b0" stroke-opacity="0.3" stroke-width="1.67" stroke-linecap="square"/>
</g>
<path d="M2504 1398L2504 1405" fill="#000000" stroke="#000000" stroke-width="1.67"/>
<text x="2503.6" y="1428.7" font-size="21.88" textLength="46.4" lengthAdjust="spacingAndGlyphs" text-anchor="middle">3.50</text>
<g clip-path="url(#c7)">
<path d="M2578 1398L2578 799" fill="none" stroke="#b0b0b0" stroke-opacity="0.3" stroke-width="1.67" stroke-linecap="square"/>
</g>
<path d="M2578 1398L2578 1405" fill="#000000" stroke="#000000" stroke-width="1.67"/>
<text x="2578.5" y="1428.7" font-size="21.88" textLength="46.4" lengthAdjust="spacingAndGlyphs" text-anchor="middle">3.75</text>
<g clip-path="url(#c7)">
<path d="M2653 1398L2653 799" fill="none" stroke="#b0b0b0" stroke-opacity="0.3" stroke-width="1.67" stroke-linecap="square"/>
</g>
<path d="M2653 1398L2653 1405" fill="#000000" stroke="#000000" stroke-width="1.67"/>
<text x="2653.4" y="1428.7" font-size="21.88" textLength="46.4" lengthAdjust="spacingAndGlyphs" text-anchor="middle">4.00</text>
<text x="2353.9" y="1460" font-size="26.25" textLength="69.2" lengthAdjust="spacingAndGlyphs" text-anchor="middle">R (m)</text>
<g clip-path="url(#c7)">
<path d="M2054 1398L2653 1398" fill="none" stroke="#b0b0b0" stroke-opacity="0.3" stroke-width="1.67" stroke-linecap="square"/>
</g>
<path d="M2054 1398L2047 1398" fill="#000000" stroke="#000000" stroke-width="1.67"/>
<text x="2039.8" y="1406.1" font-size="21.88" textLength="63.9" lengthAdjust="spacingAndGlyphs" text-anchor="end">−1.00</text>
<g clip-path="url(#c7)">
<path d="M2054 1323L2653 1323" fill="none" stroke="#b0b0b0" stroke-opacity="0.3" stroke-width="1.67" stroke-linecap="square"/>
</g>
<path d="M2054 1323L2047 1323" fill="#000000" stroke="#000000" stroke-width="1.67"/>
<text x="2039.8" y="1331.2" font-size="21.88" textLength="63.9" lengthAdjust="spacingAndGlyphs" text-anchor="end">−0.75</text>
<g clip-path="url(#c7)">
<path d="M2054 1248L2653 1248" fill="none" stroke="#b0b0b0" stroke-opacity="0.3" stroke-width="1.67" stroke-linecap="square"/>
</g>
<path d="M2054 1248L2047 1248" fill="#000000" stroke="#000000" stroke-width="1.67"/>
<text x="2039.8" y="1256.3" font-size="21.88" textLength="63.9" lengthAdjust="spacingAndGlyphs" text-anchor="end">−0.50</text>
<g clip-path="url(#c7)">
<path d="M2054 1173L2653 1173" fill="none" stroke="#b0b0b0" stroke-opacity="0.3" stroke-width="1.67" stroke-linecap="square"/>
</g>
<path d="M2054 1173L2047 1173" fill="#000000" stroke="#000000" stroke-width="1.67"/>
<text x="2039.8" y="1181.5" font-size="21.88" textLength="63.9" lengthAdjust="spacingAndGlyphs" text-anchor="end">−0.25</text>
<g clip-path="url(#c7)">
<path d="M2054 1099L2653 1099" fill="none" stroke="#b0b0b0" stroke-opacity="0.3" stroke-width="1.67" stroke-linecap="square"/>
</g>
<path d="M2054 1099L2047 1099" fill="#000000" stroke="#000000" stroke-width="1.67"/>
<text x="2039.8" y="1106.6" font-size="21.88" textLength="46.4" lengthAdjust="spacingAndGlyphs" text-anchor="end">0.00</text>
<g clip-path="url(#c7)">
<path d="M2054 1024L2653 1024" fill="none" stroke="#b0b0b0" stroke-opacity="0.3" stroke-width="1.67" stroke-linecap="square"/>
</g>
<path d="M2054 1024L2047 1024" fill="#000000" stroke="#000000" stroke-width="1.67"/>
<text x="2039.8" y="1031.7" font-size="21.88" textLength="46.4" lengthAdjust="spacingAndGlyphs" text-anchor="end">0.25</text>
<g clip-path="url(#c7)">
<path d="M2054 949L2653 949" fill="none" stroke="#b0b0b0" stroke-opacity="0.3" stroke-width="1.67" stroke-linecap="square"/>
</g>
<path d="M2054 949L2047 949" fill="#000000" stroke="#000000" stroke-width="1.67"/>
<text x="2039.8" y="956.9" font-size="21.88" textLength="46.4" lengthAdjust="spacingAndGlyphs" text-anchor="end">0.50</text>
<g clip-path="url(#c7)">
<path d="M2054 874L2653 874" fill="none" stroke="#b0b0b0" stroke-opacity="0.3" stroke-width="1.67" stroke-linecap="square"/>
</g>
<path d="M2054 874L2047 874" fill="#000000" stroke="#000000" stroke-width="1.67"/>
<text x="2039.8" y="882" font-size="21.88" textLength="46.4" lengthAdjust="spacingAndGlyphs" text-anchor="end">0.75</text>
<g clip-path="url(#c7)">
<path d="M2054 799L2653 799" fill="none" stroke="#b0b0b0" stroke-opacity="0.3" stroke-width="1.67" stroke-linecap="square"/>
</g>
<path d="M2054 799L2047 799" fill="#000000" stroke="#000000" stroke-width="1.67"/>
<text x="2039.8" y="807.1" font-size="21.88" textLength="46.4" lengthAdjust="spacingAndGlyphs" text-anchor="end">1.00</text>
<text x="1962.6" y="1098.6" font-size="26.25" textLength="69" lengthAdjust="spacingAndGlyphs" text-anchor="middle" transform="rotate(-90 1962.6 1098.6)">Z (m)</text>
<g clip-path="url(#c7)">
<path d="M2383.8 1098.6L2383.7 1095.7L2383.3 1092.8L2382.5 1089.9L2381.6 1087.1L2380.3 1084.5L2378.8 1082L2377 1079.6L2375.1 1077.4L2372.9 1075.5L2370.5 1073.7L2368 1072.2L2365.3 1070.9L2362.6 1069.9L2359.7 1069.2L2356.8 1068.8L2353.9 1068.7L2351 1068.8L2348 1069.2L2345.2 1069.9L2342.4 1070.9L2339.8 1072.2L2337.3 1073.7L2334.9 1075.5L2332.7 1077.4L2330.7 1079.6L2329 1082L2327.5 1084.5L2326.2 1087.1L2325.2 1089.9L2324.5 1092.8L2324.1 1095.7L2323.9 1098.6L2324.1 1101.5L2324.5 1104.4L2325.2 1107.3L2326.2 1110.1L2327.5 1112.7L2329 1115.2L2330.7 1117.6L2332.7 1119.8L2334.9 1121.8L2337.3 1123.5L2339.8 1125L2342.4 1126.3L2345.2 1127.3L2348 1128L2351 1128.4L2353.9 1128.6L2356.8 1128.4L2359.7 1128L2362.6 1127.3L2365.3 1126.3L2368 1125L2370.5 1123.5L2372.9 1121.8L2375.1 1119.8L2377 1117.6L2378.8 1115.2L2380.3 1112.7L2381.6 1110.1L2382.5 1107.3L2383.3 1104.4L2383.7 1101.5" fill="none" stroke="#000000" stroke-opacity="0.5" stroke-width="1.04" stroke-linecap="square"/>
<path d="M2452.3 1098.6L2451.8 1089L2450.4 1079.4L2448.1 1070L2444.8 1060.9L2440.7 1052.2L2435.7 1043.9L2430 1036.2L2423.5 1029L2416.3 1022.5L2408.6 1016.8L2400.3 1011.8L2391.5 1007.7L2382.5 1004.4L2373.1 1002.1L2363.5 1000.7L2353.9 1000.2L2344.2 1000.7L2334.7 1002.1L2325.3 1004.4L2316.2 1007.7L2307.5 1011.8L2299.2 1016.8L2291.5 1022.5L2284.3 1029L2277.8 1036.2L2272.1 1043.9L2267.1 1052.2L2263 1060.9L2259.7 1070L2257.4 1079.4L2256 1089L2255.5 1098.6L2256 1108.2L2257.4 1117.8L2259.7 1127.2L2263 1136.3L2267.1 1145L2272.1 1153.3L2277.8 1161L2284.3 1168.2L2291.5 1174.7L2299.2 1180.4L2307.5 1185.4L2316.2 1189.5L2325.3 1192.8L2334.7 1195.1L2344.2 1196.5L2353.9 1197L2363.5 1196.5L2373.1 1195.1L2382.5 1192.8L2391.5 1189.5L2400.3 1185.4L2408.6 1180.4L2416.3 1174.7L2423.5 1168.2L2430 1161L2435.7 1153.3L2440.7 1145L2444.8 1136.3L2448.1 1127.2L2450.4 1117.8L2451.8 1108.2" fill="none" stroke="#000000" stroke-opacity="0.5" stroke-width="1.04" stroke-linecap="square"/>
<path d="M2520.7 1098.6L2519.9 1082.2L2517.5 1066.1L2513.6 1050.2L2508 1034.8L2501 1020L2492.6 1005.9L2482.9 992.8L2471.9 980.6L2459.7 969.6L2446.6 959.9L2432.5 951.5L2417.7 944.5L2402.3 938.9L2386.4 935L2370.2 932.6L2353.9 931.8L2337.5 932.6L2321.3 935L2305.5 938.9L2290 944.5L2275.2 951.5L2261.2 959.9L2248 969.6L2235.9 980.6L2224.9 992.8L2215.2 1005.9L2206.7 1020L2199.7 1034.8L2194.2 1050.2L2190.2 1066.1L2187.8 1082.2L2187 1098.6L2187.8 1115L2190.2 1131.2L2194.2 1147L2199.7 1162.5L2206.7 1177.3L2215.2 1191.3L2224.9 1204.5L2235.9 1216.6L2248 1227.6L2261.2 1237.3L2275.2 1245.8L2290 1252.8L2305.5 1258.3L2321.3 1262.3L2337.5 1264.7L2353.9 1265.5L2370.2 1264.7L2386.4 1262.3L2402.3 1258.3L2417.7 1252.8L2432.5 1245.8L2446.6 1237.3L2459.7 1227.6L2471.9 1216.6L2482.9 1204.5L2492.6 1191.3L2501 1177.3L2508 1162.5L2513.6 1147L2517.5 1131.2L2519.9 1115" fill="none" stroke="#000000" stroke-opacity="0.5" stroke-width="1.04" stroke-linecap="square"/>
<path d="M2589.2 1098.6L2588.1 1075.5L2584.7 1052.7L2579.1 1030.3L2571.3 1008.6L2561.4 987.7L2549.5 967.9L2535.8 949.3L2520.3 932.2L2503.2 916.7L2484.6 903L2464.8 891.1L2443.9 881.2L2422.2 873.4L2399.8 867.8L2377 864.4L2353.9 863.3L2330.8 864.4L2308 867.8L2285.6 873.4L2263.8 881.2L2243 891.1L2223.2 903L2204.6 916.7L2187.5 932.2L2172 949.3L2158.2 967.9L2146.4 987.7L2136.5 1008.6L2128.7 1030.3L2123.1 1052.7L2119.7 1075.5L2118.6 1098.6L2119.7 1121.7L2123.1 1144.5L2128.7 1166.9L2136.5 1188.7L2146.4 1209.5L2158.2 1229.3L2172 1247.9L2187.5 1265L2204.6 1280.5L2223.2 1294.3L2243 1306.1L2263.8 1316L2285.6 1323.8L2308 1329.4L2330.8 1332.8L2353.9 1333.9L2377 1332.8L2399.8 1329.4L2422.2 1323.8L2443.9 1316L2464.8 1306.1L2484.6 1294.3L2503.2 1280.5L2520.3 1265L2535.8 1247.9L2549.5 1229.3L2561.4 1209.5L2571.3 1188.7L2579.1 1166.9L2584.7 1144.5L2588.1 1121.7" fill="none" stroke="#000000" stroke-opacity="0.5" stroke-width="1.04" stroke-linecap="square"/>
<path d="M2653.4 1098.6L2651.9 1069.3L2647.6 1040.2L2640.5 1011.7L2630.6 984L2618 957.4L2602.9 932.2L2585.4 908.6L2565.7 886.8L2543.9 867.1L2520.3 849.6L2495.1 834.5L2468.5 821.9L2440.8 812L2412.3 804.9L2383.2 800.6L2353.9 799.1L2324.5 800.6L2295.5 804.9L2267 812L2239.3 821.9L2212.7 834.5L2187.5 849.6L2163.9 867.1L2142.1 886.8L2122.4 908.6L2104.9 932.2L2089.8 957.4L2077.2 984L2067.3 1011.7L2060.2 1040.2L2055.9 1069.3L2054.4 1098.6L2055.9 1128L2060.2 1157L2067.3 1185.5L2077.2 1213.2L2089.8 1239.8L2104.9 1265L2122.4 1288.6L2142.1 1310.4L2163.9 1330.1L2187.5 1347.6L2212.7 1362.7L2239.3 1375.3L2267 1385.2L2295.5 1392.3L2324.5 1396.6L2353.9 1398.1L2383.2 1396.6L2412.3 1392.3L2440.8 1385.2L2468.5 1375.3L2495.1 1362.7L2520.3 1347.6L2543.9 1330.1L2565.7 1310.4L2585.4 1288.6L2602.9 1265L2618 1239.8L2630.6 1213.2L2640.5 1185.5L2647.6 1157L2651.9 1128" fill="none" stroke="#000000" stroke-opacity="0.5" stroke-width="1.04" stroke-linecap="square"/>
</g>
<path d="M2054 1398L2054 799" fill="none" stroke="#000000" stroke-width="1.67" stroke-linejoin="miter" stroke-linecap="square"/>
<path d="M2653 1398L2653 799" fill="none" stroke="#000000" stroke-width="1.67" stroke-linejoin="miter" stroke-linecap="square"/>
<path d="M2054 1398L2653 1398" fill="none" stroke="#000000" stroke-width="1.67" stroke-linejoin="miter" stroke-linecap="square"/>
<path d="M2054 799L2653 799" fill="none" stroke="#000000" stroke-width="1.67" stroke-linejoin="miter" stroke-linecap="square"/>
<text x="2066.4" y="1382.1" font-size="19.69" textLength="130.6" lengthAdjust="spacingAndGlyphs" fill-opacity="0.78">clipped [-1, 1]</text>
<text x="2353.9" y="786.6" font-size="30.63" textLength="309.2" lengthAdjust="spacingAndGlyphs" font-weight="bold" text-anchor="middle">Total Curvature |G|</text>
<path d="M2696 1398L2726 1398L2726 799L2696 799z" fill="#ffffff"/>
<g clip-path="url(#c8)">
<path d="M2696 1398L2726 1398L2726 799L2696 799z" fill="#21918c" shape-rendering="crispEdges"/>
</g>
<path d="M2726 1398L2733 1398" fill="#000000" stroke="#000000" stroke-width="1.67"/>
<text x="2740.5" y="1406.1" font-size="21.88" textLength="30.8" lengthAdjust="spacingAndGlyphs">−1</text>
<path d="M2726 1099L2733 1099" fill="#000000" stroke="#000000" stroke-width="1.67"/>
<text x="2740.5" y="1106.6" font-size="21.88" textLength="13.2" lengthAdjust="spacingAndGlyphs">0</text>
<path d="M2726 799L2733 799" fill="#000000" stroke="#000000" stroke-width="1.67"/>
<text x="2740.5" y="807.1" font-size="21.88" textLength="13.2" lengthAdjust="spacingAndGlyphs">1</text>
<text x="2795.6" y="1098.6" font-size="21.88" textLength="93.5" lengthAdjust="spacingAndGlyphs" text-anchor="middle" transform="rotate(-90 2795.6 1098.6)">|G| (1/m)</text>
<text x="2725.9" y="792.9" font-size="21.88" textLength="70.1" lengthAdjust="spacingAndGlyphs" text-anchor="end">1e−14</text>
<path d="M2696 1398L2711 1398L2726 1398L2726 799L2711 799L2696 799L2696 1398z" fill="none" stroke="#000000" stroke-width="1.67" stroke-linejoin="miter" stroke-linecap="square"/></svg></body></html>
